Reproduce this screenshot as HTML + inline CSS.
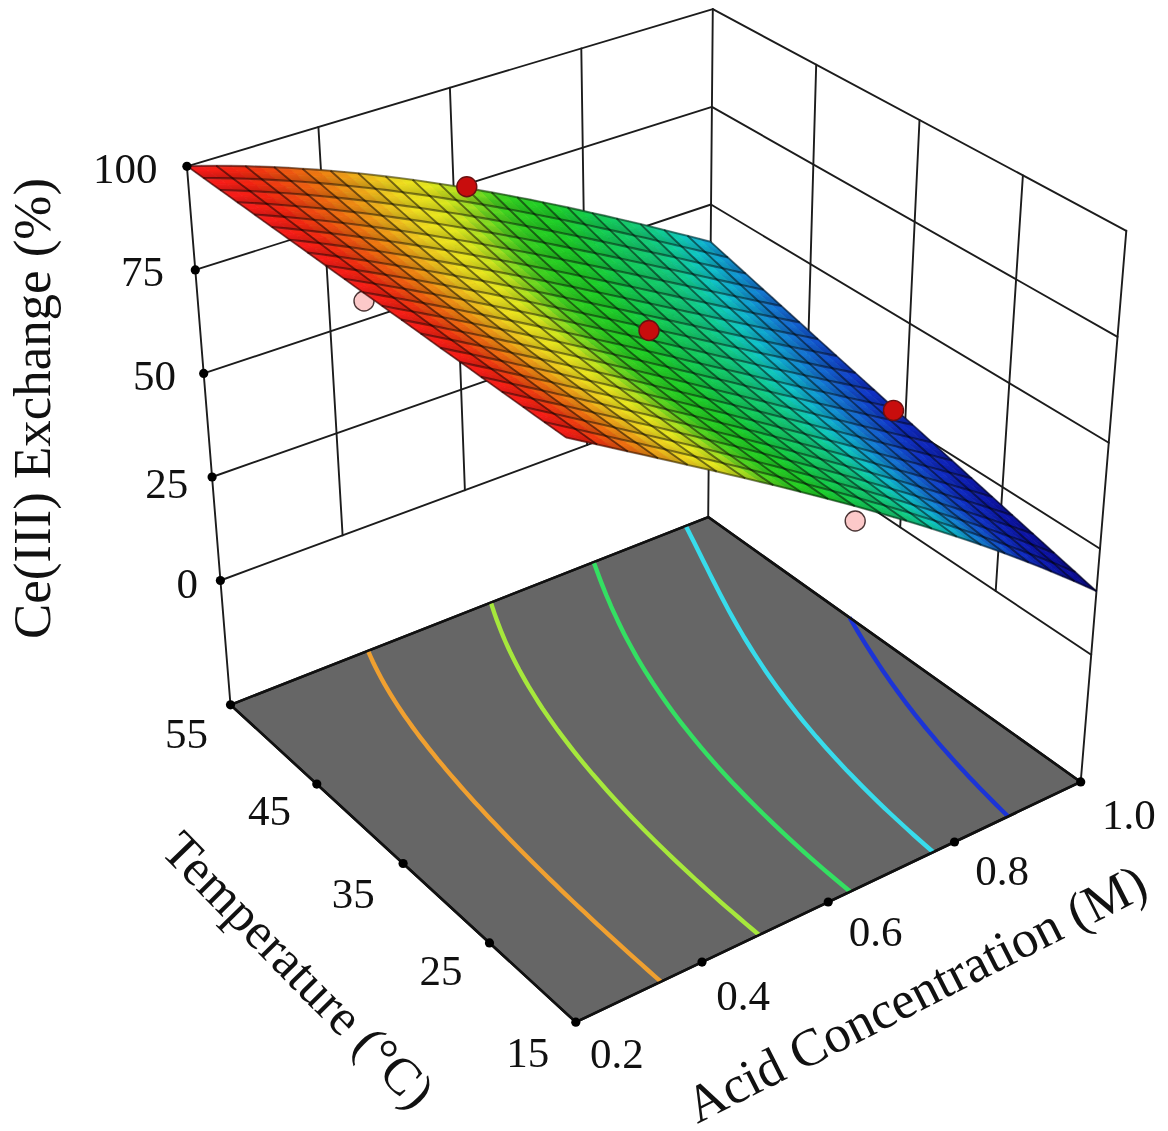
<!DOCTYPE html>
<html lang="en"><head><meta charset="utf-8"><title>Ce(III) Exchange response surface</title>
<style>html,body{margin:0;padding:0;background:#fff}svg{display:block}</style></head>
<body>
<svg width="1168" height="1131" viewBox="0 0 1168 1131">
<defs><linearGradient id="sh" x1="0" y1="0" x2="0.2" y2="1"><stop offset="0" stop-color="#fff" stop-opacity="0.12"/><stop offset="0.4" stop-color="#000" stop-opacity="0"/><stop offset="1" stop-color="#000" stop-opacity="0.18"/></linearGradient></defs>
<rect width="1168" height="1131" fill="#fff"/>
<g stroke="#1c1c1c" stroke-width="1.9" fill="none" stroke-linecap="round">
<path d="M186.9,166.3L712.8,9.2"/>
<path d="M195.3,269.9L711.9,106.9"/>
<path d="M203.7,373.4L711.0,204.5"/>
<path d="M212.1,477.0L710.1,302.2"/>
<path d="M220.4,580.5L709.3,399.9"/>
<path d="M318.4,127.0L342.6,535.4"/>
<path d="M449.9,87.8L464.9,490.2"/>
<path d="M581.3,48.5L587.1,445.1"/>
<path d="M712.8,9.2L1126.3,230.8"/>
<path d="M711.9,106.9L1117.5,336.8"/>
<path d="M711.0,204.5L1108.8,442.8"/>
<path d="M710.1,302.2L1100.0,548.7"/>
<path d="M709.3,399.9L1091.2,654.7"/>
<path d="M816.2,64.6L804.8,463.6"/>
<path d="M919.5,120.0L900.2,527.3"/>
<path d="M1022.9,175.4L995.7,591.0"/>
<path d="M186.9,166.3L230.5,704.8"/>
<path d="M712.8,9.2L708.2,517.1"/>
<path d="M1126.3,230.8L1080.7,781.9"/>
</g>
<polygon points="230.5,704.8 708.2,517.1 1080.7,781.9 575.8,1022.2" fill="#666666" stroke="#111" stroke-width="2.5" stroke-linejoin="round"/>
<g fill="none" stroke-width="4.4" stroke-linecap="butt">
<path d="M368.1,650.9L370.5,656.5L373.0,662.0L375.7,667.5L378.5,673.0L381.4,678.5L384.4,683.9L387.6,689.3L390.9,694.8L394.2,700.2L397.7,705.6L401.3,711.0L405.0,716.4L408.8,721.7L412.6,727.1L416.6,732.5L420.6,737.8L424.8,743.2L429.0,748.6L433.3,753.9L437.6,759.3L442.1,764.7L446.6,770.1L451.1,775.4L455.8,780.8L460.5,786.2L465.3,791.6L470.1,797.0L475.0,802.4L480.0,807.8L485.0,813.2L490.1,818.7L495.2,824.1L500.4,829.5L505.7,835.0L511.0,840.5L516.4,846.0L521.8,851.5L527.3,857.0L532.8,862.5L538.4,868.0L544.0,873.5L549.7,879.1L555.5,884.7L561.3,890.3L567.1,895.9L573.0,901.5L579.0,907.1L585.0,912.7L591.0,918.4L597.1,924.1L603.2,929.7L609.4,935.4L615.7,941.2L622.0,946.9L628.3,952.6L634.7,958.4L641.2,964.2L647.7,970.0L654.3,975.8L660.9,981.6" stroke="#f0a030"/>
<path d="M490.9,602.6L492.7,608.2L494.6,613.9L496.6,619.5L498.7,625.1L500.9,630.8L503.2,636.4L505.6,642.0L508.1,647.5L510.7,653.1L513.5,658.7L516.3,664.2L519.2,669.8L522.3,675.3L525.4,680.9L528.6,686.4L532.0,691.9L535.4,697.4L538.9,703.0L542.5,708.5L546.3,714.0L550.1,719.4L554.0,724.9L557.9,730.4L562.0,735.9L566.2,741.4L570.4,746.9L574.7,752.4L579.1,757.8L583.6,763.3L588.2,768.8L592.8,774.3L597.6,779.7L602.4,785.2L607.2,790.7L612.2,796.2L617.2,801.7L622.3,807.2L627.5,812.7L632.7,818.2L638.1,823.7L643.4,829.2L648.9,834.7L654.4,840.2L660.0,845.7L665.7,851.3L671.5,856.8L677.3,862.3L683.2,867.9L689.1,873.4L695.1,879.0L701.2,884.5L707.4,890.1L713.6,895.7L719.9,901.3L726.2,906.8L732.7,912.4L739.2,918.0L745.7,923.6L752.4,929.2L759.1,934.9" stroke="#a6e83c"/>
<path d="M593.7,562.2L595.7,567.6L597.7,573.1L599.8,578.6L601.9,584.1L604.1,589.6L606.3,595.1L608.7,600.6L611.0,606.1L613.5,611.6L616.1,617.1L618.7,622.7L621.4,628.2L624.1,633.7L627.0,639.2L630.0,644.7L633.0,650.3L636.1,655.8L639.3,661.3L642.6,666.8L646.0,672.3L649.5,677.8L653.0,683.3L656.7,688.8L660.4,694.3L664.2,699.8L668.1,705.3L672.1,710.8L676.2,716.3L680.4,721.8L684.6,727.2L689.0,732.7L693.4,738.2L697.9,743.7L702.5,749.1L707.2,754.6L712.0,760.1L716.8,765.6L721.7,771.0L726.7,776.5L731.8,782.0L737.0,787.4L742.3,792.9L747.6,798.4L753.0,803.8L758.5,809.3L764.1,814.8L769.7,820.2L775.4,825.7L781.2,831.2L787.1,836.7L793.1,842.1L799.1,847.6L805.2,853.1L811.4,858.6L817.7,864.1L824.0,869.6L830.4,875.0L836.9,880.5L843.5,886.0L850.1,891.5" stroke="#34e062"/>
<path d="M685.8,525.9L688.4,531.0L691.0,536.2L693.6,541.3L696.2,546.5L698.8,551.7L701.4,557.0L704.0,562.3L706.7,567.6L709.3,572.9L712.0,578.3L714.7,583.6L717.5,589.0L720.3,594.4L723.1,599.8L726.0,605.3L728.9,610.7L731.9,616.1L735.0,621.6L738.1,627.1L741.3,632.5L744.5,638.0L747.9,643.5L751.3,649.0L754.7,654.4L758.3,659.9L761.9,665.4L765.6,670.9L769.4,676.4L773.3,681.9L777.2,687.4L781.2,692.9L785.3,698.3L789.5,703.8L793.8,709.3L798.1,714.8L802.5,720.3L807.1,725.8L811.7,731.3L816.3,736.8L821.1,742.2L825.9,747.7L830.9,753.2L835.9,758.7L841.0,764.2L846.1,769.7L851.4,775.1L856.7,780.6L862.1,786.1L867.6,791.6L873.2,797.1L878.8,802.6L884.5,808.1L890.3,813.5L896.2,819.0L902.2,824.5L908.2,830.0L914.3,835.5L920.5,841.0L926.8,846.5L933.1,852.0" stroke="#38dcec"/>
<path d="M849.6,617.6L851.3,620.5L854.5,626.0L857.8,631.5L861.2,637.1L864.6,642.6L868.1,648.2L871.7,653.8L875.3,659.3L879.0,664.9L882.7,670.5L886.6,676.1L890.5,681.7L894.5,687.3L898.6,692.9L902.7,698.5L906.9,704.1L911.2,709.7L915.6,715.3L920.1,720.9L924.6,726.5L929.3,732.1L934.0,737.7L938.7,743.3L943.6,748.9L948.6,754.5L953.6,760.1L958.7,765.7L963.9,771.3L969.1,776.9L974.5,782.6L979.9,788.2L985.4,793.8L990.9,799.4L996.6,805.1L1002.3,810.7L1008.1,816.3" stroke="#1c34d6"/>
</g>
<polygon points="230.5,704.8 708.2,517.1 1080.7,781.9 575.8,1022.2" fill="none" stroke="#111" stroke-width="2.5" stroke-linejoin="round"/>
<circle cx="364" cy="301" r="10" fill="#fcc9c9" stroke="#4a3434" stroke-width="1.4"/>
<circle cx="855.2" cy="521" r="10" fill="#fcc9c9" stroke="#4a3434" stroke-width="1.4"/>
<g stroke-width="0.8" stroke-linejoin="round">
<path d="M699.1,238.7L710.6,241.7L719.3,249.6L707.8,246.7Z" fill="#10a6d1" stroke="#10a6d1"/>
<path d="M707.8,246.7L719.3,249.6L728.0,257.5L716.5,254.8Z" fill="#109ed2" stroke="#109ed2"/>
<path d="M687.5,235.8L699.1,238.7L707.8,246.7L696.2,243.9Z" fill="#10b9cc" stroke="#10b9cc"/>
<path d="M675.9,232.9L687.5,235.8L696.2,243.9L684.6,241.0Z" fill="#10c9c3" stroke="#10c9c3"/>
<path d="M716.5,254.8L728.0,257.5L736.8,265.5L725.3,262.8Z" fill="#1197d2" stroke="#1197d2"/>
<path d="M696.2,243.9L707.8,246.7L716.5,254.8L705.0,252.0Z" fill="#10b2ce" stroke="#10b2ce"/>
<path d="M664.2,229.9L675.9,232.9L684.6,241.0L672.9,238.2Z" fill="#10ccae" stroke="#10ccae"/>
<path d="M684.6,241.0L696.2,243.9L705.0,252.0L693.4,249.2Z" fill="#10c5c9" stroke="#10c5c9"/>
<path d="M725.3,262.8L736.8,265.5L745.7,273.5L734.2,270.9Z" fill="#128fd3" stroke="#128fd3"/>
<path d="M705.0,252.0L716.5,254.8L725.3,262.8L713.8,260.1Z" fill="#10aacf" stroke="#10aacf"/>
<path d="M672.9,238.2L684.6,241.0L693.4,249.2L681.6,246.4Z" fill="#10cbb7" stroke="#10cbb7"/>
<path d="M652.4,227.0L664.2,229.9L672.9,238.2L661.1,235.3Z" fill="#10d099" stroke="#10d099"/>
<path d="M693.4,249.2L705.0,252.0L713.8,260.1L702.2,257.4Z" fill="#10bdcb" stroke="#10bdcb"/>
<path d="M734.2,270.9L745.7,273.5L754.6,281.6L743.1,279.0Z" fill="#1288d3" stroke="#1288d3"/>
<path d="M713.8,260.1L725.3,262.8L734.2,270.9L722.6,268.3Z" fill="#10a3d1" stroke="#10a3d1"/>
<path d="M640.5,224.1L652.4,227.0L661.1,235.3L649.2,232.5Z" fill="#12ce87" stroke="#12ce87"/>
<path d="M681.6,246.4L693.4,249.2L702.2,257.4L690.4,254.7Z" fill="#10c9bf" stroke="#10c9bf"/>
<path d="M743.1,279.0L754.6,281.6L763.5,289.7L752.0,287.2Z" fill="#1380d4" stroke="#1380d4"/>
<path d="M661.1,235.3L672.9,238.2L681.6,246.4L669.9,243.7Z" fill="#10cea1" stroke="#10cea1"/>
<path d="M702.2,257.4L713.8,260.1L722.6,268.3L711.0,265.6Z" fill="#10b6cd" stroke="#10b6cd"/>
<path d="M722.6,268.3L734.2,270.9L743.1,279.0L731.5,276.5Z" fill="#109bd2" stroke="#109bd2"/>
<path d="M649.2,232.5L661.1,235.3L669.9,243.7L658.0,240.9Z" fill="#11cf8e" stroke="#11cf8e"/>
<path d="M690.4,254.7L702.2,257.4L711.0,265.6L699.3,263.0Z" fill="#10c8c8" stroke="#10c8c8"/>
<path d="M752.0,287.2L763.5,289.7L772.5,297.8L761.0,295.4Z" fill="#1479d4" stroke="#1479d4"/>
<path d="M628.6,221.3L640.5,224.1L649.2,232.5L637.3,229.7Z" fill="#14cc77" stroke="#14cc77"/>
<path d="M669.9,243.7L681.6,246.4L690.4,254.7L678.7,252.0Z" fill="#10cdaa" stroke="#10cdaa"/>
<path d="M711.0,265.6L722.6,268.3L731.5,276.5L719.9,273.9Z" fill="#10aece" stroke="#10aece"/>
<path d="M731.5,276.5L743.1,279.0L752.0,287.2L740.5,284.7Z" fill="#1194d3" stroke="#1194d3"/>
<path d="M616.5,218.4L628.6,221.3L637.3,229.7L625.2,226.9Z" fill="#14cd6d" stroke="#14cd6d"/>
<path d="M658.0,240.9L669.9,243.7L678.7,252.0L666.8,249.3Z" fill="#10d095" stroke="#10d095"/>
<path d="M699.3,263.0L711.0,265.6L719.9,273.9L708.2,271.3Z" fill="#10c1ca" stroke="#10c1ca"/>
<path d="M719.9,273.9L731.5,276.5L740.5,284.7L728.8,282.1Z" fill="#10a7d0" stroke="#10a7d0"/>
<path d="M761.0,295.4L772.5,297.8L781.5,306.0L770.0,303.6Z" fill="#1472d3" stroke="#1472d3"/>
<path d="M637.3,229.7L649.2,232.5L658.0,240.9L646.0,238.1Z" fill="#13cd7d" stroke="#13cd7d"/>
<path d="M678.7,252.0L690.4,254.7L699.3,263.0L687.5,260.3Z" fill="#10cbb3" stroke="#10cbb3"/>
<path d="M740.5,284.7L752.0,287.2L761.0,295.4L749.4,292.9Z" fill="#128cd3" stroke="#128cd3"/>
<path d="M604.4,215.6L616.5,218.4L625.2,226.9L613.1,224.1Z" fill="#14cd63" stroke="#14cd63"/>
<path d="M708.2,271.3L719.9,273.9L728.8,282.1L717.1,279.6Z" fill="#10b9cc" stroke="#10b9cc"/>
<path d="M625.2,226.9L637.3,229.7L646.0,238.1L634.0,235.4Z" fill="#14cc71" stroke="#14cc71"/>
<path d="M666.8,249.3L678.7,252.0L687.5,260.3L675.6,257.6Z" fill="#10cf9e" stroke="#10cf9e"/>
<path d="M728.8,282.1L740.5,284.7L749.4,292.9L737.8,290.4Z" fill="#10a0d2" stroke="#10a0d2"/>
<path d="M770.0,303.6L781.5,306.0L790.6,314.2L779.1,311.9Z" fill="#136cd2" stroke="#136cd2"/>
<path d="M646.0,238.1L658.0,240.9L666.8,249.3L654.8,246.5Z" fill="#12ce84" stroke="#12ce84"/>
<path d="M687.5,260.3L699.3,263.0L708.2,271.3L696.4,268.7Z" fill="#10cabb" stroke="#10cabb"/>
<path d="M749.4,292.9L761.0,295.4L770.0,303.6L758.5,301.2Z" fill="#1384d3" stroke="#1384d3"/>
<path d="M613.1,224.1L625.2,226.9L634.0,235.4L621.9,232.6Z" fill="#14cd67" stroke="#14cd67"/>
<path d="M717.1,279.6L728.8,282.1L737.8,290.4L726.1,287.9Z" fill="#10b2ce" stroke="#10b2ce"/>
<path d="M592.2,212.9L604.4,215.6L613.1,224.1L600.9,221.4Z" fill="#14ce59" stroke="#14ce59"/>
<path d="M634.0,235.4L646.0,238.1L654.8,246.5L642.8,243.8Z" fill="#14cc75" stroke="#14cc75"/>
<path d="M675.6,257.6L687.5,260.3L696.4,268.7L684.5,266.0Z" fill="#10cda6" stroke="#10cda6"/>
<path d="M696.4,268.7L708.2,271.3L717.1,279.6L705.3,277.0Z" fill="#10c9c4" stroke="#10c9c4"/>
<path d="M737.8,290.4L749.4,292.9L758.5,301.2L746.8,298.7Z" fill="#1198d2" stroke="#1198d2"/>
<path d="M779.1,311.9L790.6,314.2L799.7,322.4L788.2,320.1Z" fill="#1365d1" stroke="#1365d1"/>
<path d="M654.8,246.5L666.8,249.3L675.6,257.6L663.7,254.9Z" fill="#11cf8b" stroke="#11cf8b"/>
<path d="M758.5,301.2L770.0,303.6L779.1,311.9L767.5,309.5Z" fill="#147dd4" stroke="#147dd4"/>
<path d="M579.9,210.1L592.2,212.9L600.9,221.4L588.6,218.7Z" fill="#14ce4f" stroke="#14ce4f"/>
<path d="M621.9,232.6L634.0,235.4L642.8,243.8L630.7,241.1Z" fill="#14cd6c" stroke="#14cd6c"/>
<path d="M684.5,266.0L696.4,268.7L705.3,277.0L693.4,274.4Z" fill="#10ccaf" stroke="#10ccaf"/>
<path d="M726.1,287.9L737.8,290.4L746.8,298.7L735.1,296.2Z" fill="#10abcf" stroke="#10abcf"/>
<path d="M788.2,320.1L799.7,322.4L808.8,330.7L797.4,328.5Z" fill="#135fd0" stroke="#135fd0"/>
<path d="M600.9,221.4L613.1,224.1L621.9,232.6L609.7,229.9Z" fill="#14cd5d" stroke="#14cd5d"/>
<path d="M642.8,243.8L654.8,246.5L663.7,254.9L651.6,252.3Z" fill="#14cc7b" stroke="#14cc7b"/>
<path d="M705.3,277.0L717.1,279.6L726.1,287.9L714.3,285.4Z" fill="#10c4c9" stroke="#10c4c9"/>
<path d="M746.8,298.7L758.5,301.2L767.5,309.5L755.9,307.1Z" fill="#1290d3" stroke="#1290d3"/>
<path d="M663.7,254.9L675.6,257.6L684.5,266.0L672.6,263.4Z" fill="#10d092" stroke="#10d092"/>
<path d="M767.5,309.5L779.1,311.9L788.2,320.1L776.6,317.8Z" fill="#1476d4" stroke="#1476d4"/>
<path d="M588.6,218.7L600.9,221.4L609.7,229.9L597.4,227.2Z" fill="#14ce53" stroke="#14ce53"/>
<path d="M630.7,241.1L642.8,243.8L651.6,252.3L639.5,249.6Z" fill="#14cc70" stroke="#14cc70"/>
<path d="M693.4,274.4L705.3,277.0L714.3,285.4L702.4,282.8Z" fill="#10cbb7" stroke="#10cbb7"/>
<path d="M735.1,296.2L746.8,298.7L755.9,307.1L744.2,304.6Z" fill="#10a3d1" stroke="#10a3d1"/>
<path d="M797.4,328.5L808.8,330.7L818.0,339.1L806.6,336.8Z" fill="#1259cf" stroke="#1259cf"/>
<path d="M567.6,207.4L579.9,210.1L588.6,218.7L576.3,216.0Z" fill="#17cf43" stroke="#17cf43"/>
<path d="M609.7,229.9L621.9,232.6L630.7,241.1L618.5,238.4Z" fill="#14cd62" stroke="#14cd62"/>
<path d="M651.6,252.3L663.7,254.9L672.6,263.4L660.5,260.7Z" fill="#13cd82" stroke="#13cd82"/>
<path d="M672.6,263.4L684.5,266.0L693.4,274.4L681.5,271.8Z" fill="#10cf9a" stroke="#10cf9a"/>
<path d="M714.3,285.4L726.1,287.9L735.1,296.2L723.3,293.7Z" fill="#10bdcb" stroke="#10bdcb"/>
<path d="M755.9,307.1L767.5,309.5L776.6,317.8L765.0,315.4Z" fill="#1289d3" stroke="#1289d3"/>
<path d="M776.6,317.8L788.2,320.1L797.4,328.5L785.8,326.1Z" fill="#146fd2" stroke="#146fd2"/>
<path d="M555.1,204.8L567.6,207.4L576.3,216.0L563.8,213.3Z" fill="#1acf36" stroke="#1acf36"/>
<path d="M597.4,227.2L609.7,229.9L618.5,238.4L606.2,235.7Z" fill="#14ce58" stroke="#14ce58"/>
<path d="M639.5,249.6L651.6,252.3L660.5,260.7L648.4,258.0Z" fill="#14cc74" stroke="#14cc74"/>
<path d="M660.5,260.7L672.6,263.4L681.5,271.8L669.5,269.1Z" fill="#12ce89" stroke="#12ce89"/>
<path d="M702.4,282.8L714.3,285.4L723.3,293.7L711.5,291.2Z" fill="#10c9c0" stroke="#10c9c0"/>
<path d="M744.2,304.6L755.9,307.1L765.0,315.4L753.3,313.0Z" fill="#109cd2" stroke="#109cd2"/>
<path d="M765.0,315.4L776.6,317.8L785.8,326.1L774.2,323.8Z" fill="#1381d4" stroke="#1381d4"/>
<path d="M806.6,336.8L818.0,339.1L827.3,347.5L815.8,345.2Z" fill="#1252cd" stroke="#1252cd"/>
<path d="M576.3,216.0L588.6,218.7L597.4,227.2L585.0,224.5Z" fill="#16ce48" stroke="#16ce48"/>
<path d="M618.5,238.4L630.7,241.1L639.5,249.6L627.3,246.9Z" fill="#14cd66" stroke="#14cd66"/>
<path d="M681.5,271.8L693.4,274.4L702.4,282.8L690.5,280.2Z" fill="#10cea2" stroke="#10cea2"/>
<path d="M723.3,293.7L735.1,296.2L744.2,304.6L732.4,302.1Z" fill="#10b6cd" stroke="#10b6cd"/>
<path d="M785.8,326.1L797.4,328.5L806.6,336.8L795.0,334.5Z" fill="#1369d1" stroke="#1369d1"/>
<path d="M542.6,202.2L555.1,204.8L563.8,213.3L551.3,210.7Z" fill="#1dd02a" stroke="#1dd02a"/>
<path d="M648.4,258.0L660.5,260.7L669.5,269.1L657.3,266.5Z" fill="#14cc78" stroke="#14cc78"/>
<path d="M753.3,313.0L765.0,315.4L774.2,323.8L762.5,321.3Z" fill="#1195d3" stroke="#1195d3"/>
<path d="M563.8,213.3L576.3,216.0L585.0,224.5L572.6,221.9Z" fill="#19cf3c" stroke="#19cf3c"/>
<path d="M606.2,235.7L618.5,238.4L627.3,246.9L615.0,244.2Z" fill="#14cd5c" stroke="#14cd5c"/>
<path d="M669.5,269.1L681.5,271.8L690.5,280.2L678.4,277.6Z" fill="#11cf8f" stroke="#11cf8f"/>
<path d="M711.5,291.2L723.3,293.7L732.4,302.1L720.5,299.6Z" fill="#10c8c8" stroke="#10c8c8"/>
<path d="M774.2,323.8L785.8,326.1L795.0,334.5L783.4,332.1Z" fill="#147ad4" stroke="#147ad4"/>
<path d="M815.8,345.2L827.3,347.5L836.6,355.9L825.1,353.6Z" fill="#124ccc" stroke="#124ccc"/>
<path d="M585.0,224.5L597.4,227.2L606.2,235.7L593.8,233.1Z" fill="#15ce4d" stroke="#15ce4d"/>
<path d="M627.3,246.9L639.5,249.6L648.4,258.0L636.2,255.4Z" fill="#14cd6a" stroke="#14cd6a"/>
<path d="M690.5,280.2L702.4,282.8L711.5,291.2L699.5,288.6Z" fill="#10cdab" stroke="#10cdab"/>
<path d="M732.4,302.1L744.2,304.6L753.3,313.0L741.5,310.5Z" fill="#10afce" stroke="#10afce"/>
<path d="M795.0,334.5L806.6,336.8L815.8,345.2L804.3,342.9Z" fill="#1363d0" stroke="#1363d0"/>
<path d="M551.3,210.7L563.8,213.3L572.6,221.9L560.0,219.3Z" fill="#1cd030" stroke="#1cd030"/>
<path d="M657.3,266.5L669.5,269.1L678.4,277.6L666.3,274.9Z" fill="#13cd7f" stroke="#13cd7f"/>
<path d="M762.5,321.3L774.2,323.8L783.4,332.1L771.7,329.7Z" fill="#128dd3" stroke="#128dd3"/>
<path d="M530.0,199.6L542.6,202.2L551.3,210.7L538.7,208.2Z" fill="#22d026" stroke="#22d026"/>
<path d="M572.6,221.9L585.0,224.5L593.8,233.1L581.4,230.4Z" fill="#18cf41" stroke="#18cf41"/>
<path d="M615.0,244.2L627.3,246.9L636.2,255.4L623.9,252.7Z" fill="#14cd60" stroke="#14cd60"/>
<path d="M636.2,255.4L648.4,258.0L657.3,266.5L645.1,263.8Z" fill="#14cc6e" stroke="#14cc6e"/>
<path d="M678.4,277.6L690.5,280.2L699.5,288.6L687.5,286.0Z" fill="#10d096" stroke="#10d096"/>
<path d="M720.5,299.6L732.4,302.1L741.5,310.5L729.6,308.0Z" fill="#10c1ca" stroke="#10c1ca"/>
<path d="M741.5,310.5L753.3,313.0L762.5,321.3L750.7,318.9Z" fill="#10a8d0" stroke="#10a8d0"/>
<path d="M783.4,332.1L795.0,334.5L804.3,342.9L792.7,340.5Z" fill="#1473d3" stroke="#1473d3"/>
<path d="M825.1,353.6L836.6,355.9L846.0,364.4L834.5,362.1Z" fill="#1146cb" stroke="#1146cb"/>
<path d="M593.8,233.1L606.2,235.7L615.0,244.2L602.7,241.6Z" fill="#14ce52" stroke="#14ce52"/>
<path d="M699.5,288.6L711.5,291.2L720.5,299.6L708.6,297.0Z" fill="#10cbb3" stroke="#10cbb3"/>
<path d="M804.3,342.9L815.8,345.2L825.1,353.6L813.6,351.3Z" fill="#135ccf" stroke="#135ccf"/>
<path d="M517.3,197.2L530.0,199.6L538.7,208.2L526.0,205.7Z" fill="#27d024" stroke="#27d024"/>
<path d="M560.0,219.3L572.6,221.9L581.4,230.4L568.8,227.8Z" fill="#1bcf35" stroke="#1bcf35"/>
<path d="M623.9,252.7L636.2,255.4L645.1,263.8L632.9,261.2Z" fill="#14cd64" stroke="#14cd64"/>
<path d="M666.3,274.9L678.4,277.6L687.5,286.0L675.3,283.4Z" fill="#12ce85" stroke="#12ce85"/>
<path d="M729.6,308.0L741.5,310.5L750.7,318.9L738.8,316.3Z" fill="#10bacb" stroke="#10bacb"/>
<path d="M771.7,329.7L783.4,332.1L792.7,340.5L781.0,338.1Z" fill="#1386d3" stroke="#1386d3"/>
<path d="M834.5,362.1L846.0,364.4L855.4,372.9L843.9,370.6Z" fill="#113fca" stroke="#113fca"/>
<path d="M538.7,208.2L551.3,210.7L560.0,219.3L547.4,216.7Z" fill="#20d027" stroke="#20d027"/>
<path d="M581.4,230.4L593.8,233.1L602.7,241.6L590.2,238.9Z" fill="#16ce46" stroke="#16ce46"/>
<path d="M645.1,263.8L657.3,266.5L666.3,274.9L654.1,272.3Z" fill="#14cc72" stroke="#14cc72"/>
<path d="M687.5,286.0L699.5,288.6L708.6,297.0L696.5,294.4Z" fill="#10cf9e" stroke="#10cf9e"/>
<path d="M750.7,318.9L762.5,321.3L771.7,329.7L759.9,327.3Z" fill="#10a1d2" stroke="#10a1d2"/>
<path d="M792.7,340.5L804.3,342.9L813.6,351.3L802.0,349.0Z" fill="#136dd2" stroke="#136dd2"/>
<path d="M602.7,241.6L615.0,244.2L623.9,252.7L611.5,250.1Z" fill="#14ce56" stroke="#14ce56"/>
<path d="M708.6,297.0L720.5,299.6L729.6,308.0L717.7,305.4Z" fill="#10cabb" stroke="#10cabb"/>
<path d="M813.6,351.3L825.1,353.6L834.5,362.1L823.0,359.8Z" fill="#1256ce" stroke="#1256ce"/>
<path d="M526.0,205.7L538.7,208.2L547.4,216.7L534.7,214.2Z" fill="#25d025" stroke="#25d025"/>
<path d="M568.8,227.8L581.4,230.4L590.2,238.9L577.7,236.3Z" fill="#19cf3a" stroke="#19cf3a"/>
<path d="M632.9,261.2L645.1,263.8L654.1,272.3L641.8,269.6Z" fill="#14cd68" stroke="#14cd68"/>
<path d="M675.3,283.4L687.5,286.0L696.5,294.4L684.4,291.8Z" fill="#11cf8c" stroke="#11cf8c"/>
<path d="M738.8,316.3L750.7,318.9L759.9,327.3L748.0,324.8Z" fill="#10b3cd" stroke="#10b3cd"/>
<path d="M781.0,338.1L792.7,340.5L802.0,349.0L790.3,346.6Z" fill="#137fd4" stroke="#137fd4"/>
<path d="M843.9,370.6L855.4,372.9L864.8,381.4L853.4,379.1Z" fill="#1039c9" stroke="#1039c9"/>
<path d="M504.5,194.7L517.3,197.2L526.0,205.7L513.2,203.2Z" fill="#2ed022" stroke="#2ed022"/>
<path d="M547.4,216.7L560.0,219.3L568.8,227.8L556.2,225.2Z" fill="#1ed029" stroke="#1ed029"/>
<path d="M590.2,238.9L602.7,241.6L611.5,250.1L599.1,247.4Z" fill="#15ce4c" stroke="#15ce4c"/>
<path d="M611.5,250.1L623.9,252.7L632.9,261.2L620.5,258.5Z" fill="#14cd5a" stroke="#14cd5a"/>
<path d="M654.1,272.3L666.3,274.9L675.3,283.4L663.1,280.7Z" fill="#14cc76" stroke="#14cc76"/>
<path d="M696.5,294.4L708.6,297.0L717.7,305.4L705.7,302.8Z" fill="#10cda6" stroke="#10cda6"/>
<path d="M717.7,305.4L729.6,308.0L738.8,316.3L726.9,313.8Z" fill="#10c9c3" stroke="#10c9c3"/>
<path d="M759.9,327.3L771.7,329.7L781.0,338.1L769.2,335.7Z" fill="#1199d2" stroke="#1199d2"/>
<path d="M802.0,349.0L813.6,351.3L823.0,359.8L811.3,357.4Z" fill="#1367d1" stroke="#1367d1"/>
<path d="M823.0,359.8L834.5,362.1L843.9,370.6L832.4,368.3Z" fill="#1250cd" stroke="#1250cd"/>
<path d="M491.6,192.4L504.5,194.7L513.2,203.2L500.3,200.8Z" fill="#3cd220" stroke="#3cd220"/>
<path d="M534.7,214.2L547.4,216.7L556.2,225.2L543.5,222.7Z" fill="#22d026" stroke="#22d026"/>
<path d="M577.7,236.3L590.2,238.9L599.1,247.4L586.5,244.8Z" fill="#18cf3f" stroke="#18cf3f"/>
<path d="M599.1,247.4L611.5,250.1L620.5,258.5L608.0,255.9Z" fill="#14ce51" stroke="#14ce51"/>
<path d="M641.8,269.6L654.1,272.3L663.1,280.7L650.9,278.1Z" fill="#14cd6c" stroke="#14cd6c"/>
<path d="M684.4,291.8L696.5,294.4L705.7,302.8L693.5,300.2Z" fill="#11cf92" stroke="#11cf92"/>
<path d="M705.7,302.8L717.7,305.4L726.9,313.8L714.8,311.2Z" fill="#10ccae" stroke="#10ccae"/>
<path d="M748.0,324.8L759.9,327.3L769.2,335.7L757.3,333.2Z" fill="#10accf" stroke="#10accf"/>
<path d="M790.3,346.6L802.0,349.0L811.3,357.4L799.6,355.0Z" fill="#1477d4" stroke="#1477d4"/>
<path d="M811.3,357.4L823.0,359.8L832.4,368.3L820.7,365.9Z" fill="#1361d0" stroke="#1361d0"/>
<path d="M853.4,379.1L864.8,381.4L874.3,390.0L862.9,387.7Z" fill="#1033c8" stroke="#1033c8"/>
<path d="M513.2,203.2L526.0,205.7L534.7,214.2L521.9,211.7Z" fill="#29d022" stroke="#29d022"/>
<path d="M556.2,225.2L568.8,227.8L577.7,236.3L565.0,233.7Z" fill="#1cd02e" stroke="#1cd02e"/>
<path d="M620.5,258.5L632.9,261.2L641.8,269.6L629.5,267.0Z" fill="#14cd5e" stroke="#14cd5e"/>
<path d="M663.1,280.7L675.3,283.4L684.4,291.8L672.2,289.1Z" fill="#14cc7b" stroke="#14cc7b"/>
<path d="M726.9,313.8L738.8,316.3L748.0,324.8L736.1,322.2Z" fill="#10c6c9" stroke="#10c6c9"/>
<path d="M769.2,335.7L781.0,338.1L790.3,346.6L778.5,344.1Z" fill="#1192d3" stroke="#1192d3"/>
<path d="M832.4,368.3L843.9,370.6L853.4,379.1L841.8,376.8Z" fill="#124acc" stroke="#124acc"/>
<path d="M478.7,190.1L491.6,192.4L500.3,200.8L487.3,198.5Z" fill="#55d520" stroke="#55d520"/>
<path d="M586.5,244.8L599.1,247.4L608.0,255.9L595.5,253.2Z" fill="#17cf44" stroke="#17cf44"/>
<path d="M693.5,300.2L705.7,302.8L714.8,311.2L702.7,308.6Z" fill="#10d099" stroke="#10d099"/>
<path d="M799.6,355.0L811.3,357.4L820.7,365.9L809.1,363.4Z" fill="#1471d3" stroke="#1471d3"/>
<path d="M500.3,200.8L513.2,203.2L521.9,211.7L509.0,209.3Z" fill="#36d121" stroke="#36d121"/>
<path d="M543.5,222.7L556.2,225.2L565.0,233.7L552.3,231.1Z" fill="#20d027" stroke="#20d027"/>
<path d="M608.0,255.9L620.5,258.5L629.5,267.0L617.0,264.3Z" fill="#14ce54" stroke="#14ce54"/>
<path d="M650.9,278.1L663.1,280.7L672.2,289.1L659.9,286.5Z" fill="#14cc70" stroke="#14cc70"/>
<path d="M714.8,311.2L726.9,313.8L736.1,322.2L724.1,319.6Z" fill="#10cbb6" stroke="#10cbb6"/>
<path d="M757.3,333.2L769.2,335.7L778.5,344.1L766.6,341.6Z" fill="#10a6d1" stroke="#10a6d1"/>
<path d="M820.7,365.9L832.4,368.3L841.8,376.8L830.2,374.4Z" fill="#135bcf" stroke="#135bcf"/>
<path d="M862.9,387.7L874.3,390.0L883.9,398.7L872.4,396.3Z" fill="#1030c6" stroke="#1030c6"/>
<path d="M521.9,211.7L534.7,214.2L543.5,222.7L530.7,220.2Z" fill="#27d023" stroke="#27d023"/>
<path d="M565.0,233.7L577.7,236.3L586.5,244.8L573.9,242.2Z" fill="#1bcf33" stroke="#1bcf33"/>
<path d="M629.5,267.0L641.8,269.6L650.9,278.1L638.5,275.4Z" fill="#14cd62" stroke="#14cd62"/>
<path d="M672.2,289.1L684.4,291.8L693.5,300.2L681.3,297.6Z" fill="#13cd81" stroke="#13cd81"/>
<path d="M736.1,322.2L748.0,324.8L757.3,333.2L745.4,330.6Z" fill="#10bfca" stroke="#10bfca"/>
<path d="M778.5,344.1L790.3,346.6L799.6,355.0L787.9,352.5Z" fill="#128bd3" stroke="#128bd3"/>
<path d="M841.8,376.8L853.4,379.1L862.9,387.7L851.3,385.3Z" fill="#1144cb" stroke="#1144cb"/>
<path d="M487.3,198.5L500.3,200.8L509.0,209.3L496.1,206.9Z" fill="#47d320" stroke="#47d320"/>
<path d="M595.5,253.2L608.0,255.9L617.0,264.3L604.4,261.7Z" fill="#16ce49" stroke="#16ce49"/>
<path d="M702.7,308.6L714.8,311.2L724.1,319.6L711.9,317.0Z" fill="#10cea0" stroke="#10cea0"/>
<path d="M809.1,363.4L820.7,365.9L830.2,374.4L818.5,371.9Z" fill="#136bd2" stroke="#136bd2"/>
<path d="M509.0,209.3L521.9,211.7L530.7,220.2L517.8,217.7Z" fill="#30d022" stroke="#30d022"/>
<path d="M552.3,231.1L565.0,233.7L573.9,242.2L561.2,239.6Z" fill="#1ed028" stroke="#1ed028"/>
<path d="M617.0,264.3L629.5,267.0L638.5,275.4L626.0,272.7Z" fill="#14ce58" stroke="#14ce58"/>
<path d="M659.9,286.5L672.2,289.1L681.3,297.6L669.0,294.9Z" fill="#14cc74" stroke="#14cc74"/>
<path d="M724.1,319.6L736.1,322.2L745.4,330.6L733.3,328.0Z" fill="#10cabd" stroke="#10cabd"/>
<path d="M766.6,341.6L778.5,344.1L787.9,352.5L776.0,350.0Z" fill="#109fd2" stroke="#109fd2"/>
<path d="M830.2,374.4L841.8,376.8L851.3,385.3L839.7,382.9Z" fill="#1254ce" stroke="#1254ce"/>
<path d="M872.4,396.3L883.9,398.7L893.5,407.4L882.0,405.0Z" fill="#0f2ec4" stroke="#0f2ec4"/>
<path d="M465.6,187.9L478.7,190.1L487.3,198.5L474.3,196.2Z" fill="#76da20" stroke="#76da20"/>
<path d="M573.9,242.2L586.5,244.8L595.5,253.2L582.8,250.6Z" fill="#1acf38" stroke="#1acf38"/>
<path d="M681.3,297.6L693.5,300.2L702.7,308.6L690.5,306.0Z" fill="#12ce88" stroke="#12ce88"/>
<path d="M787.9,352.5L799.6,355.0L809.1,363.4L797.3,360.9Z" fill="#1384d3" stroke="#1384d3"/>
<path d="M530.7,220.2L543.5,222.7L552.3,231.1L539.5,228.6Z" fill="#25d024" stroke="#25d024"/>
<path d="M638.5,275.4L650.9,278.1L659.9,286.5L647.6,283.8Z" fill="#14cd66" stroke="#14cd66"/>
<path d="M745.4,330.6L757.3,333.2L766.6,341.6L754.7,339.0Z" fill="#10b8cc" stroke="#10b8cc"/>
<path d="M851.3,385.3L862.9,387.7L872.4,396.3L860.9,393.9Z" fill="#113dca" stroke="#113dca"/>
<path d="M496.1,206.9L509.0,209.3L517.8,217.7L504.8,215.3Z" fill="#3ed220" stroke="#3ed220"/>
<path d="M604.4,261.7L617.0,264.3L626.0,272.7L613.5,270.1Z" fill="#15ce4e" stroke="#15ce4e"/>
<path d="M711.9,317.0L724.1,319.6L733.3,328.0L721.2,325.4Z" fill="#10cda8" stroke="#10cda8"/>
<path d="M818.5,371.9L830.2,374.4L839.7,382.9L828.0,380.4Z" fill="#1365d1" stroke="#1365d1"/>
<path d="M882.0,405.0L893.5,407.4L903.1,416.1L891.7,413.7Z" fill="#0f2bc1" stroke="#0f2bc1"/>
<path d="M561.2,239.6L573.9,242.2L582.8,250.6L570.1,248.0Z" fill="#1dd02c" stroke="#1dd02c"/>
<path d="M669.0,294.9L681.3,297.6L690.5,306.0L678.2,303.3Z" fill="#14cc77" stroke="#14cc77"/>
<path d="M776.0,350.0L787.9,352.5L797.3,360.9L785.4,358.4Z" fill="#1198d2" stroke="#1198d2"/>
<path d="M452.5,185.7L465.6,187.9L474.3,196.2L461.2,194.1Z" fill="#9fe020" stroke="#9fe020"/>
<path d="M474.3,196.2L487.3,198.5L496.1,206.9L483.0,204.6Z" fill="#66d720" stroke="#66d720"/>
<path d="M517.8,217.7L530.7,220.2L539.5,228.6L526.6,226.1Z" fill="#2ad022" stroke="#2ad022"/>
<path d="M582.8,250.6L595.5,253.2L604.4,261.7L591.8,259.0Z" fill="#19cf3d" stroke="#19cf3d"/>
<path d="M626.0,272.7L638.5,275.4L647.6,283.8L635.1,281.1Z" fill="#14cd5c" stroke="#14cd5c"/>
<path d="M690.5,306.0L702.7,308.6L711.9,317.0L699.7,314.3Z" fill="#11cf8e" stroke="#11cf8e"/>
<path d="M733.3,328.0L745.4,330.6L754.7,339.0L742.6,336.4Z" fill="#10c9c4" stroke="#10c9c4"/>
<path d="M797.3,360.9L809.1,363.4L818.5,371.9L806.7,369.4Z" fill="#137dd4" stroke="#137dd4"/>
<path d="M839.7,382.9L851.3,385.3L860.9,393.9L849.3,391.4Z" fill="#124ecd" stroke="#124ecd"/>
<path d="M539.5,228.6L552.3,231.1L561.2,239.6L548.4,237.0Z" fill="#23d025" stroke="#23d025"/>
<path d="M647.6,283.8L659.9,286.5L669.0,294.9L656.7,292.2Z" fill="#14cd6a" stroke="#14cd6a"/>
<path d="M754.7,339.0L766.6,341.6L776.0,350.0L764.0,347.4Z" fill="#10b2ce" stroke="#10b2ce"/>
<path d="M860.9,393.9L872.4,396.3L882.0,405.0L870.5,402.5Z" fill="#1037c9" stroke="#1037c9"/>
<path d="M504.8,215.3L517.8,217.7L526.6,226.1L513.7,223.7Z" fill="#38d121" stroke="#38d121"/>
<path d="M570.1,248.0L582.8,250.6L591.8,259.0L579.1,256.4Z" fill="#1cd031" stroke="#1cd031"/>
<path d="M613.5,270.1L626.0,272.7L635.1,281.1L622.5,278.5Z" fill="#14ce52" stroke="#14ce52"/>
<path d="M678.2,303.3L690.5,306.0L699.7,314.3L687.4,311.7Z" fill="#13cd7d" stroke="#13cd7d"/>
<path d="M721.2,325.4L733.3,328.0L742.6,336.4L730.5,333.8Z" fill="#10ccaf" stroke="#10ccaf"/>
<path d="M785.4,358.4L797.3,360.9L806.7,369.4L794.9,366.8Z" fill="#1191d3" stroke="#1191d3"/>
<path d="M828.0,380.4L839.7,382.9L849.3,391.4L837.6,388.9Z" fill="#1360d0" stroke="#1360d0"/>
<path d="M439.3,183.7L452.5,185.7L461.2,194.1L447.9,191.9Z" fill="#c0e41f" stroke="#c0e41f"/>
<path d="M526.6,226.1L539.5,228.6L548.4,237.0L535.5,234.5Z" fill="#28d023" stroke="#28d023"/>
<path d="M635.1,281.1L647.6,283.8L656.7,292.2L644.2,289.5Z" fill="#14cd60" stroke="#14cd60"/>
<path d="M742.6,336.4L754.7,339.0L764.0,347.4L752.0,344.8Z" fill="#10c5c9" stroke="#10c5c9"/>
<path d="M849.3,391.4L860.9,393.9L870.5,402.5L858.9,400.0Z" fill="#1249cc" stroke="#1249cc"/>
<path d="M461.2,194.1L474.3,196.2L483.0,204.6L469.9,202.4Z" fill="#8edd20" stroke="#8edd20"/>
<path d="M483.0,204.6L496.1,206.9L504.8,215.3L491.8,212.9Z" fill="#59d620" stroke="#59d620"/>
<path d="M591.8,259.0L604.4,261.7L613.5,270.1L600.8,267.4Z" fill="#18cf42" stroke="#18cf42"/>
<path d="M699.7,314.3L711.9,317.0L721.2,325.4L709.0,322.7Z" fill="#10d093" stroke="#10d093"/>
<path d="M806.7,369.4L818.5,371.9L828.0,380.4L816.3,377.8Z" fill="#1477d4" stroke="#1477d4"/>
<path d="M870.5,402.5L882.0,405.0L891.7,413.7L880.2,411.1Z" fill="#1032c8" stroke="#1032c8"/>
<path d="M891.7,413.7L903.1,416.1L912.8,424.9L901.4,422.4Z" fill="#0f29bf" stroke="#0f29bf"/>
<path d="M548.4,237.0L561.2,239.6L570.1,248.0L557.3,245.4Z" fill="#21d026" stroke="#21d026"/>
<path d="M656.7,292.2L669.0,294.9L678.2,303.3L665.8,300.6Z" fill="#14cd6d" stroke="#14cd6d"/>
<path d="M764.0,347.4L776.0,350.0L785.4,358.4L773.5,355.8Z" fill="#10abcf" stroke="#10abcf"/>
<path d="M513.7,223.7L526.6,226.1L535.5,234.5L522.5,232.0Z" fill="#32d121" stroke="#32d121"/>
<path d="M622.5,278.5L635.1,281.1L644.2,289.5L631.7,286.8Z" fill="#14ce56" stroke="#14ce56"/>
<path d="M730.5,333.8L742.6,336.4L752.0,344.8L739.9,342.1Z" fill="#10cbb6" stroke="#10cbb6"/>
<path d="M837.6,388.9L849.3,391.4L858.9,400.0L847.2,397.4Z" fill="#125acf" stroke="#125acf"/>
<path d="M447.9,191.9L461.2,194.1L469.9,202.4L456.6,200.2Z" fill="#b2e21f" stroke="#b2e21f"/>
<path d="M579.1,256.4L591.8,259.0L600.8,267.4L588.1,264.8Z" fill="#1bcf35" stroke="#1bcf35"/>
<path d="M687.4,311.7L699.7,314.3L709.0,322.7L696.7,320.0Z" fill="#13cd82" stroke="#13cd82"/>
<path d="M794.9,366.8L806.7,369.4L816.3,377.8L804.4,375.3Z" fill="#128bd3" stroke="#128bd3"/>
<path d="M858.9,400.0L870.5,402.5L880.2,411.1L868.6,408.6Z" fill="#1143cb" stroke="#1143cb"/>
<path d="M901.4,422.4L912.8,424.9L922.6,433.7L911.2,431.1Z" fill="#0e27bd" stroke="#0e27bd"/>
<path d="M426.0,181.7L439.3,183.7L447.9,191.9L434.6,189.9Z" fill="#d9e71e" stroke="#d9e71e"/>
<path d="M469.9,202.4L483.0,204.6L491.8,212.9L478.6,210.6Z" fill="#7cdb20" stroke="#7cdb20"/>
<path d="M535.5,234.5L548.4,237.0L557.3,245.4L544.4,242.8Z" fill="#26d024" stroke="#26d024"/>
<path d="M644.2,289.5L656.7,292.2L665.8,300.6L653.4,297.9Z" fill="#14cd63" stroke="#14cd63"/>
<path d="M752.0,344.8L764.0,347.4L773.5,355.8L761.4,353.2Z" fill="#10beca" stroke="#10beca"/>
<path d="M491.8,212.9L504.8,215.3L513.7,223.7L500.6,221.2Z" fill="#4cd420" stroke="#4cd420"/>
<path d="M557.3,245.4L570.1,248.0L579.1,256.4L566.3,253.8Z" fill="#1fd027" stroke="#1fd027"/>
<path d="M600.8,267.4L613.5,270.1L622.5,278.5L609.9,275.8Z" fill="#16ce46" stroke="#16ce46"/>
<path d="M665.8,300.6L678.2,303.3L687.4,311.7L675.1,309.0Z" fill="#14cc71" stroke="#14cc71"/>
<path d="M709.0,322.7L721.2,325.4L730.5,333.8L718.3,331.1Z" fill="#10cf9a" stroke="#10cf9a"/>
<path d="M773.5,355.8L785.4,358.4L794.9,366.8L782.9,364.2Z" fill="#10a5d1" stroke="#10a5d1"/>
<path d="M816.3,377.8L828.0,380.4L837.6,388.9L825.8,386.3Z" fill="#1471d3" stroke="#1471d3"/>
<path d="M880.2,411.1L891.7,413.7L901.4,422.4L889.9,419.8Z" fill="#102fc5" stroke="#102fc5"/>
<path d="M847.2,397.4L858.9,400.0L868.6,408.6L856.9,405.9Z" fill="#1254ce" stroke="#1254ce"/>
<path d="M911.2,431.1L922.6,433.7L932.4,442.6L921.0,439.9Z" fill="#0e24ba" stroke="#0e24ba"/>
<path d="M522.5,232.0L535.5,234.5L544.4,242.8L531.4,240.3Z" fill="#2dd022" stroke="#2dd022"/>
<path d="M631.7,286.8L644.2,289.5L653.4,297.9L640.8,295.2Z" fill="#14ce59" stroke="#14ce59"/>
<path d="M739.9,342.1L752.0,344.8L761.4,353.2L749.3,350.5Z" fill="#10cabd" stroke="#10cabd"/>
<path d="M434.6,189.9L447.9,191.9L456.6,200.2L443.3,198.1Z" fill="#d0e61e" stroke="#d0e61e"/>
<path d="M456.6,200.2L469.9,202.4L478.6,210.6L465.4,208.4Z" fill="#a5e120" stroke="#a5e120"/>
<path d="M478.6,210.6L491.8,212.9L500.6,221.2L487.4,218.9Z" fill="#6cd820" stroke="#6cd820"/>
<path d="M544.4,242.8L557.3,245.4L566.3,253.8L553.4,251.2Z" fill="#24d025" stroke="#24d025"/>
<path d="M588.1,264.8L600.8,267.4L609.9,275.8L597.2,273.1Z" fill="#1acf3a" stroke="#1acf3a"/>
<path d="M653.4,297.9L665.8,300.6L675.1,309.0L662.6,306.2Z" fill="#14cd67" stroke="#14cd67"/>
<path d="M696.7,320.0L709.0,322.7L718.3,331.1L706.0,328.4Z" fill="#12ce88" stroke="#12ce88"/>
<path d="M761.4,353.2L773.5,355.8L782.9,364.2L770.9,361.5Z" fill="#10b8cc" stroke="#10b8cc"/>
<path d="M804.4,375.3L816.3,377.8L825.8,386.3L814.0,383.7Z" fill="#1384d3" stroke="#1384d3"/>
<path d="M412.6,179.8L426.0,181.7L434.6,189.9L421.2,187.9Z" fill="#e9e71e" stroke="#e9e71e"/>
<path d="M500.6,221.2L513.7,223.7L522.5,232.0L509.4,229.5Z" fill="#41d220" stroke="#41d220"/>
<path d="M609.9,275.8L622.5,278.5L631.7,286.8L619.0,284.1Z" fill="#15ce4b" stroke="#15ce4b"/>
<path d="M718.3,331.1L730.5,333.8L739.9,342.1L727.7,339.4Z" fill="#10cea1" stroke="#10cea1"/>
<path d="M825.8,386.3L837.6,388.9L847.2,397.4L835.5,394.8Z" fill="#136bd2" stroke="#136bd2"/>
<path d="M566.3,253.8L579.1,256.4L588.1,264.8L575.3,262.1Z" fill="#1ed029" stroke="#1ed029"/>
<path d="M675.1,309.0L687.4,311.7L696.7,320.0L684.3,317.3Z" fill="#14cc74" stroke="#14cc74"/>
<path d="M782.9,364.2L794.9,366.8L804.4,375.3L792.5,372.6Z" fill="#109fd2" stroke="#109fd2"/>
<path d="M868.6,408.6L880.2,411.1L889.9,419.8L878.3,417.2Z" fill="#113dca" stroke="#113dca"/>
<path d="M889.9,419.8L901.4,422.4L911.2,431.1L899.7,428.5Z" fill="#0f2dc3" stroke="#0f2dc3"/>
<path d="M531.4,240.3L544.4,242.8L553.4,251.2L540.4,248.6Z" fill="#29d022" stroke="#29d022"/>
<path d="M640.8,295.2L653.4,297.9L662.6,306.2L650.0,303.5Z" fill="#14cd5d" stroke="#14cd5d"/>
<path d="M749.3,350.5L761.4,353.2L770.9,361.5L758.8,358.8Z" fill="#10c9c4" stroke="#10c9c4"/>
<path d="M597.2,273.1L609.9,275.8L619.0,284.1L606.3,281.4Z" fill="#18cf3e" stroke="#18cf3e"/>
<path d="M706.0,328.4L718.3,331.1L727.7,339.4L715.4,336.7Z" fill="#11cf8e" stroke="#11cf8e"/>
<path d="M814.0,383.7L825.8,386.3L835.5,394.8L823.6,392.1Z" fill="#137dd4" stroke="#137dd4"/>
<path d="M399.1,178.0L412.6,179.8L421.2,187.9L407.8,186.1Z" fill="#ede31e" stroke="#ede31e"/>
<path d="M421.2,187.9L434.6,189.9L443.3,198.1L429.9,196.0Z" fill="#e4e81e" stroke="#e4e81e"/>
<path d="M443.3,198.1L456.6,200.2L465.4,208.4L452.1,206.2Z" fill="#c6e51e" stroke="#c6e51e"/>
<path d="M465.4,208.4L478.6,210.6L487.4,218.9L474.2,216.6Z" fill="#95de20" stroke="#95de20"/>
<path d="M487.4,218.9L500.6,221.2L509.4,229.5L496.3,227.1Z" fill="#5fd720" stroke="#5fd720"/>
<path d="M553.4,251.2L566.3,253.8L575.3,262.1L562.4,259.5Z" fill="#23d026" stroke="#23d026"/>
<path d="M662.6,306.2L675.1,309.0L684.3,317.3L671.9,314.6Z" fill="#14cd6a" stroke="#14cd6a"/>
<path d="M770.9,361.5L782.9,364.2L792.5,372.6L780.4,369.9Z" fill="#10b2cd" stroke="#10b2cd"/>
<path d="M835.5,394.8L847.2,397.4L856.9,405.9L845.1,403.3Z" fill="#1366d1" stroke="#1366d1"/>
<path d="M856.9,405.9L868.6,408.6L878.3,417.2L866.6,414.5Z" fill="#124ecd" stroke="#124ecd"/>
<path d="M878.3,417.2L889.9,419.8L899.7,428.5L888.1,425.8Z" fill="#1037c9" stroke="#1037c9"/>
<path d="M899.7,428.5L911.2,431.1L921.0,439.9L909.5,437.2Z" fill="#0f2bc1" stroke="#0f2bc1"/>
<path d="M921.0,439.9L932.4,442.6L942.2,451.6L930.8,448.8Z" fill="#0e22b8" stroke="#0e22b8"/>
<path d="M509.4,229.5L522.5,232.0L531.4,240.3L518.3,237.8Z" fill="#3bd121" stroke="#3bd121"/>
<path d="M619.0,284.1L631.7,286.8L640.8,295.2L628.2,292.4Z" fill="#14ce4f" stroke="#14ce4f"/>
<path d="M727.7,339.4L739.9,342.1L749.3,350.5L737.1,347.8Z" fill="#10cda8" stroke="#10cda8"/>
<path d="M575.3,262.1L588.1,264.8L597.2,273.1L584.3,270.4Z" fill="#1dd02d" stroke="#1dd02d"/>
<path d="M684.3,317.3L696.7,320.0L706.0,328.4L693.7,325.6Z" fill="#14cc77" stroke="#14cc77"/>
<path d="M792.5,372.6L804.4,375.3L814.0,383.7L802.1,381.0Z" fill="#1198d2" stroke="#1198d2"/>
<path d="M540.4,248.6L553.4,251.2L562.4,259.5L549.4,256.9Z" fill="#27d023" stroke="#27d023"/>
<path d="M650.0,303.5L662.6,306.2L671.9,314.6L659.3,311.8Z" fill="#14cd60" stroke="#14cd60"/>
<path d="M758.8,358.8L770.9,361.5L780.4,369.9L768.3,367.2Z" fill="#10c5c9" stroke="#10c5c9"/>
<path d="M823.6,392.1L835.5,394.8L845.1,403.3L833.3,400.6Z" fill="#1477d4" stroke="#1477d4"/>
<path d="M866.6,414.5L878.3,417.2L888.1,425.8L876.4,423.1Z" fill="#1249cc" stroke="#1249cc"/>
<path d="M888.1,425.8L899.7,428.5L909.5,437.2L897.9,434.5Z" fill="#1032c8" stroke="#1032c8"/>
<path d="M930.8,448.8L942.2,451.6L952.1,460.5L940.8,457.7Z" fill="#0e20b6" stroke="#0e20b6"/>
<path d="M474.2,216.6L487.4,218.9L496.3,227.1L483.0,224.8Z" fill="#86dc20" stroke="#86dc20"/>
<path d="M606.3,281.4L619.0,284.1L628.2,292.4L615.4,289.7Z" fill="#17cf42" stroke="#17cf42"/>
<path d="M715.4,336.7L727.7,339.4L737.1,347.8L724.8,345.0Z" fill="#10d093" stroke="#10d093"/>
<path d="M385.6,176.4L399.1,178.0L407.8,186.1L394.2,184.3Z" fill="#f0dc1e" stroke="#f0dc1e"/>
<path d="M407.8,186.1L421.2,187.9L429.9,196.0L416.4,194.1Z" fill="#ece51e" stroke="#ece51e"/>
<path d="M429.9,196.0L443.3,198.1L452.1,206.2L438.6,204.1Z" fill="#dce71e" stroke="#dce71e"/>
<path d="M452.1,206.2L465.4,208.4L474.2,216.6L460.8,214.3Z" fill="#b9e31f" stroke="#b9e31f"/>
<path d="M496.3,227.1L509.4,229.5L518.3,237.8L505.2,235.3Z" fill="#54d520" stroke="#54d520"/>
<path d="M518.3,237.8L531.4,240.3L540.4,248.6L527.3,246.0Z" fill="#36d121" stroke="#36d121"/>
<path d="M562.4,259.5L575.3,262.1L584.3,270.4L571.4,267.8Z" fill="#21d027" stroke="#21d027"/>
<path d="M628.2,292.4L640.8,295.2L650.0,303.5L637.4,300.8Z" fill="#14ce52" stroke="#14ce52"/>
<path d="M671.9,314.6L684.3,317.3L693.7,325.6L681.2,322.9Z" fill="#14cd6d" stroke="#14cd6d"/>
<path d="M737.1,347.8L749.3,350.5L758.8,358.8L746.6,356.1Z" fill="#10ccaf" stroke="#10ccaf"/>
<path d="M780.4,369.9L792.5,372.6L802.1,381.0L790.0,378.3Z" fill="#10accf" stroke="#10accf"/>
<path d="M584.3,270.4L597.2,273.1L606.3,281.4L593.4,278.7Z" fill="#1cd032" stroke="#1cd032"/>
<path d="M693.7,325.6L706.0,328.4L715.4,336.7L703.0,334.0Z" fill="#13cd7d" stroke="#13cd7d"/>
<path d="M802.1,381.0L814.0,383.7L823.6,392.1L811.7,389.4Z" fill="#1192d3" stroke="#1192d3"/>
<path d="M845.1,403.3L856.9,405.9L866.6,414.5L854.9,411.8Z" fill="#1360d0" stroke="#1360d0"/>
<path d="M909.5,437.2L921.0,439.9L930.8,448.8L919.4,446.0Z" fill="#0f29bf" stroke="#0f29bf"/>
<path d="M876.4,423.1L888.1,425.8L897.9,434.5L886.3,431.7Z" fill="#1143cb" stroke="#1143cb"/>
<path d="M549.4,256.9L562.4,259.5L571.4,267.8L558.4,265.1Z" fill="#26d024" stroke="#26d024"/>
<path d="M615.4,289.7L628.2,292.4L637.4,300.8L624.6,298.0Z" fill="#16ce46" stroke="#16ce46"/>
<path d="M659.3,311.8L671.9,314.6L681.2,322.9L668.6,320.1Z" fill="#14cd63" stroke="#14cd63"/>
<path d="M724.8,345.0L737.1,347.8L746.6,356.1L734.3,353.3Z" fill="#10d099" stroke="#10d099"/>
<path d="M768.3,367.2L780.4,369.9L790.0,378.3L777.9,375.5Z" fill="#10c0ca" stroke="#10c0ca"/>
<path d="M371.9,174.8L385.6,176.4L394.2,184.3L380.5,182.6Z" fill="#f0ce1e" stroke="#f0ce1e"/>
<path d="M416.4,194.1L429.9,196.0L438.6,204.1L425.1,202.1Z" fill="#eae61e" stroke="#eae61e"/>
<path d="M460.8,214.3L474.2,216.6L483.0,224.8L469.7,222.5Z" fill="#ade21f" stroke="#ade21f"/>
<path d="M483.0,224.8L496.3,227.1L505.2,235.3L491.9,232.9Z" fill="#76da20" stroke="#76da20"/>
<path d="M505.2,235.3L518.3,237.8L527.3,246.0L514.1,243.5Z" fill="#49d320" stroke="#49d320"/>
<path d="M571.4,267.8L584.3,270.4L593.4,278.7L580.5,276.0Z" fill="#1fd027" stroke="#1fd027"/>
<path d="M681.2,322.9L693.7,325.6L703.0,334.0L690.6,331.2Z" fill="#14cc70" stroke="#14cc70"/>
<path d="M790.0,378.3L802.1,381.0L811.7,389.4L799.7,386.7Z" fill="#10a6d0" stroke="#10a6d0"/>
<path d="M394.2,184.3L407.8,186.1L416.4,194.1L402.8,192.2Z" fill="#f0e11e" stroke="#f0e11e"/>
<path d="M438.6,204.1L452.1,206.2L460.8,214.3L447.4,212.2Z" fill="#d5e71e" stroke="#d5e71e"/>
<path d="M527.3,246.0L540.4,248.6L549.4,256.9L536.3,254.3Z" fill="#31d121" stroke="#31d121"/>
<path d="M637.4,300.8L650.0,303.5L659.3,311.8L646.7,309.0Z" fill="#14ce56" stroke="#14ce56"/>
<path d="M746.6,356.1L758.8,358.8L768.3,367.2L756.1,364.4Z" fill="#10cbb5" stroke="#10cbb5"/>
<path d="M811.7,389.4L823.6,392.1L833.3,400.6L821.4,397.8Z" fill="#128cd3" stroke="#128cd3"/>
<path d="M833.3,400.6L845.1,403.3L854.9,411.8L843.0,409.0Z" fill="#1472d3" stroke="#1472d3"/>
<path d="M854.9,411.8L866.6,414.5L876.4,423.1L864.7,420.3Z" fill="#135bcf" stroke="#135bcf"/>
<path d="M897.9,434.5L909.5,437.2L919.4,446.0L907.8,443.1Z" fill="#1030c6" stroke="#1030c6"/>
<path d="M919.4,446.0L930.8,448.8L940.8,457.7L929.3,454.8Z" fill="#0e26bc" stroke="#0e26bc"/>
<path d="M940.8,457.7L952.1,460.5L962.1,469.5L950.7,466.6Z" fill="#0d1db3" stroke="#0d1db3"/>
<path d="M593.4,278.7L606.3,281.4L615.4,289.7L602.6,287.0Z" fill="#1bcf36" stroke="#1bcf36"/>
<path d="M703.0,334.0L715.4,336.7L724.8,345.0L712.5,342.2Z" fill="#13cd82" stroke="#13cd82"/>
<path d="M558.4,265.1L571.4,267.8L580.5,276.0L567.5,273.3Z" fill="#24d025" stroke="#24d025"/>
<path d="M668.6,320.1L681.2,322.9L690.6,331.2L678.0,328.4Z" fill="#14cd66" stroke="#14cd66"/>
<path d="M777.9,375.5L790.0,378.3L799.7,386.7L787.6,383.9Z" fill="#10bacb" stroke="#10bacb"/>
<path d="M380.5,182.6L394.2,184.3L402.8,192.2L389.2,190.4Z" fill="#f0d31e" stroke="#f0d31e"/>
<path d="M425.1,202.1L438.6,204.1L447.4,212.2L433.9,210.1Z" fill="#e8e81e" stroke="#e8e81e"/>
<path d="M491.9,232.9L505.2,235.3L514.1,243.5L500.8,241.1Z" fill="#68d820" stroke="#68d820"/>
<path d="M624.6,298.0L637.4,300.8L646.7,309.0L633.9,306.2Z" fill="#15ce4a" stroke="#15ce4a"/>
<path d="M734.3,353.3L746.6,356.1L756.1,364.4L743.8,361.6Z" fill="#10cf9f" stroke="#10cf9f"/>
<path d="M799.7,386.7L811.7,389.4L821.4,397.8L809.4,395.0Z" fill="#10a1d2" stroke="#10a1d2"/>
<path d="M843.0,409.0L854.9,411.8L864.7,420.3L852.8,417.5Z" fill="#136dd2" stroke="#136dd2"/>
<path d="M864.7,420.3L876.4,423.1L886.3,431.7L874.5,428.8Z" fill="#1255ce" stroke="#1255ce"/>
<path d="M886.3,431.7L897.9,434.5L907.8,443.1L896.2,440.3Z" fill="#113eca" stroke="#113eca"/>
<path d="M907.8,443.1L919.4,446.0L929.3,454.8L917.7,451.8Z" fill="#0f2dc3" stroke="#0f2dc3"/>
<path d="M950.7,466.6L962.1,469.5L972.1,478.6L960.8,475.5Z" fill="#0d1bb1" stroke="#0d1bb1"/>
<path d="M358.2,173.3L371.9,174.8L380.5,182.6L366.8,181.1Z" fill="#f0bf1c" stroke="#f0bf1c"/>
<path d="M402.8,192.2L416.4,194.1L425.1,202.1L411.5,200.1Z" fill="#eee21e" stroke="#eee21e"/>
<path d="M447.4,212.2L460.8,214.3L469.7,222.5L456.2,220.2Z" fill="#cee61e" stroke="#cee61e"/>
<path d="M469.7,222.5L483.0,224.8L491.9,232.9L478.5,230.6Z" fill="#a0e020" stroke="#a0e020"/>
<path d="M514.1,243.5L527.3,246.0L536.3,254.3L523.1,251.7Z" fill="#3fd220" stroke="#3fd220"/>
<path d="M580.5,276.0L593.4,278.7L602.6,287.0L589.7,284.2Z" fill="#1ed029" stroke="#1ed029"/>
<path d="M690.6,331.2L703.0,334.0L712.5,342.2L700.0,339.4Z" fill="#14cc74" stroke="#14cc74"/>
<path d="M536.3,254.3L549.4,256.9L558.4,265.1L545.3,262.5Z" fill="#2cd022" stroke="#2cd022"/>
<path d="M602.6,287.0L615.4,289.7L624.6,298.0L611.8,295.2Z" fill="#1acf3a" stroke="#1acf3a"/>
<path d="M646.7,309.0L659.3,311.8L668.6,320.1L656.0,317.3Z" fill="#14ce59" stroke="#14ce59"/>
<path d="M712.5,342.2L724.8,345.0L734.3,353.3L721.9,350.5Z" fill="#12ce87" stroke="#12ce87"/>
<path d="M756.1,364.4L768.3,367.2L777.9,375.5L765.7,372.7Z" fill="#10cabb" stroke="#10cabb"/>
<path d="M821.4,397.8L833.3,400.6L843.0,409.0L831.1,406.2Z" fill="#1386d3" stroke="#1386d3"/>
<path d="M929.3,454.8L940.8,457.7L950.7,466.6L939.3,463.6Z" fill="#0e24ba" stroke="#0e24ba"/>
<path d="M787.6,383.9L799.7,386.7L809.4,395.0L797.3,392.2Z" fill="#10b4cd" stroke="#10b4cd"/>
<path d="M852.8,417.5L864.7,420.3L874.5,428.8L862.7,425.9Z" fill="#1368d1" stroke="#1368d1"/>
<path d="M896.2,440.3L907.8,443.1L917.7,451.8L906.1,448.9Z" fill="#1038c9" stroke="#1038c9"/>
<path d="M960.8,475.5L972.1,478.6L982.2,487.7L970.8,484.5Z" fill="#0d19af" stroke="#0d19af"/>
<path d="M567.5,273.3L580.5,276.0L589.7,284.2L576.7,281.5Z" fill="#23d026" stroke="#23d026"/>
<path d="M678.0,328.4L690.6,331.2L700.0,339.4L687.4,336.6Z" fill="#14cd69" stroke="#14cd69"/>
<path d="M366.8,181.1L380.5,182.6L389.2,190.4L375.4,188.8Z" fill="#f0c51e" stroke="#f0c51e"/>
<path d="M389.2,190.4L402.8,192.2L411.5,200.1L397.8,198.3Z" fill="#f0d81e" stroke="#f0d81e"/>
<path d="M411.5,200.1L425.1,202.1L433.9,210.1L420.3,208.0Z" fill="#ede41e" stroke="#ede41e"/>
<path d="M433.9,210.1L447.4,212.2L456.2,220.2L442.7,218.0Z" fill="#e2e81e" stroke="#e2e81e"/>
<path d="M478.5,230.6L491.9,232.9L500.8,241.1L487.5,238.6Z" fill="#92de20" stroke="#92de20"/>
<path d="M500.8,241.1L514.1,243.5L523.1,251.7L509.8,249.2Z" fill="#5dd620" stroke="#5dd620"/>
<path d="M589.7,284.2L602.6,287.0L611.8,295.2L598.9,292.5Z" fill="#1dd02d" stroke="#1dd02d"/>
<path d="M633.9,306.2L646.7,309.0L656.0,317.3L643.2,314.5Z" fill="#14ce4e" stroke="#14ce4e"/>
<path d="M700.0,339.4L712.5,342.2L721.9,350.5L709.5,347.7Z" fill="#14cc77" stroke="#14cc77"/>
<path d="M743.8,361.6L756.1,364.4L765.7,372.7L753.4,369.9Z" fill="#10cea5" stroke="#10cea5"/>
<path d="M344.4,172.0L358.2,173.3L366.8,181.1L353.0,179.6Z" fill="#f0ad19" stroke="#f0ad19"/>
<path d="M456.2,220.2L469.7,222.5L478.5,230.6L465.1,228.2Z" fill="#c3e51e" stroke="#c3e51e"/>
<path d="M523.1,251.7L536.3,254.3L545.3,262.5L532.1,259.9Z" fill="#3bd121" stroke="#3bd121"/>
<path d="M545.3,262.5L558.4,265.1L567.5,273.3L554.4,270.6Z" fill="#29d022" stroke="#29d022"/>
<path d="M656.0,317.3L668.6,320.1L678.0,328.4L665.3,325.5Z" fill="#14cd5c" stroke="#14cd5c"/>
<path d="M765.7,372.7L777.9,375.5L787.6,383.9L775.4,381.0Z" fill="#10c9c2" stroke="#10c9c2"/>
<path d="M611.8,295.2L624.6,298.0L633.9,306.2L621.1,303.4Z" fill="#19cf3e" stroke="#19cf3e"/>
<path d="M721.9,350.5L734.3,353.3L743.8,361.6L731.5,358.8Z" fill="#11cf8c" stroke="#11cf8c"/>
<path d="M809.4,395.0L821.4,397.8L831.1,406.2L819.1,403.4Z" fill="#119bd2" stroke="#119bd2"/>
<path d="M831.1,406.2L843.0,409.0L852.8,417.5L840.9,414.6Z" fill="#1380d4" stroke="#1380d4"/>
<path d="M874.5,428.8L886.3,431.7L896.2,440.3L884.4,437.4Z" fill="#1250cd" stroke="#1250cd"/>
<path d="M917.7,451.8L929.3,454.8L939.3,463.6L927.7,460.6Z" fill="#0f2bc1" stroke="#0f2bc1"/>
<path d="M939.3,463.6L950.7,466.6L960.8,475.5L949.3,472.4Z" fill="#0e22b8" stroke="#0e22b8"/>
<path d="M576.7,281.5L589.7,284.2L598.9,292.5L585.9,289.7Z" fill="#21d027" stroke="#21d027"/>
<path d="M687.4,336.6L700.0,339.4L709.5,347.7L696.9,344.8Z" fill="#14cd6c" stroke="#14cd6c"/>
<path d="M643.2,314.5L656.0,317.3L665.3,325.5L652.6,322.7Z" fill="#14ce52" stroke="#14ce52"/>
<path d="M753.4,369.9L765.7,372.7L775.4,381.0L763.1,378.2Z" fill="#10cdac" stroke="#10cdac"/>
<path d="M330.5,170.8L344.4,172.0L353.0,179.6L339.0,178.2Z" fill="#f09a16" stroke="#f09a16"/>
<path d="M375.4,188.8L389.2,190.4L397.8,198.3L384.1,196.5Z" fill="#f0cb1e" stroke="#f0cb1e"/>
<path d="M397.8,198.3L411.5,200.1L420.3,208.0L406.6,206.1Z" fill="#f0dd1e" stroke="#f0dd1e"/>
<path d="M420.3,208.0L433.9,210.1L442.7,218.0L429.1,215.9Z" fill="#ebe51e" stroke="#ebe51e"/>
<path d="M442.7,218.0L456.2,220.2L465.1,228.2L451.5,226.0Z" fill="#dbe71e" stroke="#dbe71e"/>
<path d="M465.1,228.2L478.5,230.6L487.5,238.6L474.0,236.2Z" fill="#b7e31f" stroke="#b7e31f"/>
<path d="M487.5,238.6L500.8,241.1L509.8,249.2L496.4,246.7Z" fill="#84dc20" stroke="#84dc20"/>
<path d="M509.8,249.2L523.1,251.7L532.1,259.9L518.8,257.3Z" fill="#53d520" stroke="#53d520"/>
<path d="M532.1,259.9L545.3,262.5L554.4,270.6L541.2,268.0Z" fill="#36d121" stroke="#36d121"/>
<path d="M598.9,292.5L611.8,295.2L621.1,303.4L608.1,300.6Z" fill="#1cd031" stroke="#1cd031"/>
<path d="M709.5,347.7L721.9,350.5L731.5,358.8L719.0,355.9Z" fill="#14cc7a" stroke="#14cc7a"/>
<path d="M775.4,381.0L787.6,383.9L797.3,392.2L785.1,389.3Z" fill="#10c8c8" stroke="#10c8c8"/>
<path d="M797.3,392.2L809.4,395.0L819.1,403.4L807.0,400.5Z" fill="#10afce" stroke="#10afce"/>
<path d="M819.1,403.4L831.1,406.2L840.9,414.6L828.9,411.7Z" fill="#1195d3" stroke="#1195d3"/>
<path d="M840.9,414.6L852.8,417.5L862.7,425.9L850.8,423.0Z" fill="#147ad4" stroke="#147ad4"/>
<path d="M862.7,425.9L874.5,428.8L884.4,437.4L872.6,434.4Z" fill="#1363d0" stroke="#1363d0"/>
<path d="M884.4,437.4L896.2,440.3L906.1,448.9L894.4,445.9Z" fill="#124bcc" stroke="#124bcc"/>
<path d="M906.1,448.9L917.7,451.8L927.7,460.6L916.1,457.5Z" fill="#1033c8" stroke="#1033c8"/>
<path d="M927.7,460.6L939.3,463.6L949.3,472.4L937.8,469.3Z" fill="#0f29bf" stroke="#0f29bf"/>
<path d="M949.3,472.4L960.8,475.5L970.8,484.5L959.4,481.3Z" fill="#0e20b6" stroke="#0e20b6"/>
<path d="M970.8,484.5L982.2,487.7L992.3,496.9L981.0,493.6Z" fill="#0c16ac" stroke="#0c16ac"/>
<path d="M353.0,179.6L366.8,181.1L375.4,188.8L361.6,187.2Z" fill="#f0b31a" stroke="#f0b31a"/>
<path d="M554.4,270.6L567.5,273.3L576.7,281.5L563.6,278.8Z" fill="#27d023" stroke="#27d023"/>
<path d="M665.3,325.5L678.0,328.4L687.4,336.6L674.8,333.7Z" fill="#14cd5f" stroke="#14cd5f"/>
<path d="M621.1,303.4L633.9,306.2L643.2,314.5L630.4,311.6Z" fill="#18cf41" stroke="#18cf41"/>
<path d="M731.5,358.8L743.8,361.6L753.4,369.9L741.1,367.0Z" fill="#11cf91" stroke="#11cf91"/>
<path d="M585.9,289.7L598.9,292.5L608.1,300.6L595.1,297.8Z" fill="#20d027" stroke="#20d027"/>
<path d="M696.9,344.8L709.5,347.7L719.0,355.9L706.4,353.0Z" fill="#14cc6f" stroke="#14cc6f"/>
<path d="M763.1,378.2L775.4,381.0L785.1,389.3L772.8,386.4Z" fill="#10ccb1" stroke="#10ccb1"/>
<path d="M807.0,400.5L819.1,403.4L828.9,411.7L816.8,408.8Z" fill="#10aad0" stroke="#10aad0"/>
<path d="M828.9,411.7L840.9,414.6L850.8,423.0L838.8,420.1Z" fill="#1290d3" stroke="#1290d3"/>
<path d="M872.6,434.4L884.4,437.4L894.4,445.9L882.6,442.9Z" fill="#135ecf" stroke="#135ecf"/>
<path d="M916.1,457.5L927.7,460.6L937.8,469.3L926.2,466.2Z" fill="#1030c6" stroke="#1030c6"/>
<path d="M937.8,469.3L949.3,472.4L959.4,481.3L947.9,478.1Z" fill="#0f27bd" stroke="#0f27bd"/>
<path d="M981.0,493.6L992.3,496.9L1002.5,506.1L991.2,502.7Z" fill="#0c14aa" stroke="#0c14aa"/>
<path d="M406.6,206.1L420.3,208.0L429.1,215.9L415.4,213.8Z" fill="#f0e11e" stroke="#f0e11e"/>
<path d="M451.5,226.0L465.1,228.2L474.0,236.2L460.5,233.9Z" fill="#d5e71e" stroke="#d5e71e"/>
<path d="M518.8,257.3L532.1,259.9L541.2,268.0L527.9,265.4Z" fill="#49d320" stroke="#49d320"/>
<path d="M652.6,322.7L665.3,325.5L674.8,333.7L662.0,330.9Z" fill="#14ce55" stroke="#14ce55"/>
<path d="M339.0,178.2L353.0,179.6L361.6,187.2L347.6,185.7Z" fill="#f0a117" stroke="#f0a117"/>
<path d="M384.1,196.5L397.8,198.3L406.6,206.1L392.8,204.2Z" fill="#f0cf1e" stroke="#f0cf1e"/>
<path d="M316.5,169.6L330.5,170.8L339.0,178.2L325.0,177.0Z" fill="#f08813" stroke="#f08813"/>
<path d="M361.6,187.2L375.4,188.8L384.1,196.5L370.2,194.8Z" fill="#f0b91b" stroke="#f0b91b"/>
<path d="M429.1,215.9L442.7,218.0L451.5,226.0L437.9,223.8Z" fill="#eae71e" stroke="#eae71e"/>
<path d="M474.0,236.2L487.5,238.6L496.4,246.7L483.0,244.2Z" fill="#ace21f" stroke="#ace21f"/>
<path d="M496.4,246.7L509.8,249.2L518.8,257.3L505.5,254.7Z" fill="#77da20" stroke="#77da20"/>
<path d="M541.2,268.0L554.4,270.6L563.6,278.8L550.4,276.1Z" fill="#31d121" stroke="#31d121"/>
<path d="M563.6,278.8L576.7,281.5L585.9,289.7L572.8,286.9Z" fill="#26d024" stroke="#26d024"/>
<path d="M608.1,300.6L621.1,303.4L630.4,311.6L617.5,308.8Z" fill="#1bcf35" stroke="#1bcf35"/>
<path d="M674.8,333.7L687.4,336.6L696.9,344.8L684.2,341.9Z" fill="#14cd62" stroke="#14cd62"/>
<path d="M719.0,355.9L731.5,358.8L741.1,367.0L728.6,364.1Z" fill="#13cd7f" stroke="#13cd7f"/>
<path d="M630.4,311.6L643.2,314.5L652.6,322.7L639.8,319.8Z" fill="#17cf45" stroke="#17cf45"/>
<path d="M741.1,367.0L753.4,369.9L763.1,378.2L750.7,375.3Z" fill="#10d095" stroke="#10d095"/>
<path d="M785.1,389.3L797.3,392.2L807.0,400.5L794.8,397.6Z" fill="#10c3c9" stroke="#10c3c9"/>
<path d="M850.8,423.0L862.7,425.9L872.6,434.4L860.7,431.4Z" fill="#1475d3" stroke="#1475d3"/>
<path d="M894.4,445.9L906.1,448.9L916.1,457.5L904.4,454.5Z" fill="#1146cb" stroke="#1146cb"/>
<path d="M959.4,481.3L970.8,484.5L981.0,493.6L969.6,490.2Z" fill="#0d1eb4" stroke="#0d1eb4"/>
<path d="M816.8,408.8L828.9,411.7L838.8,420.1L826.7,417.1Z" fill="#10a5d1" stroke="#10a5d1"/>
<path d="M926.2,466.2L937.8,469.3L947.9,478.1L936.3,474.9Z" fill="#102ec4" stroke="#102ec4"/>
<path d="M595.1,297.8L608.1,300.6L617.5,308.8L604.4,306.0Z" fill="#1ed028" stroke="#1ed028"/>
<path d="M662.0,330.9L674.8,333.7L684.2,341.9L671.5,339.0Z" fill="#14ce57" stroke="#14ce57"/>
<path d="M706.4,353.0L719.0,355.9L728.6,364.1L716.0,361.2Z" fill="#14cc72" stroke="#14cc72"/>
<path d="M302.5,168.7L316.5,169.6L325.0,177.0L310.9,175.9Z" fill="#f07610" stroke="#f07610"/>
<path d="M347.6,185.7L361.6,187.2L370.2,194.8L356.2,193.2Z" fill="#f0a618" stroke="#f0a618"/>
<path d="M392.8,204.2L406.6,206.1L415.4,213.8L401.6,211.9Z" fill="#f0d31e" stroke="#f0d31e"/>
<path d="M415.4,213.8L429.1,215.9L437.9,223.8L424.2,221.6Z" fill="#eee21e" stroke="#eee21e"/>
<path d="M437.9,223.8L451.5,226.0L460.5,233.9L446.8,231.6Z" fill="#e8e81e" stroke="#e8e81e"/>
<path d="M460.5,233.9L474.0,236.2L483.0,244.2L469.4,241.8Z" fill="#cee61e" stroke="#cee61e"/>
<path d="M505.5,254.7L518.8,257.3L527.9,265.4L514.5,262.7Z" fill="#6ad820" stroke="#6ad820"/>
<path d="M527.9,265.4L541.2,268.0L550.4,276.1L537.1,273.4Z" fill="#40d220" stroke="#40d220"/>
<path d="M550.4,276.1L563.6,278.8L572.8,286.9L559.5,284.2Z" fill="#2dd022" stroke="#2dd022"/>
<path d="M617.5,308.8L630.4,311.6L639.8,319.8L626.8,317.0Z" fill="#1acf38" stroke="#1acf38"/>
<path d="M728.6,364.1L741.1,367.0L750.7,375.3L738.2,372.3Z" fill="#12ce84" stroke="#12ce84"/>
<path d="M325.0,177.0L339.0,178.2L347.6,185.7L333.6,184.4Z" fill="#f08e14" stroke="#f08e14"/>
<path d="M370.2,194.8L384.1,196.5L392.8,204.2L378.9,202.4Z" fill="#f0bf1c" stroke="#f0bf1c"/>
<path d="M483.0,244.2L496.4,246.7L505.5,254.7L492.0,252.2Z" fill="#a2e020" stroke="#a2e020"/>
<path d="M572.8,286.9L585.9,289.7L595.1,297.8L582.0,295.0Z" fill="#25d025" stroke="#25d025"/>
<path d="M684.2,341.9L696.9,344.8L706.4,353.0L693.8,350.1Z" fill="#14cd64" stroke="#14cd64"/>
<path d="M750.7,375.3L763.1,378.2L772.8,386.4L760.4,383.5Z" fill="#10cf9b" stroke="#10cf9b"/>
<path d="M772.8,386.4L785.1,389.3L794.8,397.6L782.5,394.7Z" fill="#10cbb7" stroke="#10cbb7"/>
<path d="M794.8,397.6L807.0,400.5L816.8,408.8L804.6,405.9Z" fill="#10beca" stroke="#10beca"/>
<path d="M838.8,420.1L850.8,423.0L860.7,431.4L848.7,428.4Z" fill="#128ad3" stroke="#128ad3"/>
<path d="M860.7,431.4L872.6,434.4L882.6,442.9L870.7,439.9Z" fill="#1470d3" stroke="#1470d3"/>
<path d="M882.6,442.9L894.4,445.9L904.4,454.5L892.6,451.4Z" fill="#1259cf" stroke="#1259cf"/>
<path d="M904.4,454.5L916.1,457.5L926.2,466.2L914.5,463.0Z" fill="#1141ca" stroke="#1141ca"/>
<path d="M947.9,478.1L959.4,481.3L969.6,490.2L958.1,486.9Z" fill="#0e25bb" stroke="#0e25bb"/>
<path d="M969.6,490.2L981.0,493.6L991.2,502.7L979.8,499.2Z" fill="#0d1cb2" stroke="#0d1cb2"/>
<path d="M991.2,502.7L1002.5,506.1L1012.7,515.4L1001.4,511.8Z" fill="#0c13a7" stroke="#0c13a7"/>
<path d="M639.8,319.8L652.6,322.7L662.0,330.9L649.2,328.0Z" fill="#16ce49" stroke="#16ce49"/>
<path d="M604.4,306.0L617.5,308.8L626.8,317.0L613.8,314.1Z" fill="#1dd02b" stroke="#1dd02b"/>
<path d="M716.0,361.2L728.6,364.1L738.2,372.3L725.7,369.4Z" fill="#14cc74" stroke="#14cc74"/>
<path d="M424.2,221.6L437.9,223.8L446.8,231.6L433.1,229.4Z" fill="#ede41e" stroke="#ede41e"/>
<path d="M537.1,273.4L550.4,276.1L559.5,284.2L546.2,281.4Z" fill="#3cd220" stroke="#3cd220"/>
<path d="M671.5,339.0L684.2,341.9L693.8,350.1L681.0,347.2Z" fill="#14cd5a" stroke="#14cd5a"/>
<path d="M738.2,372.3L750.7,375.3L760.4,383.5L747.9,380.5Z" fill="#12ce88" stroke="#12ce88"/>
<path d="M782.5,394.7L794.8,397.6L804.6,405.9L792.4,402.9Z" fill="#10cabd" stroke="#10cabd"/>
<path d="M804.6,405.9L816.8,408.8L826.7,417.1L814.5,414.1Z" fill="#10b9cc" stroke="#10b9cc"/>
<path d="M826.7,417.1L838.8,420.1L848.7,428.4L836.6,425.4Z" fill="#10a0d2" stroke="#10a0d2"/>
<path d="M848.7,428.4L860.7,431.4L870.7,439.9L858.7,436.8Z" fill="#1385d3" stroke="#1385d3"/>
<path d="M892.6,451.4L904.4,454.5L914.5,463.0L902.7,459.9Z" fill="#1254ce" stroke="#1254ce"/>
<path d="M914.5,463.0L926.2,466.2L936.3,474.9L924.6,471.6Z" fill="#113cca" stroke="#113cca"/>
<path d="M936.3,474.9L947.9,478.1L958.1,486.9L946.5,483.6Z" fill="#0f2dc3" stroke="#0f2dc3"/>
<path d="M958.1,486.9L969.6,490.2L979.8,499.2L968.3,495.7Z" fill="#0e23b9" stroke="#0e23b9"/>
<path d="M1001.4,511.8L1012.7,515.4L1023.0,524.7L1011.8,520.9Z" fill="#0c12a5" stroke="#0c12a5"/>
<path d="M310.9,175.9L325.0,177.0L333.6,184.4L319.5,183.1Z" fill="#f07b11" stroke="#f07b11"/>
<path d="M356.2,193.2L370.2,194.8L378.9,202.4L364.9,200.7Z" fill="#f0ac19" stroke="#f0ac19"/>
<path d="M288.3,167.8L302.5,168.7L310.9,175.9L296.8,174.9Z" fill="#f06610" stroke="#f06610"/>
<path d="M333.6,184.4L347.6,185.7L356.2,193.2L342.2,191.7Z" fill="#f09315" stroke="#f09315"/>
<path d="M378.9,202.4L392.8,204.2L401.6,211.9L387.7,210.0Z" fill="#f0c41d" stroke="#f0c41d"/>
<path d="M401.6,211.9L415.4,213.8L424.2,221.6L410.4,219.6Z" fill="#f0d81e" stroke="#f0d81e"/>
<path d="M446.8,231.6L460.5,233.9L469.4,241.8L455.7,239.5Z" fill="#e3e81e" stroke="#e3e81e"/>
<path d="M469.4,241.8L483.0,244.2L492.0,252.2L478.4,249.7Z" fill="#c5e51e" stroke="#c5e51e"/>
<path d="M492.0,252.2L505.5,254.7L514.5,262.7L501.0,260.2Z" fill="#96de20" stroke="#96de20"/>
<path d="M514.5,262.7L527.9,265.4L537.1,273.4L523.7,270.7Z" fill="#60d720" stroke="#60d720"/>
<path d="M559.5,284.2L572.8,286.9L582.0,295.0L568.8,292.2Z" fill="#2ad022" stroke="#2ad022"/>
<path d="M626.8,317.0L639.8,319.8L649.2,328.0L636.2,325.1Z" fill="#19cf3c" stroke="#19cf3c"/>
<path d="M582.0,295.0L595.1,297.8L604.4,306.0L591.3,303.1Z" fill="#23d025" stroke="#23d025"/>
<path d="M649.2,328.0L662.0,330.9L671.5,339.0L658.7,336.1Z" fill="#15ce4c" stroke="#15ce4c"/>
<path d="M693.8,350.1L706.4,353.0L716.0,361.2L703.4,358.3Z" fill="#14cd67" stroke="#14cd67"/>
<path d="M760.4,383.5L772.8,386.4L782.5,394.7L770.2,391.7Z" fill="#10cea1" stroke="#10cea1"/>
<path d="M870.7,439.9L882.6,442.9L892.6,451.4L880.7,448.3Z" fill="#136cd2" stroke="#136cd2"/>
<path d="M979.8,499.2L991.2,502.7L1001.4,511.8L990.1,508.2Z" fill="#0d19af" stroke="#0d19af"/>
<path d="M725.7,369.4L738.2,372.3L747.9,380.5L735.4,377.5Z" fill="#14cc77" stroke="#14cc77"/>
<path d="M792.4,402.9L804.6,405.9L814.5,414.1L802.2,411.1Z" fill="#10c9c2" stroke="#10c9c2"/>
<path d="M836.6,425.4L848.7,428.4L858.7,436.8L846.6,433.7Z" fill="#119bd2" stroke="#119bd2"/>
<path d="M902.7,459.9L914.5,463.0L924.6,471.6L912.8,468.4Z" fill="#124fcd" stroke="#124fcd"/>
<path d="M946.5,483.6L958.1,486.9L968.3,495.7L956.7,492.3Z" fill="#0f2bc1" stroke="#0f2bc1"/>
<path d="M1011.8,520.9L1023.0,524.7L1033.4,534.1L1022.1,530.1Z" fill="#0b11a2" stroke="#0b11a2"/>
<path d="M613.8,314.1L626.8,317.0L636.2,325.1L623.2,322.2Z" fill="#1cd02f" stroke="#1cd02f"/>
<path d="M319.5,183.1L333.6,184.4L342.2,191.7L328.1,190.4Z" fill="#f08011" stroke="#f08011"/>
<path d="M364.9,200.7L378.9,202.4L387.7,210.0L373.7,208.2Z" fill="#f0b11a" stroke="#f0b11a"/>
<path d="M410.4,219.6L424.2,221.6L433.1,229.4L419.2,227.2Z" fill="#f0dc1e" stroke="#f0dc1e"/>
<path d="M433.1,229.4L446.8,231.6L455.7,239.5L442.0,237.2Z" fill="#ece51e" stroke="#ece51e"/>
<path d="M478.4,249.7L492.0,252.2L501.0,260.2L487.5,257.6Z" fill="#bbe41f" stroke="#bbe41f"/>
<path d="M523.7,270.7L537.1,273.4L546.2,281.4L532.8,278.7Z" fill="#57d520" stroke="#57d520"/>
<path d="M546.2,281.4L559.5,284.2L568.8,292.2L555.5,289.5Z" fill="#38d121" stroke="#38d121"/>
<path d="M636.2,325.1L649.2,328.0L658.7,336.1L645.7,333.2Z" fill="#18cf3f" stroke="#18cf3f"/>
<path d="M681.0,347.2L693.8,350.1L703.4,358.3L690.6,355.3Z" fill="#14cd5d" stroke="#14cd5d"/>
<path d="M296.8,174.9L310.9,175.9L319.5,183.1L305.3,182.0Z" fill="#f06a10" stroke="#f06a10"/>
<path d="M342.2,191.7L356.2,193.2L364.9,200.7L350.9,199.1Z" fill="#f09816" stroke="#f09816"/>
<path d="M274.1,167.1L288.3,167.8L296.8,174.9L282.5,174.1Z" fill="#f05610" stroke="#f05610"/>
<path d="M387.7,210.0L401.6,211.9L410.4,219.6L396.4,217.6Z" fill="#f0c91e" stroke="#f0c91e"/>
<path d="M455.7,239.5L469.4,241.8L478.4,249.7L464.7,247.3Z" fill="#dde71e" stroke="#dde71e"/>
<path d="M501.0,260.2L514.5,262.7L523.7,270.7L510.2,268.1Z" fill="#89dd20" stroke="#89dd20"/>
<path d="M568.8,292.2L582.0,295.0L591.3,303.1L578.1,300.3Z" fill="#28d023" stroke="#28d023"/>
<path d="M591.3,303.1L604.4,306.0L613.8,314.1L600.7,311.2Z" fill="#22d026" stroke="#22d026"/>
<path d="M703.4,358.3L716.0,361.2L725.7,369.4L713.0,366.4Z" fill="#14cd6a" stroke="#14cd6a"/>
<path d="M658.7,336.1L671.5,339.0L681.0,347.2L668.2,344.2Z" fill="#14ce4f" stroke="#14ce4f"/>
<path d="M747.9,380.5L760.4,383.5L770.2,391.7L757.7,388.7Z" fill="#11cf8c" stroke="#11cf8c"/>
<path d="M770.2,391.7L782.5,394.7L792.4,402.9L780.0,399.9Z" fill="#10cda6" stroke="#10cda6"/>
<path d="M814.5,414.1L826.7,417.1L836.6,425.4L824.4,422.4Z" fill="#10b4cd" stroke="#10b4cd"/>
<path d="M858.7,436.8L870.7,439.9L880.7,448.3L868.7,445.1Z" fill="#1380d4" stroke="#1380d4"/>
<path d="M880.7,448.3L892.6,451.4L902.7,459.9L890.8,456.7Z" fill="#1367d1" stroke="#1367d1"/>
<path d="M924.6,471.6L936.3,474.9L946.5,483.6L934.8,480.2Z" fill="#1037c9" stroke="#1037c9"/>
<path d="M968.3,495.7L979.8,499.2L990.1,508.2L978.6,504.6Z" fill="#0e21b7" stroke="#0e21b7"/>
<path d="M990.1,508.2L1001.4,511.8L1011.8,520.9L1000.4,517.2Z" fill="#0c17ad" stroke="#0c17ad"/>
<path d="M623.2,322.2L636.2,325.1L645.7,333.2L632.7,330.2Z" fill="#1cd032" stroke="#1cd032"/>
<path d="M690.6,355.3L703.4,358.3L713.0,366.4L700.3,363.4Z" fill="#14cd5f" stroke="#14cd5f"/>
<path d="M328.1,190.4L342.2,191.7L350.9,199.1L336.7,197.6Z" fill="#f08512" stroke="#f08512"/>
<path d="M259.8,166.6L274.1,167.1L282.5,174.1L268.2,173.3Z" fill="#f14610" stroke="#f14610"/>
<path d="M305.3,182.0L319.5,183.1L328.1,190.4L313.8,189.1Z" fill="#f06e10" stroke="#f06e10"/>
<path d="M373.7,208.2L387.7,210.0L396.4,217.6L382.4,215.7Z" fill="#f0b61b" stroke="#f0b61b"/>
<path d="M396.4,217.6L410.4,219.6L419.2,227.2L405.3,225.2Z" fill="#f0cd1e" stroke="#f0cd1e"/>
<path d="M419.2,227.2L433.1,229.4L442.0,237.2L428.1,234.9Z" fill="#f0e01e" stroke="#f0e01e"/>
<path d="M442.0,237.2L455.7,239.5L464.7,247.3L451.0,244.9Z" fill="#eae61e" stroke="#eae61e"/>
<path d="M464.7,247.3L478.4,249.7L487.5,257.6L473.8,255.1Z" fill="#d7e71e" stroke="#d7e71e"/>
<path d="M487.5,257.6L501.0,260.2L510.2,268.1L496.6,265.5Z" fill="#b2e21f" stroke="#b2e21f"/>
<path d="M510.2,268.1L523.7,270.7L532.8,278.7L519.3,276.0Z" fill="#7edb20" stroke="#7edb20"/>
<path d="M532.8,278.7L546.2,281.4L555.5,289.5L542.1,286.7Z" fill="#4fd420" stroke="#4fd420"/>
<path d="M555.5,289.5L568.8,292.2L578.1,300.3L564.8,297.5Z" fill="#34d121" stroke="#34d121"/>
<path d="M578.1,300.3L591.3,303.1L600.7,311.2L587.4,308.3Z" fill="#27d024" stroke="#27d024"/>
<path d="M645.7,333.2L658.7,336.1L668.2,344.2L655.2,341.2Z" fill="#17cf42" stroke="#17cf42"/>
<path d="M713.0,366.4L725.7,369.4L735.4,377.5L722.7,374.5Z" fill="#14cd6c" stroke="#14cd6c"/>
<path d="M735.4,377.5L747.9,380.5L757.7,388.7L745.1,385.7Z" fill="#14cc7a" stroke="#14cc7a"/>
<path d="M757.7,388.7L770.2,391.7L780.0,399.9L767.5,396.8Z" fill="#11cf90" stroke="#11cf90"/>
<path d="M780.0,399.9L792.4,402.9L802.2,411.1L789.9,408.0Z" fill="#10cdab" stroke="#10cdab"/>
<path d="M802.2,411.1L814.5,414.1L824.4,422.4L812.2,419.3Z" fill="#10c8c7" stroke="#10c8c7"/>
<path d="M824.4,422.4L836.6,425.4L846.6,433.7L834.4,430.6Z" fill="#10b0ce" stroke="#10b0ce"/>
<path d="M846.6,433.7L858.7,436.8L868.7,445.1L856.7,442.0Z" fill="#1196d3" stroke="#1196d3"/>
<path d="M868.7,445.1L880.7,448.3L890.8,456.7L878.8,453.5Z" fill="#147bd4" stroke="#147bd4"/>
<path d="M890.8,456.7L902.7,459.9L912.8,468.4L901.0,465.1Z" fill="#1363d0" stroke="#1363d0"/>
<path d="M912.8,468.4L924.6,471.6L934.8,480.2L923.1,476.9Z" fill="#124bcc" stroke="#124bcc"/>
<path d="M934.8,480.2L946.5,483.6L956.7,492.3L945.1,488.8Z" fill="#1032c8" stroke="#1032c8"/>
<path d="M956.7,492.3L968.3,495.7L978.6,504.6L967.0,501.0Z" fill="#0f29bf" stroke="#0f29bf"/>
<path d="M978.6,504.6L990.1,508.2L1000.4,517.2L989.0,513.5Z" fill="#0d1fb5" stroke="#0d1fb5"/>
<path d="M1000.4,517.2L1011.8,520.9L1022.1,530.1L1010.8,526.3Z" fill="#0c15ab" stroke="#0c15ab"/>
<path d="M1022.1,530.1L1033.4,534.1L1043.8,543.5L1032.5,539.4Z" fill="#0b109f" stroke="#0b109f"/>
<path d="M350.9,199.1L364.9,200.7L373.7,208.2L359.6,206.5Z" fill="#f09e17" stroke="#f09e17"/>
<path d="M282.5,174.1L296.8,174.9L305.3,182.0L291.0,181.0Z" fill="#f05a10" stroke="#f05a10"/>
<path d="M600.7,311.2L613.8,314.1L623.2,322.2L610.1,319.2Z" fill="#21d027" stroke="#21d027"/>
<path d="M668.2,344.2L681.0,347.2L690.6,355.3L677.8,352.3Z" fill="#14ce52" stroke="#14ce52"/>
<path d="M632.7,330.2L645.7,333.2L655.2,341.2L642.2,338.3Z" fill="#1bcf35" stroke="#1bcf35"/>
<path d="M700.3,363.4L713.0,366.4L722.7,374.5L710.0,371.5Z" fill="#14cd62" stroke="#14cd62"/>
<path d="M745.1,385.7L757.7,388.7L767.5,396.8L755.0,393.8Z" fill="#13cd7e" stroke="#13cd7e"/>
<path d="M767.5,396.8L780.0,399.9L789.9,408.0L777.4,404.9Z" fill="#10d094" stroke="#10d094"/>
<path d="M812.2,419.3L824.4,422.4L834.4,430.6L822.2,427.5Z" fill="#10c4c9" stroke="#10c4c9"/>
<path d="M856.7,442.0L868.7,445.1L878.8,453.5L866.8,450.3Z" fill="#1291d3" stroke="#1291d3"/>
<path d="M878.8,453.5L890.8,456.7L901.0,465.1L889.0,461.8Z" fill="#1476d4" stroke="#1476d4"/>
<path d="M923.1,476.9L934.8,480.2L945.1,488.8L933.3,485.4Z" fill="#1146cb" stroke="#1146cb"/>
<path d="M967.0,501.0L978.6,504.6L989.0,513.5L977.4,509.8Z" fill="#0f27bd" stroke="#0f27bd"/>
<path d="M989.0,513.5L1000.4,517.2L1010.8,526.3L999.4,522.4Z" fill="#0d1db3" stroke="#0d1db3"/>
<path d="M1032.5,539.4L1043.8,543.5L1054.2,552.9L1043.0,548.7Z" fill="#0b109d" stroke="#0b109d"/>
<path d="M382.4,215.7L396.4,217.6L405.3,225.2L391.3,223.1Z" fill="#f0bb1c" stroke="#f0bb1c"/>
<path d="M451.0,244.9L464.7,247.3L473.8,255.1L460.0,252.7Z" fill="#e9e71e" stroke="#e9e71e"/>
<path d="M496.6,265.5L510.2,268.1L519.3,276.0L505.7,273.4Z" fill="#a8e120" stroke="#a8e120"/>
<path d="M564.8,297.5L578.1,300.3L587.4,308.3L574.1,305.4Z" fill="#30d121" stroke="#30d121"/>
<path d="M336.7,197.6L350.9,199.1L359.6,206.5L345.4,204.9Z" fill="#f08a13" stroke="#f08a13"/>
<path d="M245.4,166.1L259.8,166.6L268.2,173.3L253.7,172.8Z" fill="#f23710" stroke="#f23710"/>
<path d="M268.2,173.3L282.5,174.1L291.0,181.0L276.6,180.1Z" fill="#f04a10" stroke="#f04a10"/>
<path d="M313.8,189.1L328.1,190.4L336.7,197.6L322.5,196.2Z" fill="#f07210" stroke="#f07210"/>
<path d="M291.0,181.0L305.3,182.0L313.8,189.1L299.5,188.0Z" fill="#f05d10" stroke="#f05d10"/>
<path d="M359.6,206.5L373.7,208.2L382.4,215.7L368.3,213.8Z" fill="#f0a318" stroke="#f0a318"/>
<path d="M405.3,225.2L419.2,227.2L428.1,234.9L414.2,232.7Z" fill="#f0d11e" stroke="#f0d11e"/>
<path d="M428.1,234.9L442.0,237.2L451.0,244.9L437.1,242.6Z" fill="#efe21e" stroke="#efe21e"/>
<path d="M473.8,255.1L487.5,257.6L496.6,265.5L482.9,262.9Z" fill="#d2e61e" stroke="#d2e61e"/>
<path d="M519.3,276.0L532.8,278.7L542.1,286.7L528.6,283.9Z" fill="#72d920" stroke="#72d920"/>
<path d="M542.1,286.7L555.5,289.5L564.8,297.5L551.4,294.6Z" fill="#46d320" stroke="#46d320"/>
<path d="M587.4,308.3L600.7,311.2L610.1,319.2L596.8,316.3Z" fill="#26d024" stroke="#26d024"/>
<path d="M610.1,319.2L623.2,322.2L632.7,330.2L619.5,327.3Z" fill="#1fd027" stroke="#1fd027"/>
<path d="M655.2,341.2L668.2,344.2L677.8,352.3L664.8,349.3Z" fill="#17cf45" stroke="#17cf45"/>
<path d="M677.8,352.3L690.6,355.3L700.3,363.4L687.4,360.4Z" fill="#14ce54" stroke="#14ce54"/>
<path d="M722.7,374.5L735.4,377.5L745.1,385.7L732.5,382.6Z" fill="#14cc6f" stroke="#14cc6f"/>
<path d="M789.9,408.0L802.2,411.1L812.2,419.3L799.8,416.2Z" fill="#10ccb0" stroke="#10ccb0"/>
<path d="M834.4,430.6L846.6,433.7L856.7,442.0L844.5,438.8Z" fill="#10abcf" stroke="#10abcf"/>
<path d="M901.0,465.1L912.8,468.4L923.1,476.9L911.2,473.5Z" fill="#135ed0" stroke="#135ed0"/>
<path d="M945.1,488.8L956.7,492.3L967.0,501.0L955.4,497.5Z" fill="#1030c6" stroke="#1030c6"/>
<path d="M1010.8,526.3L1022.1,530.1L1032.5,539.4L1021.2,535.3Z" fill="#0c14a9" stroke="#0c14a9"/>
<path d="M755.0,393.8L767.5,396.8L777.4,404.9L764.9,401.8Z" fill="#13cd82" stroke="#13cd82"/>
<path d="M866.8,450.3L878.8,453.5L889.0,461.8L876.9,458.5Z" fill="#128cd3" stroke="#128cd3"/>
<path d="M977.4,509.8L989.0,513.5L999.4,522.4L987.8,518.6Z" fill="#0e25bb" stroke="#0e25bb"/>
<path d="M642.2,338.3L655.2,341.2L664.8,349.3L651.8,346.3Z" fill="#1acf38" stroke="#1acf38"/>
<path d="M276.6,180.1L291.0,181.0L299.5,188.0L285.1,186.9Z" fill="#f04d10" stroke="#f04d10"/>
<path d="M345.4,204.9L359.6,206.5L368.3,213.8L354.1,212.1Z" fill="#f08e14" stroke="#f08e14"/>
<path d="M368.3,213.8L382.4,215.7L391.3,223.1L377.1,221.2Z" fill="#f0a718" stroke="#f0a718"/>
<path d="M391.3,223.1L405.3,225.2L414.2,232.7L400.2,230.6Z" fill="#f0c01d" stroke="#f0c01d"/>
<path d="M437.1,242.6L451.0,244.9L460.0,252.7L446.1,250.3Z" fill="#eee31e" stroke="#eee31e"/>
<path d="M460.0,252.7L473.8,255.1L482.9,262.9L469.1,260.4Z" fill="#e7e81e" stroke="#e7e81e"/>
<path d="M482.9,262.9L496.6,265.5L505.7,273.4L492.0,270.7Z" fill="#cde61e" stroke="#cde61e"/>
<path d="M505.7,273.4L519.3,276.0L528.6,283.9L514.9,281.2Z" fill="#9fe020" stroke="#9fe020"/>
<path d="M551.4,294.6L564.8,297.5L574.1,305.4L560.7,302.6Z" fill="#40d220" stroke="#40d220"/>
<path d="M574.1,305.4L587.4,308.3L596.8,316.3L583.5,313.4Z" fill="#2cd022" stroke="#2cd022"/>
<path d="M596.8,316.3L610.1,319.2L619.5,327.3L606.3,324.3Z" fill="#24d025" stroke="#24d025"/>
<path d="M664.8,349.3L677.8,352.3L687.4,360.4L674.5,357.3Z" fill="#16ce48" stroke="#16ce48"/>
<path d="M230.9,165.9L245.4,166.1L253.7,172.8L239.2,172.3Z" fill="#f42910" stroke="#f42910"/>
<path d="M253.7,172.8L268.2,173.3L276.6,180.1L262.2,179.4Z" fill="#f23a10" stroke="#f23a10"/>
<path d="M322.5,196.2L336.7,197.6L345.4,204.9L331.1,203.3Z" fill="#f07610" stroke="#f07610"/>
<path d="M299.5,188.0L313.8,189.1L322.5,196.2L308.1,194.9Z" fill="#f06110" stroke="#f06110"/>
<path d="M414.2,232.7L428.1,234.9L437.1,242.6L423.2,240.3Z" fill="#f0d51e" stroke="#f0d51e"/>
<path d="M528.6,283.9L542.1,286.7L551.4,294.6L537.8,291.8Z" fill="#68d820" stroke="#68d820"/>
<path d="M619.5,327.3L632.7,330.2L642.2,338.3L629.1,335.3Z" fill="#1ed028" stroke="#1ed028"/>
<path d="M687.4,360.4L700.3,363.4L710.0,371.5L697.1,368.4Z" fill="#14ce57" stroke="#14ce57"/>
<path d="M710.0,371.5L722.7,374.5L732.5,382.6L719.7,379.5Z" fill="#14cd64" stroke="#14cd64"/>
<path d="M732.5,382.6L745.1,385.7L755.0,393.8L742.3,390.7Z" fill="#14cc71" stroke="#14cc71"/>
<path d="M777.4,404.9L789.9,408.0L799.8,416.2L787.4,413.1Z" fill="#10d099" stroke="#10d099"/>
<path d="M799.8,416.2L812.2,419.3L822.2,427.5L809.8,424.3Z" fill="#10cbb5" stroke="#10cbb5"/>
<path d="M822.2,427.5L834.4,430.6L844.5,438.8L832.2,435.6Z" fill="#10c0ca" stroke="#10c0ca"/>
<path d="M844.5,438.8L856.7,442.0L866.8,450.3L854.6,447.0Z" fill="#10a7d0" stroke="#10a7d0"/>
<path d="M889.0,461.8L901.0,465.1L911.2,473.5L899.2,470.2Z" fill="#1472d3" stroke="#1472d3"/>
<path d="M911.2,473.5L923.1,476.9L933.3,485.4L921.5,482.0Z" fill="#135acf" stroke="#135acf"/>
<path d="M933.3,485.4L945.1,488.8L955.4,497.5L943.7,493.9Z" fill="#1142cb" stroke="#1142cb"/>
<path d="M955.4,497.5L967.0,501.0L977.4,509.8L965.8,506.1Z" fill="#102fc5" stroke="#102fc5"/>
<path d="M999.4,522.4L1010.8,526.3L1021.2,535.3L1009.8,531.3Z" fill="#0d1bb1" stroke="#0d1bb1"/>
<path d="M1021.2,535.3L1032.5,539.4L1043.0,548.7L1031.8,544.5Z" fill="#0c13a6" stroke="#0c13a6"/>
<path d="M1043.0,548.7L1054.2,552.9L1064.7,562.5L1053.6,558.0Z" fill="#0b0f9a" stroke="#0b0f9a"/>
<path d="M651.8,346.3L664.8,349.3L674.5,357.3L661.4,354.3Z" fill="#19cf3b" stroke="#19cf3b"/>
<path d="M354.1,212.1L368.3,213.8L377.1,221.2L362.9,219.4Z" fill="#f09315" stroke="#f09315"/>
<path d="M469.1,260.4L482.9,262.9L492.0,270.7L478.2,268.1Z" fill="#e2e81e" stroke="#e2e81e"/>
<path d="M583.5,313.4L596.8,316.3L606.3,324.3L593.0,321.3Z" fill="#2ad022" stroke="#2ad022"/>
<path d="M674.5,357.3L687.4,360.4L697.1,368.4L684.2,365.3Z" fill="#15ce4b" stroke="#15ce4b"/>
<path d="M719.7,379.5L732.5,382.6L742.3,390.7L729.6,387.6Z" fill="#14cd66" stroke="#14cd66"/>
<path d="M742.3,390.7L755.0,393.8L764.9,401.8L752.2,398.7Z" fill="#14cc73" stroke="#14cc73"/>
<path d="M764.9,401.8L777.4,404.9L787.4,413.1L774.8,409.9Z" fill="#12ce86" stroke="#12ce86"/>
<path d="M787.4,413.1L799.8,416.2L809.8,424.3L797.4,421.1Z" fill="#10cf9d" stroke="#10cf9d"/>
<path d="M832.2,435.6L844.5,438.8L854.6,447.0L842.4,443.8Z" fill="#10bccb" stroke="#10bccb"/>
<path d="M854.6,447.0L866.8,450.3L876.9,458.5L864.8,455.2Z" fill="#10a3d1" stroke="#10a3d1"/>
<path d="M876.9,458.5L889.0,461.8L899.2,470.2L887.2,466.8Z" fill="#1288d3" stroke="#1288d3"/>
<path d="M899.2,470.2L911.2,473.5L921.5,482.0L909.5,478.5Z" fill="#136ed2" stroke="#136ed2"/>
<path d="M943.7,493.9L955.4,497.5L965.8,506.1L954.0,502.5Z" fill="#113eca" stroke="#113eca"/>
<path d="M965.8,506.1L977.4,509.8L987.8,518.6L976.2,514.8Z" fill="#0f2dc3" stroke="#0f2dc3"/>
<path d="M987.8,518.6L999.4,522.4L1009.8,531.3L998.3,527.4Z" fill="#0e23b9" stroke="#0e23b9"/>
<path d="M1009.8,531.3L1021.2,535.3L1031.8,544.5L1020.4,540.3Z" fill="#0d19af" stroke="#0d19af"/>
<path d="M1053.6,558.0L1064.7,562.5L1075.3,572.0L1064.2,567.4Z" fill="#0b0e98" stroke="#0b0e98"/>
<path d="M285.1,186.9L299.5,188.0L308.1,194.9L293.7,193.8Z" fill="#f05010" stroke="#f05010"/>
<path d="M216.3,165.8L230.9,165.9L239.2,172.3L224.6,172.1Z" fill="#f52212" stroke="#f52212"/>
<path d="M262.2,179.4L276.6,180.1L285.1,186.9L270.6,186.1Z" fill="#f23d10" stroke="#f23d10"/>
<path d="M239.2,172.3L253.7,172.8L262.2,179.4L247.6,178.8Z" fill="#f32b10" stroke="#f32b10"/>
<path d="M331.1,203.3L345.4,204.9L354.1,212.1L339.8,210.5Z" fill="#f07a10" stroke="#f07a10"/>
<path d="M377.1,221.2L391.3,223.1L400.2,230.6L386.0,228.6Z" fill="#f0ac19" stroke="#f0ac19"/>
<path d="M400.2,230.6L414.2,232.7L423.2,240.3L409.1,238.1Z" fill="#f0c51d" stroke="#f0c51d"/>
<path d="M423.2,240.3L437.1,242.6L446.1,250.3L432.2,247.9Z" fill="#f0d81e" stroke="#f0d81e"/>
<path d="M446.1,250.3L460.0,252.7L469.1,260.4L455.2,257.9Z" fill="#ede41e" stroke="#ede41e"/>
<path d="M492.0,270.7L505.7,273.4L514.9,281.2L501.2,278.5Z" fill="#c4e51e" stroke="#c4e51e"/>
<path d="M514.9,281.2L528.6,283.9L537.8,291.8L524.2,289.1Z" fill="#95de20" stroke="#95de20"/>
<path d="M537.8,291.8L551.4,294.6L560.7,302.6L547.2,299.7Z" fill="#60d720" stroke="#60d720"/>
<path d="M560.7,302.6L574.1,305.4L583.5,313.4L570.1,310.5Z" fill="#3cd220" stroke="#3cd220"/>
<path d="M606.3,324.3L619.5,327.3L629.1,335.3L615.8,332.3Z" fill="#23d025" stroke="#23d025"/>
<path d="M308.1,194.9L322.5,196.2L331.1,203.3L316.8,201.9Z" fill="#f06410" stroke="#f06410"/>
<path d="M629.1,335.3L642.2,338.3L651.8,346.3L638.6,343.3Z" fill="#1dd02b" stroke="#1dd02b"/>
<path d="M697.1,368.4L710.0,371.5L719.7,379.5L706.9,376.4Z" fill="#14ce59" stroke="#14ce59"/>
<path d="M809.8,424.3L822.2,427.5L832.2,435.6L819.9,432.4Z" fill="#10cab9" stroke="#10cab9"/>
<path d="M921.5,482.0L933.3,485.4L943.7,493.9L931.8,490.4Z" fill="#1256ce" stroke="#1256ce"/>
<path d="M1031.8,544.5L1043.0,548.7L1053.6,558.0L1042.3,553.6Z" fill="#0c12a4" stroke="#0c12a4"/>
<path d="M661.4,354.3L674.5,357.3L684.2,365.3L671.1,362.3Z" fill="#19cf3e" stroke="#19cf3e"/>
<path d="M729.6,387.6L742.3,390.7L752.2,398.7L739.4,395.6Z" fill="#14cd68" stroke="#14cd68"/>
<path d="M774.8,409.9L787.4,413.1L797.4,421.1L784.8,418.0Z" fill="#12ce89" stroke="#12ce89"/>
<path d="M842.4,443.8L854.6,447.0L864.8,455.2L852.5,451.9Z" fill="#10b8cc" stroke="#10b8cc"/>
<path d="M887.2,466.8L899.2,470.2L909.5,478.5L897.5,475.1Z" fill="#1383d3" stroke="#1383d3"/>
<path d="M954.0,502.5L965.8,506.1L976.2,514.8L964.5,511.0Z" fill="#1039c9" stroke="#1039c9"/>
<path d="M998.3,527.4L1009.8,531.3L1020.4,540.3L1008.9,536.2Z" fill="#0e21b7" stroke="#0e21b7"/>
<path d="M1064.2,567.4L1075.3,572.0L1085.9,581.7L1074.8,576.8Z" fill="#0b0d95" stroke="#0b0d95"/>
<path d="M339.8,210.5L354.1,212.1L362.9,219.4L348.6,217.6Z" fill="#f07e11" stroke="#f07e11"/>
<path d="M362.9,219.4L377.1,221.2L386.0,228.6L371.8,226.6Z" fill="#f09716" stroke="#f09716"/>
<path d="M409.1,238.1L423.2,240.3L432.2,247.9L418.1,245.6Z" fill="#f0c91e" stroke="#f0c91e"/>
<path d="M455.2,257.9L469.1,260.4L478.2,268.1L464.3,265.6Z" fill="#ece51e" stroke="#ece51e"/>
<path d="M478.2,268.1L492.0,270.7L501.2,278.5L487.4,275.8Z" fill="#dde71e" stroke="#dde71e"/>
<path d="M524.2,289.1L537.8,291.8L547.2,299.7L533.5,296.9Z" fill="#8bdd20" stroke="#8bdd20"/>
<path d="M570.1,310.5L583.5,313.4L593.0,321.3L579.5,318.4Z" fill="#39d121" stroke="#39d121"/>
<path d="M593.0,321.3L606.3,324.3L615.8,332.3L602.5,329.3Z" fill="#29d023" stroke="#29d023"/>
<path d="M270.6,186.1L285.1,186.9L293.7,193.8L279.2,192.8Z" fill="#f13f10" stroke="#f13f10"/>
<path d="M293.7,193.8L308.1,194.9L316.8,201.9L302.3,200.6Z" fill="#f05310" stroke="#f05310"/>
<path d="M201.7,165.9L216.3,165.8L224.6,172.1L209.9,172.0Z" fill="#f71f15" stroke="#f71f15"/>
<path d="M224.6,172.1L239.2,172.3L247.6,178.8L233.0,178.4Z" fill="#f52212" stroke="#f52212"/>
<path d="M247.6,178.8L262.2,179.4L270.6,186.1L256.1,185.3Z" fill="#f32d10" stroke="#f32d10"/>
<path d="M316.8,201.9L331.1,203.3L339.8,210.5L325.5,208.9Z" fill="#f06810" stroke="#f06810"/>
<path d="M386.0,228.6L400.2,230.6L409.1,238.1L394.9,236.0Z" fill="#f0b01a" stroke="#f0b01a"/>
<path d="M432.2,247.9L446.1,250.3L455.2,257.9L441.2,255.5Z" fill="#f0db1e" stroke="#f0db1e"/>
<path d="M501.2,278.5L514.9,281.2L524.2,289.1L510.5,286.3Z" fill="#bce41f" stroke="#bce41f"/>
<path d="M547.2,299.7L560.7,302.6L570.1,310.5L556.6,307.6Z" fill="#59d620" stroke="#59d620"/>
<path d="M615.8,332.3L629.1,335.3L638.6,343.3L625.4,340.2Z" fill="#22d026" stroke="#22d026"/>
<path d="M638.6,343.3L651.8,346.3L661.4,354.3L648.3,351.2Z" fill="#1dd02d" stroke="#1dd02d"/>
<path d="M684.2,365.3L697.1,368.4L706.9,376.4L693.9,373.3Z" fill="#15ce4e" stroke="#15ce4e"/>
<path d="M706.9,376.4L719.7,379.5L729.6,387.6L716.7,384.4Z" fill="#14cd5b" stroke="#14cd5b"/>
<path d="M752.2,398.7L764.9,401.8L774.8,409.9L762.1,406.7Z" fill="#14cc75" stroke="#14cc75"/>
<path d="M797.4,421.1L809.8,424.3L819.9,432.4L807.4,429.2Z" fill="#10cea2" stroke="#10cea2"/>
<path d="M819.9,432.4L832.2,435.6L842.4,443.8L830.0,440.5Z" fill="#10cabe" stroke="#10cabe"/>
<path d="M864.8,455.2L876.9,458.5L887.2,466.8L875.0,463.4Z" fill="#109fd2" stroke="#109fd2"/>
<path d="M909.5,478.5L921.5,482.0L931.8,490.4L919.9,486.9Z" fill="#136ad2" stroke="#136ad2"/>
<path d="M931.8,490.4L943.7,493.9L954.0,502.5L942.2,498.8Z" fill="#1252cd" stroke="#1252cd"/>
<path d="M976.2,514.8L987.8,518.6L998.3,527.4L986.7,523.4Z" fill="#0f2bc1" stroke="#0f2bc1"/>
<path d="M1020.4,540.3L1031.8,544.5L1042.3,553.6L1031.0,549.3Z" fill="#0c17ad" stroke="#0c17ad"/>
<path d="M1042.3,553.6L1053.6,558.0L1064.2,567.4L1053.0,562.8Z" fill="#0b11a2" stroke="#0b11a2"/>
<path d="M186.9,166.1L201.7,165.9L209.9,172.0L195.2,172.0Z" fill="#f91b19" stroke="#f91b19"/>
<path d="M209.9,172.0L224.6,172.1L233.0,178.4L218.3,178.1Z" fill="#f71f15" stroke="#f71f15"/>
<path d="M233.0,178.4L247.6,178.8L256.1,185.3L241.4,184.7Z" fill="#f52311" stroke="#f52311"/>
<path d="M256.1,185.3L270.6,186.1L279.2,192.8L264.6,191.9Z" fill="#f32f10" stroke="#f32f10"/>
<path d="M279.2,192.8L293.7,193.8L302.3,200.6L287.8,199.5Z" fill="#f14210" stroke="#f14210"/>
<path d="M302.3,200.6L316.8,201.9L325.5,208.9L311.0,207.5Z" fill="#f05610" stroke="#f05610"/>
<path d="M325.5,208.9L339.8,210.5L348.6,217.6L334.2,216.0Z" fill="#f06b10" stroke="#f06b10"/>
<path d="M348.6,217.6L362.9,219.4L371.8,226.6L357.4,224.8Z" fill="#f08212" stroke="#f08212"/>
<path d="M371.8,226.6L386.0,228.6L394.9,236.0L380.7,233.9Z" fill="#f09b16" stroke="#f09b16"/>
<path d="M394.9,236.0L409.1,238.1L418.1,245.6L403.9,243.4Z" fill="#f0b41b" stroke="#f0b41b"/>
<path d="M418.1,245.6L432.2,247.9L441.2,255.5L427.1,253.1Z" fill="#f0cc1e" stroke="#f0cc1e"/>
<path d="M441.2,255.5L455.2,257.9L464.3,265.6L450.3,263.1Z" fill="#f0df1e" stroke="#f0df1e"/>
<path d="M464.3,265.6L478.2,268.1L487.4,275.8L473.5,273.2Z" fill="#ebe61e" stroke="#ebe61e"/>
<path d="M487.4,275.8L501.2,278.5L510.5,286.3L496.7,283.6Z" fill="#d9e71e" stroke="#d9e71e"/>
<path d="M510.5,286.3L524.2,289.1L533.5,296.9L519.8,294.1Z" fill="#b4e31f" stroke="#b4e31f"/>
<path d="M533.5,296.9L547.2,299.7L556.6,307.6L542.9,304.7Z" fill="#81db20" stroke="#81db20"/>
<path d="M556.6,307.6L570.1,310.5L579.5,318.4L566.0,315.4Z" fill="#51d420" stroke="#51d420"/>
<path d="M579.5,318.4L593.0,321.3L602.5,329.3L589.0,326.3Z" fill="#35d121" stroke="#35d121"/>
<path d="M602.5,329.3L615.8,332.3L625.4,340.2L612.1,337.2Z" fill="#27d023" stroke="#27d023"/>
<path d="M625.4,340.2L638.6,343.3L648.3,351.2L635.0,348.1Z" fill="#21d026" stroke="#21d026"/>
<path d="M648.3,351.2L661.4,354.3L671.1,362.3L658.0,359.1Z" fill="#1cd030" stroke="#1cd030"/>
<path d="M671.1,362.3L684.2,365.3L693.9,373.3L680.9,370.2Z" fill="#18cf40" stroke="#18cf40"/>
<path d="M693.9,373.3L706.9,376.4L716.7,384.4L703.8,381.3Z" fill="#14ce50" stroke="#14ce50"/>
<path d="M716.7,384.4L729.6,387.6L739.4,395.6L726.6,392.4Z" fill="#14cd5d" stroke="#14cd5d"/>
<path d="M739.4,395.6L752.2,398.7L762.1,406.7L749.4,403.6Z" fill="#14cd6a" stroke="#14cd6a"/>
<path d="M762.1,406.7L774.8,409.9L784.8,418.0L772.1,414.8Z" fill="#14cc77" stroke="#14cc77"/>
<path d="M784.8,418.0L797.4,421.1L807.4,429.2L794.9,426.0Z" fill="#11cf8d" stroke="#11cf8d"/>
<path d="M807.4,429.2L819.9,432.4L830.0,440.5L817.5,437.3Z" fill="#10cda6" stroke="#10cda6"/>
<path d="M830.0,440.5L842.4,443.8L852.5,451.9L840.2,448.6Z" fill="#10c9c2" stroke="#10c9c2"/>
<path d="M852.5,451.9L864.8,455.2L875.0,463.4L862.8,460.1Z" fill="#10b4cd" stroke="#10b4cd"/>
<path d="M875.0,463.4L887.2,466.8L897.5,475.1L885.3,471.6Z" fill="#119bd2" stroke="#119bd2"/>
<path d="M897.5,475.1L909.5,478.5L919.9,486.9L907.8,483.3Z" fill="#137fd4" stroke="#137fd4"/>
<path d="M919.9,486.9L931.8,490.4L942.2,498.8L930.3,495.2Z" fill="#1366d1" stroke="#1366d1"/>
<path d="M942.2,498.8L954.0,502.5L964.5,511.0L952.7,507.3Z" fill="#124ecd" stroke="#124ecd"/>
<path d="M964.5,511.0L976.2,514.8L986.7,523.4L975.0,519.6Z" fill="#1035c9" stroke="#1035c9"/>
<path d="M986.7,523.4L998.3,527.4L1008.9,536.2L997.3,532.1Z" fill="#0f2ac0" stroke="#0f2ac0"/>
<path d="M1008.9,536.2L1020.4,540.3L1031.0,549.3L1019.5,545.0Z" fill="#0e20b6" stroke="#0e20b6"/>
<path d="M1031.0,549.3L1042.3,553.6L1053.0,562.8L1041.6,558.3Z" fill="#0c15ab" stroke="#0c15ab"/>
<path d="M1053.0,562.8L1064.2,567.4L1074.8,576.8L1063.6,572.1Z" fill="#0b109f" stroke="#0b109f"/>
<path d="M1074.8,576.8L1085.9,581.7L1096.6,591.3L1085.6,586.3Z" fill="#0a0c92" stroke="#0a0c92"/>
<path d="M680.9,370.2L693.9,373.3L703.8,381.3L690.7,378.1Z" fill="#17cf43" stroke="#17cf43"/>
<path d="M703.8,381.3L716.7,384.4L726.6,392.4L713.6,389.2Z" fill="#14ce52" stroke="#14ce52"/>
<path d="M749.4,403.6L762.1,406.7L772.1,414.8L759.4,411.5Z" fill="#14cd6c" stroke="#14cd6c"/>
<path d="M794.9,426.0L807.4,429.2L817.5,437.3L805.0,434.0Z" fill="#11cf90" stroke="#11cf90"/>
<path d="M817.5,437.3L830.0,440.5L840.2,448.6L827.7,445.3Z" fill="#10cdaa" stroke="#10cdaa"/>
<path d="M862.8,460.1L875.0,463.4L885.3,471.6L873.1,468.2Z" fill="#10b1ce" stroke="#10b1ce"/>
<path d="M907.8,483.3L919.9,486.9L930.3,495.2L918.3,491.6Z" fill="#147bd4" stroke="#147bd4"/>
<path d="M930.3,495.2L942.2,498.8L952.7,507.3L940.8,503.5Z" fill="#1363d0" stroke="#1363d0"/>
<path d="M975.0,519.6L986.7,523.4L997.3,532.1L985.6,528.1Z" fill="#1032c8" stroke="#1032c8"/>
<path d="M1019.5,545.0L1031.0,549.3L1041.6,558.3L1030.2,553.9Z" fill="#0d1eb4" stroke="#0d1eb4"/>
<path d="M1041.6,558.3L1053.0,562.8L1063.6,572.1L1052.3,567.4Z" fill="#0c14a9" stroke="#0c14a9"/>
<path d="M311.0,207.5L325.5,208.9L334.2,216.0L319.7,214.4Z" fill="#f05910" stroke="#f05910"/>
<path d="M380.7,233.9L394.9,236.0L403.9,243.4L389.6,241.2Z" fill="#f09f17" stroke="#f09f17"/>
<path d="M427.1,253.1L441.2,255.5L450.3,263.1L436.2,260.6Z" fill="#f0cf1e" stroke="#f0cf1e"/>
<path d="M496.7,283.6L510.5,286.3L519.8,294.1L506.0,291.3Z" fill="#d4e71e" stroke="#d4e71e"/>
<path d="M542.9,304.7L556.6,307.6L566.0,315.4L552.4,312.5Z" fill="#77da20" stroke="#77da20"/>
<path d="M612.1,337.2L625.4,340.2L635.0,348.1L621.7,345.1Z" fill="#26d024" stroke="#26d024"/>
<path d="M635.0,348.1L648.3,351.2L658.0,359.1L644.7,356.0Z" fill="#20d027" stroke="#20d027"/>
<path d="M218.3,178.1L233.0,178.4L241.4,184.7L226.6,184.3Z" fill="#f71f15" stroke="#f71f15"/>
<path d="M241.4,184.7L256.1,185.3L264.6,191.9L249.9,191.1Z" fill="#f52311" stroke="#f52311"/>
<path d="M195.2,172.0L209.9,172.0L218.3,178.1L203.5,178.0Z" fill="#f91c18" stroke="#f91c18"/>
<path d="M264.6,191.9L279.2,192.8L287.8,199.5L273.1,198.4Z" fill="#f33110" stroke="#f33110"/>
<path d="M287.8,199.5L302.3,200.6L311.0,207.5L296.4,206.2Z" fill="#f14410" stroke="#f14410"/>
<path d="M334.2,216.0L348.6,217.6L357.4,224.8L343.0,223.0Z" fill="#f06e10" stroke="#f06e10"/>
<path d="M357.4,224.8L371.8,226.6L380.7,233.9L366.3,231.9Z" fill="#f08612" stroke="#f08612"/>
<path d="M403.9,243.4L418.1,245.6L427.1,253.1L412.9,250.8Z" fill="#f0b91b" stroke="#f0b91b"/>
<path d="M450.3,263.1L464.3,265.6L473.5,273.2L459.5,270.6Z" fill="#f0e11e" stroke="#f0e11e"/>
<path d="M473.5,273.2L487.4,275.8L496.7,283.6L482.8,280.9Z" fill="#eae71e" stroke="#eae71e"/>
<path d="M519.8,294.1L533.5,296.9L542.9,304.7L529.2,301.8Z" fill="#ace21f" stroke="#ace21f"/>
<path d="M566.0,315.4L579.5,318.4L589.0,326.3L575.5,323.3Z" fill="#4bd320" stroke="#4bd320"/>
<path d="M589.0,326.3L602.5,329.3L612.1,337.2L598.6,334.1Z" fill="#32d121" stroke="#32d121"/>
<path d="M658.0,359.1L671.1,362.3L680.9,370.2L667.7,367.1Z" fill="#1bcf33" stroke="#1bcf33"/>
<path d="M726.6,392.4L739.4,395.6L749.4,403.6L736.5,400.4Z" fill="#14cd5f" stroke="#14cd5f"/>
<path d="M772.1,414.8L784.8,418.0L794.9,426.0L782.2,422.7Z" fill="#14cc7a" stroke="#14cc7a"/>
<path d="M840.2,448.6L852.5,451.9L862.8,460.1L850.4,456.7Z" fill="#10c8c6" stroke="#10c8c6"/>
<path d="M885.3,471.6L897.5,475.1L907.8,483.3L895.7,479.8Z" fill="#1197d2" stroke="#1197d2"/>
<path d="M952.7,507.3L964.5,511.0L975.0,519.6L963.2,515.7Z" fill="#124acc" stroke="#124acc"/>
<path d="M997.3,532.1L1008.9,536.2L1019.5,545.0L1007.9,540.8Z" fill="#0f28be" stroke="#0f28be"/>
<path d="M1063.6,572.1L1074.8,576.8L1085.6,586.3L1074.4,581.3Z" fill="#0b109d" stroke="#0b109d"/>
<path d="M690.7,378.1L703.8,381.3L713.6,389.2L700.6,386.0Z" fill="#17cf45" stroke="#17cf45"/>
<path d="M805.0,434.0L817.5,437.3L827.7,445.3L815.2,442.0Z" fill="#10d093" stroke="#10d093"/>
<path d="M918.3,491.6L930.3,495.2L940.8,503.5L928.8,499.8Z" fill="#1477d4" stroke="#1477d4"/>
<path d="M1030.2,553.9L1041.6,558.3L1052.3,567.4L1040.9,562.8Z" fill="#0d1cb2" stroke="#0d1cb2"/>
<path d="M621.7,345.1L635.0,348.1L644.7,356.0L631.4,352.9Z" fill="#25d024" stroke="#25d024"/>
<path d="M296.4,206.2L311.0,207.5L319.7,214.4L305.1,212.9Z" fill="#f14710" stroke="#f14710"/>
<path d="M226.6,184.3L241.4,184.7L249.9,191.1L235.1,190.5Z" fill="#f71f15" stroke="#f71f15"/>
<path d="M319.7,214.4L334.2,216.0L343.0,223.0L328.5,221.3Z" fill="#f05b10" stroke="#f05b10"/>
<path d="M366.3,231.9L380.7,233.9L389.6,241.2L375.3,239.1Z" fill="#f08a13" stroke="#f08a13"/>
<path d="M389.6,241.2L403.9,243.4L412.9,250.8L398.6,248.5Z" fill="#f0a318" stroke="#f0a318"/>
<path d="M412.9,250.8L427.1,253.1L436.2,260.6L422.0,258.2Z" fill="#f0bc1c" stroke="#f0bc1c"/>
<path d="M436.2,260.6L450.3,263.1L459.5,270.6L445.4,268.1Z" fill="#f0d21e" stroke="#f0d21e"/>
<path d="M482.8,280.9L496.7,283.6L506.0,291.3L492.0,288.5Z" fill="#e9e71e" stroke="#e9e71e"/>
<path d="M506.0,291.3L519.8,294.1L529.2,301.8L515.3,299.0Z" fill="#d0e61e" stroke="#d0e61e"/>
<path d="M529.2,301.8L542.9,304.7L552.4,312.5L538.6,309.6Z" fill="#a5e120" stroke="#a5e120"/>
<path d="M552.4,312.5L566.0,315.4L575.5,323.3L561.8,320.3Z" fill="#6fd920" stroke="#6fd920"/>
<path d="M598.6,334.1L612.1,337.2L621.7,345.1L608.2,342.0Z" fill="#2fd022" stroke="#2fd022"/>
<path d="M203.5,178.0L218.3,178.1L226.6,184.3L211.8,183.9Z" fill="#f91c18" stroke="#f91c18"/>
<path d="M249.9,191.1L264.6,191.9L273.1,198.4L258.4,197.5Z" fill="#f42311" stroke="#f42311"/>
<path d="M273.1,198.4L287.8,199.5L296.4,206.2L281.7,205.0Z" fill="#f33310" stroke="#f33310"/>
<path d="M343.0,223.0L357.4,224.8L366.3,231.9L351.9,230.0Z" fill="#f07110" stroke="#f07110"/>
<path d="M459.5,270.6L473.5,273.2L482.8,280.9L468.7,278.2Z" fill="#efe21e" stroke="#efe21e"/>
<path d="M575.5,323.3L589.0,326.3L598.6,334.1L585.1,331.1Z" fill="#44d220" stroke="#44d220"/>
<path d="M667.7,367.1L680.9,370.2L690.7,378.1L677.5,375.0Z" fill="#1bcf35" stroke="#1bcf35"/>
<path d="M713.6,389.2L726.6,392.4L736.5,400.4L723.6,397.2Z" fill="#14ce54" stroke="#14ce54"/>
<path d="M736.5,400.4L749.4,403.6L759.4,411.5L746.5,408.3Z" fill="#14cd61" stroke="#14cd61"/>
<path d="M759.4,411.5L772.1,414.8L782.2,422.7L769.5,419.5Z" fill="#14cd6e" stroke="#14cd6e"/>
<path d="M782.2,422.7L794.9,426.0L805.0,434.0L792.4,430.7Z" fill="#13cd7d" stroke="#13cd7d"/>
<path d="M827.7,445.3L840.2,448.6L850.4,456.7L838.0,453.3Z" fill="#10ccae" stroke="#10ccae"/>
<path d="M850.4,456.7L862.8,460.1L873.1,468.2L860.8,464.8Z" fill="#10c6c8" stroke="#10c6c8"/>
<path d="M873.1,468.2L885.3,471.6L895.7,479.8L883.5,476.3Z" fill="#10adcf" stroke="#10adcf"/>
<path d="M895.7,479.8L907.8,483.3L918.3,491.6L906.2,488.0Z" fill="#1193d3" stroke="#1193d3"/>
<path d="M940.8,503.5L952.7,507.3L963.2,515.7L951.3,511.9Z" fill="#135fd0" stroke="#135fd0"/>
<path d="M963.2,515.7L975.0,519.6L985.6,528.1L973.8,524.1Z" fill="#1147cb" stroke="#1147cb"/>
<path d="M985.6,528.1L997.3,532.1L1007.9,540.8L996.3,536.7Z" fill="#1030c6" stroke="#1030c6"/>
<path d="M1007.9,540.8L1019.5,545.0L1030.2,553.9L1018.6,549.6Z" fill="#0e26bc" stroke="#0e26bc"/>
<path d="M1052.3,567.4L1063.6,572.1L1074.4,581.3L1063.1,576.5Z" fill="#0c13a7" stroke="#0c13a7"/>
<path d="M644.7,356.0L658.0,359.1L667.7,367.1L654.5,363.9Z" fill="#1fd027" stroke="#1fd027"/>
<path d="M398.6,248.5L412.9,250.8L422.0,258.2L407.7,255.8Z" fill="#f0a718" stroke="#f0a718"/>
<path d="M515.3,299.0L529.2,301.8L538.6,309.6L524.8,306.6Z" fill="#cbe61e" stroke="#cbe61e"/>
<path d="M608.2,342.0L621.7,345.1L631.4,352.9L617.9,349.8Z" fill="#2cd022" stroke="#2cd022"/>
<path d="M677.5,375.0L690.7,378.1L700.6,386.0L687.4,382.8Z" fill="#1acf37" stroke="#1acf37"/>
<path d="M700.6,386.0L713.6,389.2L723.6,397.2L710.5,393.9Z" fill="#16ce47" stroke="#16ce47"/>
<path d="M723.6,397.2L736.5,400.4L746.5,408.3L733.6,405.1Z" fill="#14ce56" stroke="#14ce56"/>
<path d="M769.5,419.5L782.2,422.7L792.4,430.7L779.6,427.4Z" fill="#14cc70" stroke="#14cc70"/>
<path d="M792.4,430.7L805.0,434.0L815.2,442.0L802.6,438.7Z" fill="#13cd80" stroke="#13cd80"/>
<path d="M815.2,442.0L827.7,445.3L838.0,453.3L825.5,450.0Z" fill="#10d096" stroke="#10d096"/>
<path d="M838.0,453.3L850.4,456.7L860.8,464.8L848.3,461.3Z" fill="#10ccb1" stroke="#10ccb1"/>
<path d="M883.5,476.3L895.7,479.8L906.2,488.0L893.9,484.4Z" fill="#10aad0" stroke="#10aad0"/>
<path d="M906.2,488.0L918.3,491.6L928.8,499.8L916.7,496.2Z" fill="#128fd3" stroke="#128fd3"/>
<path d="M928.8,499.8L940.8,503.5L951.3,511.9L939.3,508.1Z" fill="#1474d3" stroke="#1474d3"/>
<path d="M951.3,511.9L963.2,515.7L973.8,524.1L962.0,520.2Z" fill="#135ccf" stroke="#135ccf"/>
<path d="M996.3,536.7L1007.9,540.8L1018.6,549.6L1007.0,545.3Z" fill="#102fc5" stroke="#102fc5"/>
<path d="M1018.6,549.6L1030.2,553.9L1040.9,562.8L1029.4,558.3Z" fill="#0e25bb" stroke="#0e25bb"/>
<path d="M1040.9,562.8L1052.3,567.4L1063.1,576.5L1051.7,571.7Z" fill="#0d1bb1" stroke="#0d1bb1"/>
<path d="M281.7,205.0L296.4,206.2L305.1,212.9L290.4,211.6Z" fill="#f23510" stroke="#f23510"/>
<path d="M211.8,183.9L226.6,184.3L235.1,190.5L220.2,190.0Z" fill="#f91c18" stroke="#f91c18"/>
<path d="M235.1,190.5L249.9,191.1L258.4,197.5L243.6,196.7Z" fill="#f71f15" stroke="#f71f15"/>
<path d="M305.1,212.9L319.7,214.4L328.5,221.3L313.9,219.7Z" fill="#f04910" stroke="#f04910"/>
<path d="M258.4,197.5L273.1,198.4L281.7,205.0L267.0,203.9Z" fill="#f42410" stroke="#f42410"/>
<path d="M328.5,221.3L343.0,223.0L351.9,230.0L337.3,228.2Z" fill="#f05e10" stroke="#f05e10"/>
<path d="M351.9,230.0L366.3,231.9L375.3,239.1L360.8,237.1Z" fill="#f07410" stroke="#f07410"/>
<path d="M375.3,239.1L389.6,241.2L398.6,248.5L384.3,246.3Z" fill="#f08d14" stroke="#f08d14"/>
<path d="M422.0,258.2L436.2,260.6L445.4,268.1L431.2,265.6Z" fill="#f0c01d" stroke="#f0c01d"/>
<path d="M445.4,268.1L459.5,270.6L468.7,278.2L454.6,275.6Z" fill="#f0d51e" stroke="#f0d51e"/>
<path d="M468.7,278.2L482.8,280.9L492.0,288.5L478.0,285.8Z" fill="#eee31e" stroke="#eee31e"/>
<path d="M492.0,288.5L506.0,291.3L515.3,299.0L501.4,296.1Z" fill="#e6e81e" stroke="#e6e81e"/>
<path d="M538.6,309.6L552.4,312.5L561.8,320.3L548.1,317.3Z" fill="#9ee020" stroke="#9ee020"/>
<path d="M561.8,320.3L575.5,323.3L585.1,331.1L571.4,328.0Z" fill="#67d820" stroke="#67d820"/>
<path d="M585.1,331.1L598.6,334.1L608.2,342.0L594.7,338.9Z" fill="#40d220" stroke="#40d220"/>
<path d="M654.5,363.9L667.7,367.1L677.5,375.0L664.3,371.8Z" fill="#1ed028" stroke="#1ed028"/>
<path d="M631.4,352.9L644.7,356.0L654.5,363.9L641.1,360.8Z" fill="#25d025" stroke="#25d025"/>
<path d="M746.5,408.3L759.4,411.5L769.5,419.5L756.6,416.2Z" fill="#14cd63" stroke="#14cd63"/>
<path d="M860.8,464.8L873.1,468.2L883.5,476.3L871.2,472.8Z" fill="#10c3c9" stroke="#10c3c9"/>
<path d="M973.8,524.1L985.6,528.1L996.3,536.7L984.5,532.6Z" fill="#1143cb" stroke="#1143cb"/>
<path d="M710.5,393.9L723.6,397.2L733.6,405.1L720.5,401.8Z" fill="#16ce49" stroke="#16ce49"/>
<path d="M779.6,427.4L792.4,430.7L802.6,438.7L789.8,435.3Z" fill="#14cc71" stroke="#14cc71"/>
<path d="M825.5,450.0L838.0,453.3L848.3,461.3L835.8,457.9Z" fill="#10d099" stroke="#10d099"/>
<path d="M893.9,484.4L906.2,488.0L916.7,496.2L904.4,492.5Z" fill="#10a7d0" stroke="#10a7d0"/>
<path d="M939.3,508.1L951.3,511.9L962.0,520.2L950.0,516.3Z" fill="#1471d3" stroke="#1471d3"/>
<path d="M1007.0,545.3L1018.6,549.6L1029.4,558.3L1017.8,553.9Z" fill="#0f2dc3" stroke="#0f2dc3"/>
<path d="M664.3,371.8L677.5,375.0L687.4,382.8L674.2,379.6Z" fill="#1ed02a" stroke="#1ed02a"/>
<path d="M267.0,203.9L281.7,205.0L290.4,211.6L275.6,210.4Z" fill="#f42410" stroke="#f42410"/>
<path d="M337.3,228.2L351.9,230.0L360.8,237.1L346.2,235.2Z" fill="#f06110" stroke="#f06110"/>
<path d="M384.3,246.3L398.6,248.5L407.7,255.8L393.3,253.5Z" fill="#f09114" stroke="#f09114"/>
<path d="M407.7,255.8L422.0,258.2L431.2,265.6L416.8,263.1Z" fill="#f0ab19" stroke="#f0ab19"/>
<path d="M454.6,275.6L468.7,278.2L478.0,285.8L463.9,283.1Z" fill="#f0d81e" stroke="#f0d81e"/>
<path d="M501.4,296.1L515.3,299.0L524.8,306.6L510.8,303.8Z" fill="#e3e81e" stroke="#e3e81e"/>
<path d="M524.8,306.6L538.6,309.6L548.1,317.3L534.2,314.3Z" fill="#c5e51e" stroke="#c5e51e"/>
<path d="M571.4,328.0L585.1,331.1L594.7,338.9L581.0,335.8Z" fill="#61d720" stroke="#61d720"/>
<path d="M594.7,338.9L608.2,342.0L617.9,349.8L604.4,346.7Z" fill="#3dd220" stroke="#3dd220"/>
<path d="M641.1,360.8L654.5,363.9L664.3,371.8L650.9,368.6Z" fill="#24d025" stroke="#24d025"/>
<path d="M220.2,190.0L235.1,190.5L243.6,196.7L228.7,196.0Z" fill="#f91c18" stroke="#f91c18"/>
<path d="M243.6,196.7L258.4,197.5L267.0,203.9L252.1,203.0Z" fill="#f72014" stroke="#f72014"/>
<path d="M290.4,211.6L305.1,212.9L313.9,219.7L299.1,218.2Z" fill="#f23710" stroke="#f23710"/>
<path d="M313.9,219.7L328.5,221.3L337.3,228.2L322.7,226.5Z" fill="#f04b10" stroke="#f04b10"/>
<path d="M360.8,237.1L375.3,239.1L384.3,246.3L369.8,244.2Z" fill="#f07710" stroke="#f07710"/>
<path d="M431.2,265.6L445.4,268.1L454.6,275.6L440.4,273.0Z" fill="#f0c41d" stroke="#f0c41d"/>
<path d="M478.0,285.8L492.0,288.5L501.4,296.1L487.3,293.3Z" fill="#ede41e" stroke="#ede41e"/>
<path d="M548.1,317.3L561.8,320.3L571.4,328.0L557.6,325.0Z" fill="#96de20" stroke="#96de20"/>
<path d="M617.9,349.8L631.4,352.9L641.1,360.8L627.7,357.6Z" fill="#2ad022" stroke="#2ad022"/>
<path d="M687.4,382.8L700.6,386.0L710.5,393.9L697.4,390.7Z" fill="#1acf39" stroke="#1acf39"/>
<path d="M733.6,405.1L746.5,408.3L756.6,416.2L743.7,412.9Z" fill="#14ce58" stroke="#14ce58"/>
<path d="M756.6,416.2L769.5,419.5L779.6,427.4L766.8,424.1Z" fill="#14cd64" stroke="#14cd64"/>
<path d="M802.6,438.7L815.2,442.0L825.5,450.0L812.8,446.6Z" fill="#13cd82" stroke="#13cd82"/>
<path d="M848.3,461.3L860.8,464.8L871.2,472.8L858.7,469.3Z" fill="#10cbb5" stroke="#10cbb5"/>
<path d="M871.2,472.8L883.5,476.3L893.9,484.4L881.6,480.9Z" fill="#10c0ca" stroke="#10c0ca"/>
<path d="M916.7,496.2L928.8,499.8L939.3,508.1L927.2,504.3Z" fill="#128cd3" stroke="#128cd3"/>
<path d="M962.0,520.2L973.8,524.1L984.5,532.6L972.6,528.5Z" fill="#1259cf" stroke="#1259cf"/>
<path d="M984.5,532.6L996.3,536.7L1007.0,545.3L995.3,541.0Z" fill="#1140ca" stroke="#1140ca"/>
<path d="M1029.4,558.3L1040.9,562.8L1051.7,571.7L1040.3,567.0Z" fill="#0e23b9" stroke="#0e23b9"/>
<path d="M650.9,368.6L664.3,371.8L674.2,379.6L660.8,376.4Z" fill="#23d026" stroke="#23d026"/>
<path d="M581.0,335.8L594.7,338.9L604.4,346.7L590.7,343.6Z" fill="#5bd620" stroke="#5bd620"/>
<path d="M252.1,203.0L267.0,203.9L275.6,210.4L260.7,209.3Z" fill="#f62014" stroke="#f62014"/>
<path d="M322.7,226.5L337.3,228.2L346.2,235.2L331.5,233.4Z" fill="#f04d10" stroke="#f04d10"/>
<path d="M228.7,196.0L243.6,196.7L252.1,203.0L237.2,202.2Z" fill="#f91c18" stroke="#f91c18"/>
<path d="M275.6,210.4L290.4,211.6L299.1,218.2L284.3,216.9Z" fill="#f42510" stroke="#f42510"/>
<path d="M346.2,235.2L360.8,237.1L369.8,244.2L355.2,242.2Z" fill="#f06310" stroke="#f06310"/>
<path d="M369.8,244.2L384.3,246.3L393.3,253.5L378.8,251.3Z" fill="#f07a10" stroke="#f07a10"/>
<path d="M393.3,253.5L407.7,255.8L416.8,263.1L402.4,260.7Z" fill="#f09415" stroke="#f09415"/>
<path d="M416.8,263.1L431.2,265.6L440.4,273.0L426.0,270.5Z" fill="#f0ae1a" stroke="#f0ae1a"/>
<path d="M440.4,273.0L454.6,275.6L463.9,283.1L449.6,280.4Z" fill="#f0c71e" stroke="#f0c71e"/>
<path d="M463.9,283.1L478.0,285.8L487.3,293.3L473.2,290.6Z" fill="#f0da1e" stroke="#f0da1e"/>
<path d="M487.3,293.3L501.4,296.1L510.8,303.8L496.7,300.9Z" fill="#ece41e" stroke="#ece41e"/>
<path d="M510.8,303.8L524.8,306.6L534.2,314.3L520.3,311.4Z" fill="#dfe71e" stroke="#dfe71e"/>
<path d="M534.2,314.3L548.1,317.3L557.6,325.0L543.8,322.0Z" fill="#bee41f" stroke="#bee41f"/>
<path d="M557.6,325.0L571.4,328.0L581.0,335.8L567.2,332.7Z" fill="#8edd20" stroke="#8edd20"/>
<path d="M627.7,357.6L641.1,360.8L650.9,368.6L637.5,365.4Z" fill="#29d022" stroke="#29d022"/>
<path d="M697.4,390.7L710.5,393.9L720.5,401.8L707.4,398.5Z" fill="#19cf3c" stroke="#19cf3c"/>
<path d="M720.5,401.8L733.6,405.1L743.7,412.9L730.6,409.6Z" fill="#15ce4b" stroke="#15ce4b"/>
<path d="M743.7,412.9L756.6,416.2L766.8,424.1L753.8,420.8Z" fill="#14ce59" stroke="#14ce59"/>
<path d="M766.8,424.1L779.6,427.4L789.8,435.3L777.0,432.0Z" fill="#14cd66" stroke="#14cd66"/>
<path d="M789.8,435.3L802.6,438.7L812.8,446.6L800.1,443.2Z" fill="#14cc73" stroke="#14cc73"/>
<path d="M812.8,446.6L825.5,450.0L835.8,457.9L823.2,454.5Z" fill="#12ce85" stroke="#12ce85"/>
<path d="M835.8,457.9L848.3,461.3L858.7,469.3L846.2,465.9Z" fill="#10cf9c" stroke="#10cf9c"/>
<path d="M858.7,469.3L871.2,472.8L881.6,480.9L869.2,477.3Z" fill="#10cbb8" stroke="#10cbb8"/>
<path d="M881.6,480.9L893.9,484.4L904.4,492.5L892.1,488.9Z" fill="#10bdcb" stroke="#10bdcb"/>
<path d="M904.4,492.5L916.7,496.2L927.2,504.3L915.0,500.6Z" fill="#10a4d1" stroke="#10a4d1"/>
<path d="M927.2,504.3L939.3,508.1L950.0,516.3L937.9,512.5Z" fill="#1288d3" stroke="#1288d3"/>
<path d="M950.0,516.3L962.0,520.2L972.6,528.5L960.7,524.5Z" fill="#146ed2" stroke="#146ed2"/>
<path d="M972.6,528.5L984.5,532.6L995.3,541.0L983.4,536.9Z" fill="#1256ce" stroke="#1256ce"/>
<path d="M995.3,541.0L1007.0,545.3L1017.8,553.9L1006.1,549.5Z" fill="#113cca" stroke="#113cca"/>
<path d="M1017.8,553.9L1029.4,558.3L1040.3,567.0L1028.7,562.5Z" fill="#0f2cc2" stroke="#0f2cc2"/>
<path d="M299.1,218.2L313.9,219.7L322.7,226.5L307.9,224.9Z" fill="#f23910" stroke="#f23910"/>
<path d="M674.2,379.6L687.4,382.8L697.4,390.7L684.1,387.5Z" fill="#1dd02c" stroke="#1dd02c"/>
<path d="M604.4,346.7L617.9,349.8L627.7,357.6L614.1,354.5Z" fill="#3ad121" stroke="#3ad121"/>
<path d="M637.5,365.4L650.9,368.6L660.8,376.4L647.3,373.2Z" fill="#28d023" stroke="#28d023"/>
<path d="M730.6,409.6L743.7,412.9L753.8,420.8L740.7,417.5Z" fill="#15ce4d" stroke="#15ce4d"/>
<path d="M753.8,420.8L766.8,424.1L777.0,432.0L764.0,428.6Z" fill="#14cd5b" stroke="#14cd5b"/>
<path d="M800.1,443.2L812.8,446.6L823.2,454.5L810.4,451.1Z" fill="#14cc74" stroke="#14cc74"/>
<path d="M846.2,465.9L858.7,469.3L869.2,477.3L856.7,473.8Z" fill="#10cf9f" stroke="#10cf9f"/>
<path d="M869.2,477.3L881.6,480.9L892.1,488.9L879.7,485.3Z" fill="#10cabb" stroke="#10cabb"/>
<path d="M915.0,500.6L927.2,504.3L937.9,512.5L925.7,508.6Z" fill="#10a1d2" stroke="#10a1d2"/>
<path d="M960.7,524.5L972.6,528.5L983.4,536.9L971.4,532.8Z" fill="#136bd2" stroke="#136bd2"/>
<path d="M983.4,536.9L995.3,541.0L1006.1,549.5L994.2,545.2Z" fill="#1253cd" stroke="#1253cd"/>
<path d="M237.2,202.2L252.1,203.0L260.7,209.3L245.8,208.3Z" fill="#f91c18" stroke="#f91c18"/>
<path d="M355.2,242.2L369.8,244.2L378.8,251.3L364.2,249.2Z" fill="#f06610" stroke="#f06610"/>
<path d="M426.0,270.5L440.4,273.0L449.6,280.4L435.3,277.8Z" fill="#f0b11a" stroke="#f0b11a"/>
<path d="M473.2,290.6L487.3,293.3L496.7,300.9L482.6,298.1Z" fill="#f0dd1e" stroke="#f0dd1e"/>
<path d="M543.8,322.0L557.6,325.0L567.2,332.7L553.4,329.7Z" fill="#b8e31f" stroke="#b8e31f"/>
<path d="M567.2,332.7L581.0,335.8L590.7,343.6L576.9,340.4Z" fill="#86dc20" stroke="#86dc20"/>
<path d="M684.1,387.5L697.4,390.7L707.4,398.5L694.1,395.3Z" fill="#1dd02e" stroke="#1dd02e"/>
<path d="M260.7,209.3L275.6,210.4L284.3,216.9L269.4,215.6Z" fill="#f62014" stroke="#f62014"/>
<path d="M307.9,224.9L322.7,226.5L331.5,233.4L316.8,231.6Z" fill="#f23a10" stroke="#f23a10"/>
<path d="M284.3,216.9L299.1,218.2L307.9,224.9L293.1,223.4Z" fill="#f42610" stroke="#f42610"/>
<path d="M331.5,233.4L346.2,235.2L355.2,242.2L340.5,240.2Z" fill="#f04f10" stroke="#f04f10"/>
<path d="M378.8,251.3L393.3,253.5L402.4,260.7L387.9,258.4Z" fill="#f07d11" stroke="#f07d11"/>
<path d="M402.4,260.7L416.8,263.1L426.0,270.5L411.6,268.0Z" fill="#f09716" stroke="#f09716"/>
<path d="M449.6,280.4L463.9,283.1L473.2,290.6L458.9,287.8Z" fill="#f0ca1e" stroke="#f0ca1e"/>
<path d="M496.7,300.9L510.8,303.8L520.3,311.4L506.2,308.5Z" fill="#ebe51e" stroke="#ebe51e"/>
<path d="M520.3,311.4L534.2,314.3L543.8,322.0L529.8,319.0Z" fill="#dbe71e" stroke="#dbe71e"/>
<path d="M614.1,354.5L627.7,357.6L637.5,365.4L623.9,362.2Z" fill="#38d121" stroke="#38d121"/>
<path d="M660.8,376.4L674.2,379.6L684.1,387.5L670.7,384.2Z" fill="#22d026" stroke="#22d026"/>
<path d="M590.7,343.6L604.4,346.7L614.1,354.5L600.4,351.3Z" fill="#56d520" stroke="#56d520"/>
<path d="M707.4,398.5L720.5,401.8L730.6,409.6L717.4,406.3Z" fill="#19cf3d" stroke="#19cf3d"/>
<path d="M777.0,432.0L789.8,435.3L800.1,443.2L787.2,439.8Z" fill="#14cd67" stroke="#14cd67"/>
<path d="M823.2,454.5L835.8,457.9L846.2,465.9L833.6,462.4Z" fill="#12ce87" stroke="#12ce87"/>
<path d="M892.1,488.9L904.4,492.5L915.0,500.6L902.7,496.9Z" fill="#10bacb" stroke="#10bacb"/>
<path d="M937.9,512.5L950.0,516.3L960.7,524.5L948.6,520.6Z" fill="#1385d3" stroke="#1385d3"/>
<path d="M1006.1,549.5L1017.8,553.9L1028.7,562.5L1017.0,558.0Z" fill="#1039c9" stroke="#1039c9"/>
<path d="M740.7,417.5L753.8,420.8L764.0,428.6L750.9,425.3Z" fill="#14ce4f" stroke="#14ce4f"/>
<path d="M856.7,473.8L869.2,477.3L879.7,485.3L867.2,481.7Z" fill="#10cea2" stroke="#10cea2"/>
<path d="M971.4,532.8L983.4,536.9L994.2,545.2L982.3,541.0Z" fill="#1369d1" stroke="#1369d1"/>
<path d="M553.4,329.7L567.2,332.7L576.9,340.4L563.0,337.3Z" fill="#b2e21f" stroke="#b2e21f"/>
<path d="M623.9,362.2L637.5,365.4L647.3,373.2L633.8,370.0Z" fill="#35d121" stroke="#35d121"/>
<path d="M670.7,384.2L684.1,387.5L694.1,395.3L680.7,392.0Z" fill="#21d026" stroke="#21d026"/>
<path d="M245.8,208.3L260.7,209.3L269.4,215.6L254.4,214.5Z" fill="#f91c18" stroke="#f91c18"/>
<path d="M293.1,223.4L307.9,224.9L316.8,231.6L301.9,230.0Z" fill="#f42710" stroke="#f42710"/>
<path d="M340.5,240.2L355.2,242.2L364.2,249.2L349.4,247.1Z" fill="#f05110" stroke="#f05110"/>
<path d="M364.2,249.2L378.8,251.3L387.9,258.4L373.2,256.2Z" fill="#f06810" stroke="#f06810"/>
<path d="M411.6,268.0L426.0,270.5L435.3,277.8L420.8,275.2Z" fill="#f09a16" stroke="#f09a16"/>
<path d="M435.3,277.8L449.6,280.4L458.9,287.8L444.6,285.1Z" fill="#f0b41b" stroke="#f0b41b"/>
<path d="M458.9,287.8L473.2,290.6L482.6,298.1L468.3,295.3Z" fill="#f0cc1e" stroke="#f0cc1e"/>
<path d="M482.6,298.1L496.7,300.9L506.2,308.5L492.0,305.6Z" fill="#f0df1e" stroke="#f0df1e"/>
<path d="M529.8,319.0L543.8,322.0L553.4,329.7L539.4,326.6Z" fill="#d8e71e" stroke="#d8e71e"/>
<path d="M600.4,351.3L614.1,354.5L623.9,362.2L610.2,359.0Z" fill="#51d420" stroke="#51d420"/>
<path d="M269.4,215.6L284.3,216.9L293.1,223.4L278.1,222.0Z" fill="#f62014" stroke="#f62014"/>
<path d="M316.8,231.6L331.5,233.4L340.5,240.2L325.7,238.3Z" fill="#f23c10" stroke="#f23c10"/>
<path d="M387.9,258.4L402.4,260.7L411.6,268.0L397.0,265.6Z" fill="#f08011" stroke="#f08011"/>
<path d="M506.2,308.5L520.3,311.4L529.8,319.0L515.7,316.0Z" fill="#eae61e" stroke="#eae61e"/>
<path d="M647.3,373.2L660.8,376.4L670.7,384.2L657.3,380.9Z" fill="#28d023" stroke="#28d023"/>
<path d="M717.4,406.3L730.6,409.6L740.7,417.5L727.6,414.1Z" fill="#18cf3f" stroke="#18cf3f"/>
<path d="M764.0,428.6L777.0,432.0L787.2,439.8L774.3,436.4Z" fill="#14cd5c" stroke="#14cd5c"/>
<path d="M787.2,439.8L800.1,443.2L810.4,451.1L797.6,447.6Z" fill="#14cd69" stroke="#14cd69"/>
<path d="M810.4,451.1L823.2,454.5L833.6,462.4L820.8,458.9Z" fill="#14cc76" stroke="#14cc76"/>
<path d="M833.6,462.4L846.2,465.9L856.7,473.8L844.0,470.2Z" fill="#12ce8a" stroke="#12ce8a"/>
<path d="M879.7,485.3L892.1,488.9L902.7,496.9L890.3,493.2Z" fill="#10cabe" stroke="#10cabe"/>
<path d="M902.7,496.9L915.0,500.6L925.7,508.6L913.4,504.9Z" fill="#10b8cc" stroke="#10b8cc"/>
<path d="M925.7,508.6L937.9,512.5L948.6,520.6L936.4,516.7Z" fill="#109ed2" stroke="#109ed2"/>
<path d="M948.6,520.6L960.7,524.5L971.4,532.8L959.4,528.7Z" fill="#1382d3" stroke="#1382d3"/>
<path d="M994.2,545.2L1006.1,549.5L1017.0,558.0L1005.1,553.6Z" fill="#1250cd" stroke="#1250cd"/>
<path d="M576.9,340.4L590.7,343.6L600.4,351.3L586.6,348.1Z" fill="#7fdb20" stroke="#7fdb20"/>
<path d="M694.1,395.3L707.4,398.5L717.4,406.3L704.2,403.0Z" fill="#1cd02f" stroke="#1cd02f"/>
<path d="M610.2,359.0L623.9,362.2L633.8,370.0L620.1,366.7Z" fill="#4cd420" stroke="#4cd420"/>
<path d="M444.6,285.1L458.9,287.8L468.3,295.3L453.9,292.5Z" fill="#f0b71b" stroke="#f0b71b"/>
<path d="M539.4,326.6L553.4,329.7L563.0,337.3L549.0,334.2Z" fill="#d5e71e" stroke="#d5e71e"/>
<path d="M657.3,380.9L670.7,384.2L680.7,392.0L667.3,388.7Z" fill="#27d024" stroke="#27d024"/>
<path d="M727.6,414.1L740.7,417.5L750.9,425.3L737.8,421.9Z" fill="#18cf41" stroke="#18cf41"/>
<path d="M750.9,425.3L764.0,428.6L774.3,436.4L761.2,433.1Z" fill="#14ce51" stroke="#14ce51"/>
<path d="M774.3,436.4L787.2,439.8L797.6,447.6L784.6,444.2Z" fill="#14cd5d" stroke="#14cd5d"/>
<path d="M820.8,458.9L833.6,462.4L844.0,470.2L831.3,466.7Z" fill="#14cc77" stroke="#14cc77"/>
<path d="M844.0,470.2L856.7,473.8L867.2,481.7L854.6,478.1Z" fill="#11cf8c" stroke="#11cf8c"/>
<path d="M867.2,481.7L879.7,485.3L890.3,493.2L877.8,489.5Z" fill="#10cea5" stroke="#10cea5"/>
<path d="M890.3,493.2L902.7,496.9L913.4,504.9L901.0,501.1Z" fill="#10c9c1" stroke="#10c9c1"/>
<path d="M936.4,516.7L948.6,520.6L959.4,528.7L947.2,524.7Z" fill="#109bd2" stroke="#109bd2"/>
<path d="M959.4,528.7L971.4,532.8L982.3,541.0L970.2,536.9Z" fill="#137fd4" stroke="#137fd4"/>
<path d="M982.3,541.0L994.2,545.2L1005.1,553.6L993.2,549.2Z" fill="#1366d1" stroke="#1366d1"/>
<path d="M278.1,222.0L293.1,223.4L301.9,230.0L286.9,228.4Z" fill="#f62014" stroke="#f62014"/>
<path d="M325.7,238.3L340.5,240.2L349.4,247.1L334.6,245.1Z" fill="#f23e10" stroke="#f23e10"/>
<path d="M254.4,214.5L269.4,215.6L278.1,222.0L263.1,220.7Z" fill="#f91c18" stroke="#f91c18"/>
<path d="M301.9,230.0L316.8,231.6L325.7,238.3L310.8,236.6Z" fill="#f42910" stroke="#f42910"/>
<path d="M349.4,247.1L364.2,249.2L373.2,256.2L358.5,254.0Z" fill="#f05310" stroke="#f05310"/>
<path d="M373.2,256.2L387.9,258.4L397.0,265.6L382.4,263.2Z" fill="#f06a10" stroke="#f06a10"/>
<path d="M397.0,265.6L411.6,268.0L420.8,275.2L406.2,272.7Z" fill="#f08312" stroke="#f08312"/>
<path d="M420.8,275.2L435.3,277.8L444.6,285.1L430.1,282.5Z" fill="#f09d17" stroke="#f09d17"/>
<path d="M468.3,295.3L482.6,298.1L492.0,305.6L477.7,302.7Z" fill="#f0ce1e" stroke="#f0ce1e"/>
<path d="M492.0,305.6L506.2,308.5L515.7,316.0L501.5,313.1Z" fill="#f0e11e" stroke="#f0e11e"/>
<path d="M515.7,316.0L529.8,319.0L539.4,326.6L525.3,323.6Z" fill="#eae71e" stroke="#eae71e"/>
<path d="M586.6,348.1L600.4,351.3L610.2,359.0L596.4,355.8Z" fill="#79da20" stroke="#79da20"/>
<path d="M704.2,403.0L717.4,406.3L727.6,414.1L714.3,410.8Z" fill="#1cd031" stroke="#1cd031"/>
<path d="M563.0,337.3L576.9,340.4L586.6,348.1L572.7,345.0Z" fill="#ade21f" stroke="#ade21f"/>
<path d="M633.8,370.0L647.3,373.2L657.3,380.9L643.7,377.7Z" fill="#33d121" stroke="#33d121"/>
<path d="M680.7,392.0L694.1,395.3L704.2,403.0L690.8,399.7Z" fill="#21d027" stroke="#21d027"/>
<path d="M797.6,447.6L810.4,451.1L820.8,458.9L808.0,455.5Z" fill="#14cd6a" stroke="#14cd6a"/>
<path d="M913.4,504.9L925.7,508.6L936.4,516.7L924.1,512.8Z" fill="#10b5cd" stroke="#10b5cd"/>
<path d="M761.2,433.1L774.3,436.4L784.6,444.2L771.6,440.8Z" fill="#14ce52" stroke="#14ce52"/>
<path d="M831.3,466.7L844.0,470.2L854.6,478.1L841.8,474.5Z" fill="#14cc78" stroke="#14cc78"/>
<path d="M877.8,489.5L890.3,493.2L901.0,501.1L888.5,497.4Z" fill="#10cda7" stroke="#10cda7"/>
<path d="M947.2,524.7L959.4,528.7L970.2,536.9L958.1,532.8Z" fill="#1199d2" stroke="#1199d2"/>
<path d="M596.4,355.8L610.2,359.0L620.1,366.7L606.3,363.5Z" fill="#72d920" stroke="#72d920"/>
<path d="M714.3,410.8L727.6,414.1L737.8,421.9L724.5,418.6Z" fill="#1bcf33" stroke="#1bcf33"/>
<path d="M263.1,220.7L278.1,222.0L286.9,228.4L271.8,227.0Z" fill="#f91c18" stroke="#f91c18"/>
<path d="M310.8,236.6L325.7,238.3L334.6,245.1L319.7,243.2Z" fill="#f32a10" stroke="#f32a10"/>
<path d="M382.4,263.2L397.0,265.6L406.2,272.7L391.5,270.3Z" fill="#f06c10" stroke="#f06c10"/>
<path d="M430.1,282.5L444.6,285.1L453.9,292.5L439.4,289.8Z" fill="#f0a017" stroke="#f0a017"/>
<path d="M453.9,292.5L468.3,295.3L477.7,302.7L463.3,299.8Z" fill="#f0ba1c" stroke="#f0ba1c"/>
<path d="M501.5,313.1L515.7,316.0L525.3,323.6L511.1,320.6Z" fill="#efe21e" stroke="#efe21e"/>
<path d="M525.3,323.6L539.4,326.6L549.0,334.2L534.9,331.1Z" fill="#e9e71e" stroke="#e9e71e"/>
<path d="M572.7,345.0L586.6,348.1L596.4,355.8L582.5,352.6Z" fill="#a8e120" stroke="#a8e120"/>
<path d="M643.7,377.7L657.3,380.9L667.3,388.7L653.7,385.4Z" fill="#31d121" stroke="#31d121"/>
<path d="M690.8,399.7L704.2,403.0L714.3,410.8L700.9,407.5Z" fill="#20d027" stroke="#20d027"/>
<path d="M286.9,228.4L301.9,230.0L310.8,236.6L295.8,234.9Z" fill="#f62113" stroke="#f62113"/>
<path d="M334.6,245.1L349.4,247.1L358.5,254.0L343.6,251.9Z" fill="#f13f10" stroke="#f13f10"/>
<path d="M358.5,254.0L373.2,256.2L382.4,263.2L367.6,260.9Z" fill="#f05510" stroke="#f05510"/>
<path d="M406.2,272.7L420.8,275.2L430.1,282.5L415.5,279.9Z" fill="#f08512" stroke="#f08512"/>
<path d="M477.7,302.7L492.0,305.6L501.5,313.1L487.2,310.1Z" fill="#f0d11e" stroke="#f0d11e"/>
<path d="M620.1,366.7L633.8,370.0L643.7,377.7L630.0,374.4Z" fill="#47d320" stroke="#47d320"/>
<path d="M549.0,334.2L563.0,337.3L572.7,345.0L558.7,341.8Z" fill="#d2e61e" stroke="#d2e61e"/>
<path d="M667.3,388.7L680.7,392.0L690.8,399.7L677.3,396.4Z" fill="#26d024" stroke="#26d024"/>
<path d="M737.8,421.9L750.9,425.3L761.2,433.1L748.1,429.7Z" fill="#17cf42" stroke="#17cf42"/>
<path d="M784.6,444.2L797.6,447.6L808.0,455.5L795.0,452.0Z" fill="#14cd5e" stroke="#14cd5e"/>
<path d="M808.0,455.5L820.8,458.9L831.3,466.7L818.4,463.2Z" fill="#14cd6b" stroke="#14cd6b"/>
<path d="M854.6,478.1L867.2,481.7L877.8,489.5L865.2,485.9Z" fill="#11cf8e" stroke="#11cf8e"/>
<path d="M901.0,501.1L913.4,504.9L924.1,512.8L911.7,509.0Z" fill="#10c9c3" stroke="#10c9c3"/>
<path d="M924.1,512.8L936.4,516.7L947.2,524.7L934.9,520.8Z" fill="#10b3cd" stroke="#10b3cd"/>
<path d="M970.2,536.9L982.3,541.0L993.2,549.2L981.2,545.0Z" fill="#147dd4" stroke="#147dd4"/>
<path d="M582.5,352.6L596.4,355.8L606.3,363.5L592.4,360.3Z" fill="#a3e020" stroke="#a3e020"/>
<path d="M700.9,407.5L714.3,410.8L724.5,418.6L711.1,415.2Z" fill="#1fd027" stroke="#1fd027"/>
<path d="M511.1,320.6L525.3,323.6L534.9,331.1L520.7,328.1Z" fill="#eee21e" stroke="#eee21e"/>
<path d="M630.0,374.4L643.7,377.7L653.7,385.4L640.0,382.1Z" fill="#43d220" stroke="#43d220"/>
<path d="M295.8,234.9L310.8,236.6L319.7,243.2L304.7,241.4Z" fill="#f62113" stroke="#f62113"/>
<path d="M271.8,227.0L286.9,228.4L295.8,234.9L280.7,233.3Z" fill="#f91c18" stroke="#f91c18"/>
<path d="M319.7,243.2L334.6,245.1L343.6,251.9L328.7,249.9Z" fill="#f32b10" stroke="#f32b10"/>
<path d="M343.6,251.9L358.5,254.0L367.6,260.9L352.7,258.7Z" fill="#f14110" stroke="#f14110"/>
<path d="M367.6,260.9L382.4,263.2L391.5,270.3L376.8,267.9Z" fill="#f05710" stroke="#f05710"/>
<path d="M391.5,270.3L406.2,272.7L415.5,279.9L400.8,277.3Z" fill="#f06f10" stroke="#f06f10"/>
<path d="M415.5,279.9L430.1,282.5L439.4,289.8L424.8,287.1Z" fill="#f08813" stroke="#f08813"/>
<path d="M439.4,289.8L453.9,292.5L463.3,299.8L448.8,297.0Z" fill="#f0a318" stroke="#f0a318"/>
<path d="M463.3,299.8L477.7,302.7L487.2,310.1L472.8,307.2Z" fill="#f0bd1c" stroke="#f0bd1c"/>
<path d="M487.2,310.1L501.5,313.1L511.1,320.6L496.8,317.6Z" fill="#f0d31e" stroke="#f0d31e"/>
<path d="M558.7,341.8L572.7,345.0L582.5,352.6L568.5,349.4Z" fill="#cfe61e" stroke="#cfe61e"/>
<path d="M677.3,396.4L690.8,399.7L700.9,407.5L687.4,404.1Z" fill="#26d024" stroke="#26d024"/>
<path d="M748.1,429.7L761.2,433.1L771.6,440.8L758.4,437.4Z" fill="#17cf44" stroke="#17cf44"/>
<path d="M771.6,440.8L784.6,444.2L795.0,452.0L782.0,448.6Z" fill="#14ce53" stroke="#14ce53"/>
<path d="M795.0,452.0L808.0,455.5L818.4,463.2L805.5,459.8Z" fill="#14cd60" stroke="#14cd60"/>
<path d="M818.4,463.2L831.3,466.7L841.8,474.5L829.0,471.0Z" fill="#14cd6c" stroke="#14cd6c"/>
<path d="M841.8,474.5L854.6,478.1L865.2,485.9L852.4,482.3Z" fill="#14cc7a" stroke="#14cc7a"/>
<path d="M865.2,485.9L877.8,489.5L888.5,497.4L875.9,493.7Z" fill="#11cf8f" stroke="#11cf8f"/>
<path d="M888.5,497.4L901.0,501.1L911.7,509.0L899.2,505.3Z" fill="#10cda9" stroke="#10cda9"/>
<path d="M911.7,509.0L924.1,512.8L934.9,520.8L922.5,516.9Z" fill="#10c8c5" stroke="#10c8c5"/>
<path d="M934.9,520.8L947.2,524.7L958.1,532.8L945.8,528.8Z" fill="#10b1ce" stroke="#10b1ce"/>
<path d="M958.1,532.8L970.2,536.9L981.2,545.0L969.0,540.8Z" fill="#1197d2" stroke="#1197d2"/>
<path d="M606.3,363.5L620.1,366.7L630.0,374.4L616.2,371.2Z" fill="#6cd820" stroke="#6cd820"/>
<path d="M724.5,418.6L737.8,421.9L748.1,429.7L734.8,426.3Z" fill="#1bcf34" stroke="#1bcf34"/>
<path d="M534.9,331.1L549.0,334.2L558.7,341.8L544.6,338.7Z" fill="#e8e81e" stroke="#e8e81e"/>
<path d="M653.7,385.4L667.3,388.7L677.3,396.4L663.7,393.1Z" fill="#2fd022" stroke="#2fd022"/>
<path d="M568.5,349.4L582.5,352.6L592.4,360.3L578.4,357.0Z" fill="#cbe61e" stroke="#cbe61e"/>
<path d="M687.4,404.1L700.9,407.5L711.1,415.2L697.6,411.8Z" fill="#25d025" stroke="#25d025"/>
<path d="M782.0,448.6L795.0,452.0L805.5,459.8L792.4,456.3Z" fill="#14ce54" stroke="#14ce54"/>
<path d="M805.5,459.8L818.4,463.2L829.0,471.0L816.0,467.5Z" fill="#14cd61" stroke="#14cd61"/>
<path d="M852.4,482.3L865.2,485.9L875.9,493.7L863.1,490.1Z" fill="#14cc7b" stroke="#14cc7b"/>
<path d="M899.2,505.3L911.7,509.0L922.5,516.9L910.1,513.1Z" fill="#10cdab" stroke="#10cdab"/>
<path d="M922.5,516.9L934.9,520.8L945.8,528.8L933.4,524.8Z" fill="#10c8c7" stroke="#10c8c7"/>
<path d="M280.7,233.3L295.8,234.9L304.7,241.4L289.5,239.7Z" fill="#f91c18" stroke="#f91c18"/>
<path d="M400.8,277.3L415.5,279.9L424.8,287.1L410.1,284.4Z" fill="#f07110" stroke="#f07110"/>
<path d="M472.8,307.2L487.2,310.1L496.8,317.6L482.3,314.6Z" fill="#f0bf1c" stroke="#f0bf1c"/>
<path d="M496.8,317.6L511.1,320.6L520.7,328.1L506.4,325.0Z" fill="#f0d51e" stroke="#f0d51e"/>
<path d="M616.2,371.2L630.0,374.4L640.0,382.1L626.2,378.8Z" fill="#67d820" stroke="#67d820"/>
<path d="M734.8,426.3L748.1,429.7L758.4,437.4L745.1,434.0Z" fill="#1bcf36" stroke="#1bcf36"/>
<path d="M304.7,241.4L319.7,243.2L328.7,249.9L313.6,247.9Z" fill="#f62113" stroke="#f62113"/>
<path d="M328.7,249.9L343.6,251.9L352.7,258.7L337.7,256.6Z" fill="#f32c10" stroke="#f32c10"/>
<path d="M352.7,258.7L367.6,260.9L376.8,267.9L361.9,265.6Z" fill="#f14210" stroke="#f14210"/>
<path d="M376.8,267.9L391.5,270.3L400.8,277.3L386.0,274.9Z" fill="#f05910" stroke="#f05910"/>
<path d="M424.8,287.1L439.4,289.8L448.8,297.0L434.2,294.3Z" fill="#f08a13" stroke="#f08a13"/>
<path d="M448.8,297.0L463.3,299.8L472.8,307.2L458.3,304.4Z" fill="#f0a518" stroke="#f0a518"/>
<path d="M544.6,338.7L558.7,341.8L568.5,349.4L554.4,346.3Z" fill="#e6e81e" stroke="#e6e81e"/>
<path d="M592.4,360.3L606.3,363.5L616.2,371.2L602.3,367.9Z" fill="#9ee020" stroke="#9ee020"/>
<path d="M663.7,393.1L677.3,396.4L687.4,404.1L673.9,400.8Z" fill="#2dd022" stroke="#2dd022"/>
<path d="M711.1,415.2L724.5,418.6L734.8,426.3L721.4,422.9Z" fill="#1fd028" stroke="#1fd028"/>
<path d="M520.7,328.1L534.9,331.1L544.6,338.7L530.4,335.6Z" fill="#eee31e" stroke="#eee31e"/>
<path d="M640.0,382.1L653.7,385.4L663.7,393.1L650.0,389.8Z" fill="#40d220" stroke="#40d220"/>
<path d="M758.4,437.4L771.6,440.8L782.0,448.6L768.8,445.1Z" fill="#17cf45" stroke="#17cf45"/>
<path d="M829.0,471.0L841.8,474.5L852.4,482.3L839.6,478.7Z" fill="#14cd6d" stroke="#14cd6d"/>
<path d="M875.9,493.7L888.5,497.4L899.2,505.3L886.6,501.5Z" fill="#11cf91" stroke="#11cf91"/>
<path d="M945.8,528.8L958.1,532.8L969.0,540.8L956.8,536.7Z" fill="#10afce" stroke="#10afce"/>
<path d="M792.4,456.3L805.5,459.8L816.0,467.5L803.0,464.0Z" fill="#14ce55" stroke="#14ce55"/>
<path d="M910.1,513.1L922.5,516.9L933.4,524.8L921.0,520.9Z" fill="#10ccad" stroke="#10ccad"/>
<path d="M482.3,314.6L496.8,317.6L506.4,325.0L492.0,322.0Z" fill="#f0c21d" stroke="#f0c21d"/>
<path d="M554.4,346.3L568.5,349.4L578.4,357.0L564.2,353.8Z" fill="#e4e81e" stroke="#e4e81e"/>
<path d="M602.3,367.9L616.2,371.2L626.2,378.8L612.3,375.5Z" fill="#99df20" stroke="#99df20"/>
<path d="M673.9,400.8L687.4,404.1L697.6,411.8L684.0,408.5Z" fill="#2cd022" stroke="#2cd022"/>
<path d="M721.4,422.9L734.8,426.3L745.1,434.0L731.7,430.6Z" fill="#1ed028" stroke="#1ed028"/>
<path d="M289.5,239.7L304.7,241.4L313.6,247.9L298.5,246.1Z" fill="#f91c18" stroke="#f91c18"/>
<path d="M337.7,256.6L352.7,258.7L361.9,265.6L346.9,263.3Z" fill="#f32d10" stroke="#f32d10"/>
<path d="M386.0,274.9L400.8,277.3L410.1,284.4L395.3,281.9Z" fill="#f05b10" stroke="#f05b10"/>
<path d="M410.1,284.4L424.8,287.1L434.2,294.3L419.5,291.6Z" fill="#f07310" stroke="#f07310"/>
<path d="M458.3,304.4L472.8,307.2L482.3,314.6L467.8,311.7Z" fill="#f0a818" stroke="#f0a818"/>
<path d="M530.4,335.6L544.6,338.7L554.4,346.3L540.2,343.1Z" fill="#ede31e" stroke="#ede31e"/>
<path d="M650.0,389.8L663.7,393.1L673.9,400.8L660.1,397.4Z" fill="#3ed220" stroke="#3ed220"/>
<path d="M313.6,247.9L328.7,249.9L337.7,256.6L322.7,254.5Z" fill="#f62113" stroke="#f62113"/>
<path d="M361.9,265.6L376.8,267.9L386.0,274.9L371.1,272.4Z" fill="#f14310" stroke="#f14310"/>
<path d="M434.2,294.3L448.8,297.0L458.3,304.4L443.6,301.5Z" fill="#f08d14" stroke="#f08d14"/>
<path d="M578.4,357.0L592.4,360.3L602.3,367.9L588.3,364.6Z" fill="#c7e51e" stroke="#c7e51e"/>
<path d="M697.6,411.8L711.1,415.2L721.4,422.9L707.9,419.5Z" fill="#24d025" stroke="#24d025"/>
<path d="M768.8,445.1L782.0,448.6L792.4,456.3L779.3,452.8Z" fill="#16ce46" stroke="#16ce46"/>
<path d="M816.0,467.5L829.0,471.0L839.6,478.7L826.7,475.2Z" fill="#14cd61" stroke="#14cd61"/>
<path d="M839.6,478.7L852.4,482.3L863.1,490.1L850.3,486.5Z" fill="#14cc6e" stroke="#14cc6e"/>
<path d="M863.1,490.1L875.9,493.7L886.6,501.5L873.9,497.8Z" fill="#13cd7d" stroke="#13cd7d"/>
<path d="M886.6,501.5L899.2,505.3L910.1,513.1L897.5,509.3Z" fill="#10d092" stroke="#10d092"/>
<path d="M933.4,524.8L945.8,528.8L956.8,536.7L944.4,532.7Z" fill="#10c7c8" stroke="#10c7c8"/>
<path d="M506.4,325.0L520.7,328.1L530.4,335.6L516.1,332.5Z" fill="#f0d61e" stroke="#f0d61e"/>
<path d="M626.2,378.8L640.0,382.1L650.0,389.8L636.2,386.5Z" fill="#64d720" stroke="#64d720"/>
<path d="M745.1,434.0L758.4,437.4L768.8,445.1L755.5,441.7Z" fill="#1acf37" stroke="#1acf37"/>
<path d="M540.2,343.1L554.4,346.3L564.2,353.8L550.0,350.6Z" fill="#ede41e" stroke="#ede41e"/>
<path d="M660.1,397.4L673.9,400.8L684.0,408.5L670.3,405.1Z" fill="#3dd220" stroke="#3dd220"/>
<path d="M322.7,254.5L337.7,256.6L346.9,263.3L331.8,261.1Z" fill="#f62113" stroke="#f62113"/>
<path d="M371.1,272.4L386.0,274.9L395.3,281.9L380.3,279.4Z" fill="#f14510" stroke="#f14510"/>
<path d="M467.8,311.7L482.3,314.6L492.0,322.0L477.4,319.0Z" fill="#f0aa19" stroke="#f0aa19"/>
<path d="M588.3,364.6L602.3,367.9L612.3,375.5L598.2,372.2Z" fill="#c3e51e" stroke="#c3e51e"/>
<path d="M707.9,419.5L721.4,422.9L731.7,430.6L718.2,427.2Z" fill="#24d025" stroke="#24d025"/>
<path d="M779.3,452.8L792.4,456.3L803.0,464.0L789.8,460.5Z" fill="#16ce48" stroke="#16ce48"/>
<path d="M803.0,464.0L816.0,467.5L826.7,475.2L813.6,471.7Z" fill="#14ce56" stroke="#14ce56"/>
<path d="M826.7,475.2L839.6,478.7L850.3,486.5L837.4,482.9Z" fill="#14cd62" stroke="#14cd62"/>
<path d="M873.9,497.8L886.6,501.5L897.5,509.3L884.7,505.6Z" fill="#13cd7e" stroke="#13cd7e"/>
<path d="M897.5,509.3L910.1,513.1L921.0,520.9L908.4,517.1Z" fill="#10d094" stroke="#10d094"/>
<path d="M921.0,520.9L933.4,524.8L944.4,532.7L931.9,528.7Z" fill="#10ccaf" stroke="#10ccaf"/>
<path d="M298.5,246.1L313.6,247.9L322.7,254.5L307.5,252.6Z" fill="#f91c18" stroke="#f91c18"/>
<path d="M346.9,263.3L361.9,265.6L371.1,272.4L356.0,270.1Z" fill="#f32e10" stroke="#f32e10"/>
<path d="M395.3,281.9L410.1,284.4L419.5,291.6L404.6,288.9Z" fill="#f05c10" stroke="#f05c10"/>
<path d="M419.5,291.6L434.2,294.3L443.6,301.5L428.9,298.7Z" fill="#f07410" stroke="#f07410"/>
<path d="M443.6,301.5L458.3,304.4L467.8,311.7L453.2,308.8Z" fill="#f08f14" stroke="#f08f14"/>
<path d="M516.1,332.5L530.4,335.6L540.2,343.1L525.8,340.0Z" fill="#f0d81e" stroke="#f0d81e"/>
<path d="M636.2,386.5L650.0,389.8L660.1,397.4L646.3,394.1Z" fill="#60d720" stroke="#60d720"/>
<path d="M755.5,441.7L768.8,445.1L779.3,452.8L766.0,449.3Z" fill="#1acf38" stroke="#1acf38"/>
<path d="M492.0,322.0L506.4,325.0L516.1,332.5L501.6,329.4Z" fill="#f0c41d" stroke="#f0c41d"/>
<path d="M564.2,353.8L578.4,357.0L588.3,364.6L574.1,361.4Z" fill="#e1e81e" stroke="#e1e81e"/>
<path d="M612.3,375.5L626.2,378.8L636.2,386.5L622.3,383.1Z" fill="#94de20" stroke="#94de20"/>
<path d="M684.0,408.5L697.6,411.8L707.9,419.5L694.3,416.1Z" fill="#2ad022" stroke="#2ad022"/>
<path d="M731.7,430.6L745.1,434.0L755.5,441.7L742.1,438.2Z" fill="#1ed028" stroke="#1ed028"/>
<path d="M850.3,486.5L863.1,490.1L873.9,497.8L861.1,494.2Z" fill="#14cc6f" stroke="#14cc6f"/>
<path d="M813.6,471.7L826.7,475.2L837.4,482.9L824.3,479.3Z" fill="#14ce56" stroke="#14ce56"/>
<path d="M884.7,505.6L897.5,509.3L908.4,517.1L895.7,513.3Z" fill="#13cd7f" stroke="#13cd7f"/>
<path d="M525.8,340.0L540.2,343.1L550.0,350.6L535.6,347.4Z" fill="#f0da1e" stroke="#f0da1e"/>
<path d="M646.3,394.1L660.1,397.4L670.3,405.1L656.5,401.7Z" fill="#5dd620" stroke="#5dd620"/>
<path d="M766.0,449.3L779.3,452.8L789.8,460.5L776.6,457.0Z" fill="#1acf39" stroke="#1acf39"/>
<path d="M307.5,252.6L322.7,254.5L331.8,261.1L316.5,259.1Z" fill="#f91c18" stroke="#f91c18"/>
<path d="M331.8,261.1L346.9,263.3L356.0,270.1L340.9,267.8Z" fill="#f62113" stroke="#f62113"/>
<path d="M356.0,270.1L371.1,272.4L380.3,279.4L365.3,276.9Z" fill="#f32f10" stroke="#f32f10"/>
<path d="M380.3,279.4L395.3,281.9L404.6,288.9L389.7,286.3Z" fill="#f14610" stroke="#f14610"/>
<path d="M428.9,298.7L443.6,301.5L453.2,308.8L438.4,305.9Z" fill="#f07610" stroke="#f07610"/>
<path d="M453.2,308.8L467.8,311.7L477.4,319.0L462.7,316.0Z" fill="#f09114" stroke="#f09114"/>
<path d="M501.6,329.4L516.1,332.5L525.8,340.0L511.4,336.8Z" fill="#f0c61e" stroke="#f0c61e"/>
<path d="M574.1,361.4L588.3,364.6L598.2,372.2L584.1,369.0Z" fill="#dfe71e" stroke="#dfe71e"/>
<path d="M622.3,383.1L636.2,386.5L646.3,394.1L632.4,390.8Z" fill="#8fde20" stroke="#8fde20"/>
<path d="M694.3,416.1L707.9,419.5L718.2,427.2L704.6,423.8Z" fill="#2ad022" stroke="#2ad022"/>
<path d="M742.1,438.2L755.5,441.7L766.0,449.3L752.6,445.9Z" fill="#1ed02a" stroke="#1ed02a"/>
<path d="M404.6,288.9L419.5,291.6L428.9,298.7L414.0,296.0Z" fill="#f05e10" stroke="#f05e10"/>
<path d="M550.0,350.6L564.2,353.8L574.1,361.4L559.9,358.1Z" fill="#ece41e" stroke="#ece41e"/>
<path d="M670.3,405.1L684.0,408.5L694.3,416.1L680.6,412.7Z" fill="#3bd220" stroke="#3bd220"/>
<path d="M477.4,319.0L492.0,322.0L501.6,329.4L487.1,326.3Z" fill="#f0ac19" stroke="#f0ac19"/>
<path d="M598.2,372.2L612.3,375.5L622.3,383.1L608.3,379.8Z" fill="#bfe41f" stroke="#bfe41f"/>
<path d="M718.2,427.2L731.7,430.6L742.1,438.2L728.6,434.8Z" fill="#24d025" stroke="#24d025"/>
<path d="M789.8,460.5L803.0,464.0L813.6,471.7L800.5,468.1Z" fill="#16ce48" stroke="#16ce48"/>
<path d="M837.4,482.9L850.3,486.5L861.1,494.2L848.1,490.5Z" fill="#14cd63" stroke="#14cd63"/>
<path d="M861.1,494.2L873.9,497.8L884.7,505.6L871.9,501.9Z" fill="#14cc70" stroke="#14cc70"/>
<path d="M908.4,517.1L921.0,520.9L931.9,528.7L919.3,524.8Z" fill="#10d095" stroke="#10d095"/>
<path d="M511.4,336.8L525.8,340.0L535.6,347.4L521.2,344.3Z" fill="#f0c81e" stroke="#f0c81e"/>
<path d="M632.4,390.8L646.3,394.1L656.5,401.7L642.6,398.4Z" fill="#8bdd20" stroke="#8bdd20"/>
<path d="M752.6,445.9L766.0,449.3L776.6,457.0L763.2,453.5Z" fill="#1dd02a" stroke="#1dd02a"/>
<path d="M438.4,305.9L453.2,308.8L462.7,316.0L448.0,313.1Z" fill="#f07810" stroke="#f07810"/>
<path d="M559.9,358.1L574.1,361.4L584.1,369.0L569.8,365.7Z" fill="#ece51e" stroke="#ece51e"/>
<path d="M680.6,412.7L694.3,416.1L704.6,423.8L690.9,420.4Z" fill="#3ad121" stroke="#3ad121"/>
<path d="M316.5,259.1L331.8,261.1L340.9,267.8L325.7,265.6Z" fill="#f81d17" stroke="#f81d17"/>
<path d="M340.9,267.8L356.0,270.1L365.3,276.9L350.1,274.5Z" fill="#f52212" stroke="#f52212"/>
<path d="M365.3,276.9L380.3,279.4L389.7,286.3L374.6,283.7Z" fill="#f33010" stroke="#f33010"/>
<path d="M389.7,286.3L404.6,288.9L414.0,296.0L399.1,293.3Z" fill="#f14710" stroke="#f14710"/>
<path d="M414.0,296.0L428.9,298.7L438.4,305.9L423.5,303.1Z" fill="#f05f10" stroke="#f05f10"/>
<path d="M487.1,326.3L501.6,329.4L511.4,336.8L496.8,333.7Z" fill="#f0ae1a" stroke="#f0ae1a"/>
<path d="M608.3,379.8L622.3,383.1L632.4,390.8L618.4,387.4Z" fill="#bbe41f" stroke="#bbe41f"/>
<path d="M728.6,434.8L742.1,438.2L752.6,445.9L739.1,442.5Z" fill="#23d025" stroke="#23d025"/>
<path d="M800.5,468.1L813.6,471.7L824.3,479.3L811.2,475.8Z" fill="#16ce49" stroke="#16ce49"/>
<path d="M824.3,479.3L837.4,482.9L848.1,490.5L835.1,487.0Z" fill="#14ce57" stroke="#14ce57"/>
<path d="M848.1,490.5L861.1,494.2L871.9,501.9L859.0,498.2Z" fill="#14cd64" stroke="#14cd64"/>
<path d="M871.9,501.9L884.7,505.6L895.7,513.3L882.8,509.5Z" fill="#14cc70" stroke="#14cc70"/>
<path d="M895.7,513.3L908.4,517.1L919.3,524.8L906.7,520.9Z" fill="#13cd80" stroke="#13cd80"/>
<path d="M535.6,347.4L550.0,350.6L559.9,358.1L545.5,354.9Z" fill="#f0db1e" stroke="#f0db1e"/>
<path d="M656.5,401.7L670.3,405.1L680.6,412.7L666.8,409.4Z" fill="#5ad620" stroke="#5ad620"/>
<path d="M776.6,457.0L789.8,460.5L800.5,468.1L787.2,464.6Z" fill="#1acf3a" stroke="#1acf3a"/>
<path d="M462.7,316.0L477.4,319.0L487.1,326.3L472.4,323.3Z" fill="#f09315" stroke="#f09315"/>
<path d="M584.1,369.0L598.2,372.2L608.3,379.8L594.1,376.5Z" fill="#dde71e" stroke="#dde71e"/>
<path d="M704.6,423.8L718.2,427.2L728.6,434.8L715.0,431.4Z" fill="#29d022" stroke="#29d022"/>
<path d="M496.8,333.7L511.4,336.8L521.2,344.3L506.6,341.1Z" fill="#f0b01a" stroke="#f0b01a"/>
<path d="M618.4,387.4L632.4,390.8L642.6,398.4L628.5,395.0Z" fill="#b8e31f" stroke="#b8e31f"/>
<path d="M739.1,442.5L752.6,445.9L763.2,453.5L749.7,450.1Z" fill="#23d026" stroke="#23d026"/>
<path d="M835.1,487.0L848.1,490.5L859.0,498.2L845.9,494.6Z" fill="#14ce58" stroke="#14ce58"/>
<path d="M859.0,498.2L871.9,501.9L882.8,509.5L869.9,505.8Z" fill="#14cd64" stroke="#14cd64"/>
<path d="M325.7,265.6L340.9,267.8L350.1,274.5L334.9,272.2Z" fill="#f81d17" stroke="#f81d17"/>
<path d="M423.5,303.1L438.4,305.9L448.0,313.1L433.1,310.2Z" fill="#f06110" stroke="#f06110"/>
<path d="M545.5,354.9L559.9,358.1L569.8,365.7L555.4,362.4Z" fill="#f0dd1e" stroke="#f0dd1e"/>
<path d="M666.8,409.4L680.6,412.7L690.9,420.4L677.1,417.0Z" fill="#57d520" stroke="#57d520"/>
<path d="M787.2,464.6L800.5,468.1L811.2,475.8L797.9,472.3Z" fill="#19cf3b" stroke="#19cf3b"/>
<path d="M350.1,274.5L365.3,276.9L374.6,283.7L359.4,281.3Z" fill="#f52212" stroke="#f52212"/>
<path d="M374.6,283.7L389.7,286.3L399.1,293.3L384.0,290.6Z" fill="#f33110" stroke="#f33110"/>
<path d="M399.1,293.3L414.0,296.0L423.5,303.1L408.5,300.3Z" fill="#f14810" stroke="#f14810"/>
<path d="M472.4,323.3L487.1,326.3L496.8,333.7L482.1,330.6Z" fill="#f09515" stroke="#f09515"/>
<path d="M521.2,344.3L535.6,347.4L545.5,354.9L531.0,351.7Z" fill="#f0ca1e" stroke="#f0ca1e"/>
<path d="M594.1,376.5L608.3,379.8L618.4,387.4L604.2,384.1Z" fill="#dbe71e" stroke="#dbe71e"/>
<path d="M642.6,398.4L656.5,401.7L666.8,409.4L652.8,406.0Z" fill="#87dc20" stroke="#87dc20"/>
<path d="M715.0,431.4L728.6,434.8L739.1,442.5L725.5,439.0Z" fill="#29d023" stroke="#29d023"/>
<path d="M763.2,453.5L776.6,457.0L787.2,464.6L773.8,461.1Z" fill="#1dd02b" stroke="#1dd02b"/>
<path d="M448.0,313.1L462.7,316.0L472.4,323.3L457.6,320.3Z" fill="#f07a10" stroke="#f07a10"/>
<path d="M569.8,365.7L584.1,369.0L594.1,376.5L579.8,373.2Z" fill="#ebe51e" stroke="#ebe51e"/>
<path d="M690.9,420.4L704.6,423.8L715.0,431.4L701.3,428.0Z" fill="#39d121" stroke="#39d121"/>
<path d="M811.2,475.8L824.3,479.3L835.1,487.0L821.9,483.4Z" fill="#15ce4a" stroke="#15ce4a"/>
<path d="M882.8,509.5L895.7,513.3L906.7,520.9L893.8,517.2Z" fill="#14cc71" stroke="#14cc71"/>
<path d="M845.9,494.6L859.0,498.2L869.9,505.8L856.9,502.2Z" fill="#14ce58" stroke="#14ce58"/>
<path d="M408.5,300.3L423.5,303.1L433.1,310.2L418.0,307.3Z" fill="#f04910" stroke="#f04910"/>
<path d="M482.1,330.6L496.8,333.7L506.6,341.1L491.9,337.9Z" fill="#f09715" stroke="#f09715"/>
<path d="M531.0,351.7L545.5,354.9L555.4,362.4L540.9,359.1Z" fill="#f0cb1e" stroke="#f0cb1e"/>
<path d="M604.2,384.1L618.4,387.4L628.5,395.0L614.4,391.6Z" fill="#d9e71e" stroke="#d9e71e"/>
<path d="M652.8,406.0L666.8,409.4L677.1,417.0L663.1,413.6Z" fill="#84dc20" stroke="#84dc20"/>
<path d="M725.5,439.0L739.1,442.5L749.7,450.1L736.1,446.6Z" fill="#28d023" stroke="#28d023"/>
<path d="M773.8,461.1L787.2,464.6L797.9,472.3L784.5,468.7Z" fill="#1dd02c" stroke="#1dd02c"/>
<path d="M334.9,272.2L350.1,274.5L359.4,281.3L344.1,278.8Z" fill="#f81d17" stroke="#f81d17"/>
<path d="M384.0,290.6L399.1,293.3L408.5,300.3L393.4,297.6Z" fill="#f33210" stroke="#f33210"/>
<path d="M457.6,320.3L472.4,323.3L482.1,330.6L467.3,327.6Z" fill="#f07b11" stroke="#f07b11"/>
<path d="M579.8,373.2L594.1,376.5L604.2,384.1L589.9,380.7Z" fill="#ebe61e" stroke="#ebe61e"/>
<path d="M701.3,428.0L715.0,431.4L725.5,439.0L711.8,435.6Z" fill="#38d121" stroke="#38d121"/>
<path d="M359.4,281.3L374.6,283.7L384.0,290.6L368.8,288.0Z" fill="#f52212" stroke="#f52212"/>
<path d="M506.6,341.1L521.2,344.3L531.0,351.7L516.4,348.5Z" fill="#f0b21a" stroke="#f0b21a"/>
<path d="M628.5,395.0L642.6,398.4L652.8,406.0L638.8,402.6Z" fill="#b5e31f" stroke="#b5e31f"/>
<path d="M749.7,450.1L763.2,453.5L773.8,461.1L760.3,457.7Z" fill="#22d026" stroke="#22d026"/>
<path d="M821.9,483.4L835.1,487.0L845.9,494.6L832.8,491.0Z" fill="#15ce4b" stroke="#15ce4b"/>
<path d="M869.9,505.8L882.8,509.5L893.8,517.2L880.9,513.4Z" fill="#14cd64" stroke="#14cd64"/>
<path d="M433.1,310.2L448.0,313.1L457.6,320.3L442.7,317.3Z" fill="#f06210" stroke="#f06210"/>
<path d="M555.4,362.4L569.8,365.7L579.8,373.2L565.4,369.9Z" fill="#f0de1e" stroke="#f0de1e"/>
<path d="M677.1,417.0L690.9,420.4L701.3,428.0L687.5,424.6Z" fill="#55d520" stroke="#55d520"/>
<path d="M797.9,472.3L811.2,475.8L821.9,483.4L808.7,479.8Z" fill="#19cf3b" stroke="#19cf3b"/>
<path d="M467.3,327.6L482.1,330.6L491.9,337.9L477.0,334.8Z" fill="#f07d11" stroke="#f07d11"/>
<path d="M589.9,380.7L604.2,384.1L614.4,391.6L600.1,388.3Z" fill="#eae61e" stroke="#eae61e"/>
<path d="M711.8,435.6L725.5,439.0L736.1,446.6L722.3,443.2Z" fill="#37d121" stroke="#37d121"/>
<path d="M368.8,288.0L384.0,290.6L393.4,297.6L378.2,294.9Z" fill="#f52212" stroke="#f52212"/>
<path d="M393.4,297.6L408.5,300.3L418.0,307.3L402.9,304.5Z" fill="#f33310" stroke="#f33310"/>
<path d="M516.4,348.5L531.0,351.7L540.9,359.1L526.3,355.9Z" fill="#f0b31a" stroke="#f0b31a"/>
<path d="M638.8,402.6L652.8,406.0L663.1,413.6L649.1,410.2Z" fill="#b3e21f" stroke="#b3e21f"/>
<path d="M760.3,457.7L773.8,461.1L784.5,468.7L771.0,465.3Z" fill="#22d026" stroke="#22d026"/>
<path d="M832.8,491.0L845.9,494.6L856.9,502.2L843.7,498.6Z" fill="#15ce4b" stroke="#15ce4b"/>
<path d="M856.9,502.2L869.9,505.8L880.9,513.4L867.9,509.7Z" fill="#14ce58" stroke="#14ce58"/>
<path d="M344.1,278.8L359.4,281.3L368.8,288.0L353.4,285.5Z" fill="#f81d17" stroke="#f81d17"/>
<path d="M442.7,317.3L457.6,320.3L467.3,327.6L452.3,324.5Z" fill="#f06310" stroke="#f06310"/>
<path d="M565.4,369.9L579.8,373.2L589.9,380.7L575.5,377.4Z" fill="#f0df1e" stroke="#f0df1e"/>
<path d="M687.5,424.6L701.3,428.0L711.8,435.6L697.9,432.2Z" fill="#53d520" stroke="#53d520"/>
<path d="M808.7,479.8L821.9,483.4L832.8,491.0L819.5,487.4Z" fill="#19cf3c" stroke="#19cf3c"/>
<path d="M418.0,307.3L433.1,310.2L442.7,317.3L427.6,314.4Z" fill="#f04b10" stroke="#f04b10"/>
<path d="M491.9,337.9L506.6,341.1L516.4,348.5L501.7,345.3Z" fill="#f09816" stroke="#f09816"/>
<path d="M540.9,359.1L555.4,362.4L565.4,369.9L550.9,366.6Z" fill="#f0cc1e" stroke="#f0cc1e"/>
<path d="M614.4,391.6L628.5,395.0L638.8,402.6L624.6,399.2Z" fill="#d8e71e" stroke="#d8e71e"/>
<path d="M663.1,413.6L677.1,417.0L687.5,424.6L673.5,421.2Z" fill="#81db20" stroke="#81db20"/>
<path d="M736.1,446.6L749.7,450.1L760.3,457.7L746.7,454.2Z" fill="#28d023" stroke="#28d023"/>
<path d="M784.5,468.7L797.9,472.3L808.7,479.8L795.3,476.3Z" fill="#1dd02d" stroke="#1dd02d"/>
<path d="M452.3,324.5L467.3,327.6L477.0,334.8L462.1,331.7Z" fill="#f06410" stroke="#f06410"/>
<path d="M575.5,377.4L589.9,380.7L600.1,388.3L585.7,384.9Z" fill="#f0e01e" stroke="#f0e01e"/>
<path d="M697.9,432.2L711.8,435.6L722.3,443.2L708.5,439.8Z" fill="#51d420" stroke="#51d420"/>
<path d="M819.5,487.4L832.8,491.0L843.7,498.6L830.4,495.0Z" fill="#19cf3c" stroke="#19cf3c"/>
<path d="M353.4,285.5L368.8,288.0L378.2,294.9L362.8,292.2Z" fill="#f81d17" stroke="#f81d17"/>
<path d="M378.2,294.9L393.4,297.6L402.9,304.5L387.7,301.7Z" fill="#f52212" stroke="#f52212"/>
<path d="M427.6,314.4L442.7,317.3L452.3,324.5L437.3,321.5Z" fill="#f04c10" stroke="#f04c10"/>
<path d="M501.7,345.3L516.4,348.5L526.3,355.9L511.6,352.7Z" fill="#f09a16" stroke="#f09a16"/>
<path d="M550.9,366.6L565.4,369.9L575.5,377.4L561.0,374.1Z" fill="#f0cd1e" stroke="#f0cd1e"/>
<path d="M624.6,399.2L638.8,402.6L649.1,410.2L634.9,406.8Z" fill="#d6e71e" stroke="#d6e71e"/>
<path d="M673.5,421.2L687.5,424.6L697.9,432.2L684.0,428.7Z" fill="#7edb20" stroke="#7edb20"/>
<path d="M746.7,454.2L760.3,457.7L771.0,465.3L757.4,461.8Z" fill="#28d023" stroke="#28d023"/>
<path d="M795.3,476.3L808.7,479.8L819.5,487.4L806.1,483.9Z" fill="#1dd02d" stroke="#1dd02d"/>
<path d="M477.0,334.8L491.9,337.9L501.7,345.3L486.9,342.1Z" fill="#f07e11" stroke="#f07e11"/>
<path d="M600.1,388.3L614.4,391.6L624.6,399.2L610.3,395.8Z" fill="#eae61e" stroke="#eae61e"/>
<path d="M722.3,443.2L736.1,446.6L746.7,454.2L732.9,450.8Z" fill="#36d121" stroke="#36d121"/>
<path d="M402.9,304.5L418.0,307.3L427.6,314.4L412.5,311.5Z" fill="#f33310" stroke="#f33310"/>
<path d="M526.3,355.9L540.9,359.1L550.9,366.6L536.3,363.3Z" fill="#f0b51b" stroke="#f0b51b"/>
<path d="M649.1,410.2L663.1,413.6L673.5,421.2L659.5,417.7Z" fill="#b0e21f" stroke="#b0e21f"/>
<path d="M771.0,465.3L784.5,468.7L795.3,476.3L781.8,472.8Z" fill="#22d026" stroke="#22d026"/>
<path d="M843.7,498.6L856.9,502.2L867.9,509.7L854.7,506.1Z" fill="#15ce4b" stroke="#15ce4b"/>
<path d="M437.3,321.5L452.3,324.5L462.1,331.7L447.0,328.7Z" fill="#f04c10" stroke="#f04c10"/>
<path d="M561.0,374.1L575.5,377.4L585.7,384.9L571.2,381.6Z" fill="#f0ce1e" stroke="#f0ce1e"/>
<path d="M684.0,428.7L697.9,432.2L708.5,439.8L694.5,436.3Z" fill="#7bdb20" stroke="#7bdb20"/>
<path d="M806.1,483.9L819.5,487.4L830.4,495.0L817.0,491.4Z" fill="#1dd02d" stroke="#1dd02d"/>
<path d="M362.8,292.2L378.2,294.9L387.7,301.7L372.3,299.0Z" fill="#f81d17" stroke="#f81d17"/>
<path d="M486.9,342.1L501.7,345.3L511.6,352.7L496.7,349.4Z" fill="#f07f11" stroke="#f07f11"/>
<path d="M610.3,395.8L624.6,399.2L634.9,406.8L620.6,403.4Z" fill="#eae71e" stroke="#eae71e"/>
<path d="M732.9,450.8L746.7,454.2L757.4,461.8L743.6,458.3Z" fill="#35d121" stroke="#35d121"/>
<path d="M412.5,311.5L427.6,314.4L437.3,321.5L422.1,318.5Z" fill="#f23410" stroke="#f23410"/>
<path d="M462.1,331.7L477.0,334.8L486.9,342.1L471.9,339.0Z" fill="#f06510" stroke="#f06510"/>
<path d="M536.3,363.3L550.9,366.6L561.0,374.1L546.4,370.8Z" fill="#f0b61b" stroke="#f0b61b"/>
<path d="M585.7,384.9L600.1,388.3L610.3,395.8L595.9,392.5Z" fill="#f0e11e" stroke="#f0e11e"/>
<path d="M659.5,417.7L673.5,421.2L684.0,428.7L669.9,425.3Z" fill="#aee21f" stroke="#aee21f"/>
<path d="M708.5,439.8L722.3,443.2L732.9,450.8L719.1,447.3Z" fill="#4fd420" stroke="#4fd420"/>
<path d="M781.8,472.8L795.3,476.3L806.1,483.9L792.6,480.4Z" fill="#22d026" stroke="#22d026"/>
<path d="M830.4,495.0L843.7,498.6L854.7,506.1L841.4,502.5Z" fill="#19cf3c" stroke="#19cf3c"/>
<path d="M387.7,301.7L402.9,304.5L412.5,311.5L397.2,308.7Z" fill="#f52212" stroke="#f52212"/>
<path d="M511.6,352.7L526.3,355.9L536.3,363.3L521.6,360.1Z" fill="#f09b16" stroke="#f09b16"/>
<path d="M634.9,406.8L649.1,410.2L659.5,417.7L645.3,414.3Z" fill="#d5e71e" stroke="#d5e71e"/>
<path d="M757.4,461.8L771.0,465.3L781.8,472.8L768.1,469.4Z" fill="#28d023" stroke="#28d023"/>
<path d="M422.1,318.5L437.3,321.5L447.0,328.7L431.8,325.6Z" fill="#f23510" stroke="#f23510"/>
<path d="M471.9,339.0L486.9,342.1L496.7,349.4L481.8,346.2Z" fill="#f06710" stroke="#f06710"/>
<path d="M546.4,370.8L561.0,374.1L571.2,381.6L556.5,378.2Z" fill="#f0b81b" stroke="#f0b81b"/>
<path d="M595.9,392.5L610.3,395.8L620.6,403.4L606.2,400.0Z" fill="#f0e11e" stroke="#f0e11e"/>
<path d="M669.9,425.3L684.0,428.7L694.5,436.3L680.4,432.9Z" fill="#ace21f" stroke="#ace21f"/>
<path d="M719.1,447.3L732.9,450.8L743.6,458.3L729.8,454.9Z" fill="#4ed420" stroke="#4ed420"/>
<path d="M792.6,480.4L806.1,483.9L817.0,491.4L803.5,487.9Z" fill="#22d026" stroke="#22d026"/>
<path d="M397.2,308.7L412.5,311.5L422.1,318.5L406.8,315.6Z" fill="#f52212" stroke="#f52212"/>
<path d="M447.0,328.7L462.1,331.7L471.9,339.0L456.8,335.8Z" fill="#f04d10" stroke="#f04d10"/>
<path d="M521.6,360.1L536.3,363.3L546.4,370.8L531.6,367.5Z" fill="#f09d17" stroke="#f09d17"/>
<path d="M571.2,381.6L585.7,384.9L595.9,392.5L581.4,389.1Z" fill="#f0cf1e" stroke="#f0cf1e"/>
<path d="M645.3,414.3L659.5,417.7L669.9,425.3L655.7,421.9Z" fill="#d4e61e" stroke="#d4e61e"/>
<path d="M694.5,436.3L708.5,439.8L719.1,447.3L705.1,443.9Z" fill="#79da20" stroke="#79da20"/>
<path d="M768.1,469.4L781.8,472.8L792.6,480.4L779.0,476.9Z" fill="#28d023" stroke="#28d023"/>
<path d="M817.0,491.4L830.4,495.0L841.4,502.5L828.1,499.0Z" fill="#1dd02e" stroke="#1dd02e"/>
<path d="M372.3,299.0L387.7,301.7L397.2,308.7L381.8,305.8Z" fill="#f81d17" stroke="#f81d17"/>
<path d="M496.7,349.4L511.6,352.7L521.6,360.1L506.7,356.8Z" fill="#f08112" stroke="#f08112"/>
<path d="M620.6,403.4L634.9,406.8L645.3,414.3L631.0,410.9Z" fill="#e9e71e" stroke="#e9e71e"/>
<path d="M743.6,458.3L757.4,461.8L768.1,469.4L754.4,465.9Z" fill="#35d121" stroke="#35d121"/>
<path d="M406.8,315.6L422.1,318.5L431.8,325.6L416.5,322.6Z" fill="#f52212" stroke="#f52212"/>
<path d="M456.8,335.8L471.9,339.0L481.8,346.2L466.7,343.1Z" fill="#f04e10" stroke="#f04e10"/>
<path d="M531.6,367.5L546.4,370.8L556.5,378.2L541.7,374.9Z" fill="#f09e17" stroke="#f09e17"/>
<path d="M581.4,389.1L595.9,392.5L606.2,400.0L591.6,396.6Z" fill="#f0d01e" stroke="#f0d01e"/>
<path d="M655.7,421.9L669.9,425.3L680.4,432.9L666.3,429.5Z" fill="#d3e61e" stroke="#d3e61e"/>
<path d="M705.1,443.9L719.1,447.3L729.8,454.9L715.8,451.5Z" fill="#78da20" stroke="#78da20"/>
<path d="M779.0,476.9L792.6,480.4L803.5,487.9L789.9,484.5Z" fill="#28d023" stroke="#28d023"/>
<path d="M381.8,305.8L397.2,308.7L406.8,315.6L391.4,312.7Z" fill="#f81d17" stroke="#f81d17"/>
<path d="M431.8,325.6L447.0,328.7L456.8,335.8L441.6,332.7Z" fill="#f23510" stroke="#f23510"/>
<path d="M481.8,346.2L496.7,349.4L506.7,356.8L491.7,353.5Z" fill="#f06810" stroke="#f06810"/>
<path d="M506.7,356.8L521.6,360.1L531.6,367.5L516.7,364.2Z" fill="#f08212" stroke="#f08212"/>
<path d="M556.5,378.2L571.2,381.6L581.4,389.1L566.7,385.7Z" fill="#f0b91b" stroke="#f0b91b"/>
<path d="M606.2,400.0L620.6,403.4L631.0,410.9L616.5,407.5Z" fill="#efe21e" stroke="#efe21e"/>
<path d="M631.0,410.9L645.3,414.3L655.7,421.9L641.4,418.5Z" fill="#e9e71e" stroke="#e9e71e"/>
<path d="M680.4,432.9L694.5,436.3L705.1,443.9L691.1,440.5Z" fill="#abe120" stroke="#abe120"/>
<path d="M729.8,454.9L743.6,458.3L754.4,465.9L740.6,462.5Z" fill="#4dd420" stroke="#4dd420"/>
<path d="M754.4,465.9L768.1,469.4L779.0,476.9L765.3,473.5Z" fill="#34d121" stroke="#34d121"/>
<path d="M803.5,487.9L817.0,491.4L828.1,499.0L814.6,495.5Z" fill="#22d026" stroke="#22d026"/>
<path d="M391.4,312.7L406.8,315.6L416.5,322.6L401.1,319.6Z" fill="#f81d17" stroke="#f81d17"/>
<path d="M441.6,332.7L456.8,335.8L466.7,343.1L451.5,339.9Z" fill="#f23610" stroke="#f23610"/>
<path d="M491.7,353.5L506.7,356.8L516.7,364.2L501.7,360.9Z" fill="#f06810" stroke="#f06810"/>
<path d="M516.7,364.2L531.6,367.5L541.7,374.9L526.9,371.6Z" fill="#f08312" stroke="#f08312"/>
<path d="M566.7,385.7L581.4,389.1L591.6,396.6L577.0,393.2Z" fill="#f0ba1c" stroke="#f0ba1c"/>
<path d="M616.5,407.5L631.0,410.9L641.4,418.5L627.0,415.1Z" fill="#efe21e" stroke="#efe21e"/>
<path d="M641.4,418.5L655.7,421.9L666.3,429.5L651.9,426.1Z" fill="#e9e71e" stroke="#e9e71e"/>
<path d="M691.1,440.5L705.1,443.9L715.8,451.5L701.7,448.1Z" fill="#a9e120" stroke="#a9e120"/>
<path d="M740.6,462.5L754.4,465.9L765.3,473.5L751.4,470.0Z" fill="#4cd420" stroke="#4cd420"/>
<path d="M765.3,473.5L779.0,476.9L789.9,484.5L776.2,481.0Z" fill="#34d121" stroke="#34d121"/>
<path d="M416.5,322.6L431.8,325.6L441.6,332.7L426.3,329.7Z" fill="#f52212" stroke="#f52212"/>
<path d="M466.7,343.1L481.8,346.2L491.7,353.5L476.6,350.3Z" fill="#f04f10" stroke="#f04f10"/>
<path d="M541.7,374.9L556.5,378.2L566.7,385.7L551.9,382.3Z" fill="#f09f17" stroke="#f09f17"/>
<path d="M591.6,396.6L606.2,400.0L616.5,407.5L602.0,404.1Z" fill="#f0d11e" stroke="#f0d11e"/>
<path d="M666.3,429.5L680.4,432.9L691.1,440.5L676.9,437.1Z" fill="#d2e61e" stroke="#d2e61e"/>
<path d="M715.8,451.5L729.8,454.9L740.6,462.5L726.6,459.0Z" fill="#76da20" stroke="#76da20"/>
<path d="M789.9,484.5L803.5,487.9L814.6,495.5L800.9,492.0Z" fill="#27d023" stroke="#27d023"/>
<path d="M501.7,360.9L516.7,364.2L526.9,371.6L511.8,368.2Z" fill="#f06910" stroke="#f06910"/>
<path d="M627.0,415.1L641.4,418.5L651.9,426.1L637.5,422.7Z" fill="#efe21e" stroke="#efe21e"/>
<path d="M751.4,470.0L765.3,473.5L776.2,481.0L762.3,477.6Z" fill="#4bd420" stroke="#4bd420"/>
<path d="M426.3,329.7L441.6,332.7L451.5,339.9L436.1,336.8Z" fill="#f52311" stroke="#f52311"/>
<path d="M476.6,350.3L491.7,353.5L501.7,360.9L486.6,357.6Z" fill="#f05010" stroke="#f05010"/>
<path d="M551.9,382.3L566.7,385.7L577.0,393.2L562.2,389.8Z" fill="#f0a017" stroke="#f0a017"/>
<path d="M602.0,404.1L616.5,407.5L627.0,415.1L612.4,411.7Z" fill="#f0d21e" stroke="#f0d21e"/>
<path d="M676.9,437.1L691.1,440.5L701.7,448.1L687.5,444.6Z" fill="#d1e61e" stroke="#d1e61e"/>
<path d="M726.6,459.0L740.6,462.5L751.4,470.0L737.4,466.6Z" fill="#75da20" stroke="#75da20"/>
<path d="M401.1,319.6L416.5,322.6L426.3,329.7L410.8,326.6Z" fill="#f81d17" stroke="#f81d17"/>
<path d="M451.5,339.9L466.7,343.1L476.6,350.3L461.4,347.1Z" fill="#f23710" stroke="#f23710"/>
<path d="M526.9,371.6L541.7,374.9L551.9,382.3L537.0,379.0Z" fill="#f08412" stroke="#f08412"/>
<path d="M577.0,393.2L591.6,396.6L602.0,404.1L587.3,400.7Z" fill="#f0bb1c" stroke="#f0bb1c"/>
<path d="M651.9,426.1L666.3,429.5L676.9,437.1L662.5,433.6Z" fill="#e9e71e" stroke="#e9e71e"/>
<path d="M701.7,448.1L715.8,451.5L726.6,459.0L712.5,455.6Z" fill="#a8e120" stroke="#a8e120"/>
<path d="M776.2,481.0L789.9,484.5L800.9,492.0L787.2,488.5Z" fill="#34d121" stroke="#34d121"/>
<path d="M486.6,357.6L501.7,360.9L511.8,368.2L496.7,364.9Z" fill="#f05010" stroke="#f05010"/>
<path d="M612.4,411.7L627.0,415.1L637.5,422.7L622.9,419.2Z" fill="#f0d21e" stroke="#f0d21e"/>
<path d="M737.4,466.6L751.4,470.0L762.3,477.6L748.3,474.2Z" fill="#74da20" stroke="#74da20"/>
<path d="M410.8,326.6L426.3,329.7L436.1,336.8L420.6,333.6Z" fill="#f81d17" stroke="#f81d17"/>
<path d="M461.4,347.1L476.6,350.3L486.6,357.6L471.4,354.3Z" fill="#f23710" stroke="#f23710"/>
<path d="M511.8,368.2L526.9,371.6L537.0,379.0L522.0,375.6Z" fill="#f06a10" stroke="#f06a10"/>
<path d="M537.0,379.0L551.9,382.3L562.2,389.8L547.3,386.4Z" fill="#f08512" stroke="#f08512"/>
<path d="M587.3,400.7L602.0,404.1L612.4,411.7L597.7,408.3Z" fill="#f0bc1c" stroke="#f0bc1c"/>
<path d="M637.5,422.7L651.9,426.1L662.5,433.6L648.1,430.2Z" fill="#efe21e" stroke="#efe21e"/>
<path d="M662.5,433.6L676.9,437.1L687.5,444.6L673.2,441.2Z" fill="#e9e81e" stroke="#e9e81e"/>
<path d="M712.5,455.6L726.6,459.0L737.4,466.6L723.3,463.2Z" fill="#a8e120" stroke="#a8e120"/>
<path d="M762.3,477.6L776.2,481.0L787.2,488.5L773.3,485.1Z" fill="#4bd320" stroke="#4bd320"/>
<path d="M436.1,336.8L451.5,339.9L461.4,347.1L446.0,343.9Z" fill="#f52311" stroke="#f52311"/>
<path d="M562.2,389.8L577.0,393.2L587.3,400.7L572.5,397.3Z" fill="#f0a117" stroke="#f0a117"/>
<path d="M687.5,444.6L701.7,448.1L712.5,455.6L698.3,452.2Z" fill="#d0e61e" stroke="#d0e61e"/>
<path d="M471.4,354.3L486.6,357.6L496.7,364.9L481.4,361.6Z" fill="#f23810" stroke="#f23810"/>
<path d="M522.0,375.6L537.0,379.0L547.3,386.4L532.2,383.1Z" fill="#f06b10" stroke="#f06b10"/>
<path d="M597.7,408.3L612.4,411.7L622.9,419.2L608.2,415.8Z" fill="#f0bc1c" stroke="#f0bc1c"/>
<path d="M648.1,430.2L662.5,433.6L673.2,441.2L658.7,437.8Z" fill="#eee21e" stroke="#eee21e"/>
<path d="M723.3,463.2L737.4,466.6L748.3,474.2L734.2,470.8Z" fill="#a7e120" stroke="#a7e120"/>
<path d="M446.0,343.9L461.4,347.1L471.4,354.3L456.0,351.1Z" fill="#f52311" stroke="#f52311"/>
<path d="M496.7,364.9L511.8,368.2L522.0,375.6L506.8,372.3Z" fill="#f05110" stroke="#f05110"/>
<path d="M572.5,397.3L587.3,400.7L597.7,408.3L582.9,404.9Z" fill="#f0a217" stroke="#f0a217"/>
<path d="M622.9,419.2L637.5,422.7L648.1,430.2L633.5,426.8Z" fill="#f0d31e" stroke="#f0d31e"/>
<path d="M698.3,452.2L712.5,455.6L723.3,463.2L709.1,459.8Z" fill="#d0e61e" stroke="#d0e61e"/>
<path d="M748.3,474.2L762.3,477.6L773.3,485.1L759.3,481.7Z" fill="#74da20" stroke="#74da20"/>
<path d="M420.6,333.6L436.1,336.8L446.0,343.9L430.5,340.7Z" fill="#f81d17" stroke="#f81d17"/>
<path d="M547.3,386.4L562.2,389.8L572.5,397.3L557.6,393.9Z" fill="#f08612" stroke="#f08612"/>
<path d="M673.2,441.2L687.5,444.6L698.3,452.2L683.9,448.8Z" fill="#e8e81e" stroke="#e8e81e"/>
<path d="M456.0,351.1L471.4,354.3L481.4,361.6L466.0,358.3Z" fill="#f52311" stroke="#f52311"/>
<path d="M506.8,372.3L522.0,375.6L532.2,383.1L517.1,379.7Z" fill="#f05210" stroke="#f05210"/>
<path d="M582.9,404.9L597.7,408.3L608.2,415.8L593.4,412.4Z" fill="#f0a318" stroke="#f0a318"/>
<path d="M633.5,426.8L648.1,430.2L658.7,437.8L644.2,434.4Z" fill="#f0d31e" stroke="#f0d31e"/>
<path d="M709.1,459.8L723.3,463.2L734.2,470.8L720.0,467.4Z" fill="#d0e61e" stroke="#d0e61e"/>
<path d="M430.5,340.7L446.0,343.9L456.0,351.1L440.5,347.9Z" fill="#f81d17" stroke="#f81d17"/>
<path d="M481.4,361.6L496.7,364.9L506.8,372.3L491.6,368.9Z" fill="#f23810" stroke="#f23810"/>
<path d="M532.2,383.1L547.3,386.4L557.6,393.9L542.6,390.5Z" fill="#f06b10" stroke="#f06b10"/>
<path d="M557.6,393.9L572.5,397.3L582.9,404.9L568.0,401.4Z" fill="#f08613" stroke="#f08613"/>
<path d="M608.2,415.8L622.9,419.2L633.5,426.8L618.8,423.4Z" fill="#f0bd1c" stroke="#f0bd1c"/>
<path d="M658.7,437.8L673.2,441.2L683.9,448.8L669.5,445.4Z" fill="#eee21e" stroke="#eee21e"/>
<path d="M683.9,448.8L698.3,452.2L709.1,459.8L694.8,456.4Z" fill="#e8e81e" stroke="#e8e81e"/>
<path d="M734.2,470.8L748.3,474.2L759.3,481.7L745.2,478.3Z" fill="#a7e120" stroke="#a7e120"/>
<path d="M440.5,347.9L456.0,351.1L466.0,358.3L450.5,355.0Z" fill="#f81d17" stroke="#f81d17"/>
<path d="M491.6,368.9L506.8,372.3L517.1,379.7L501.8,376.3Z" fill="#f23910" stroke="#f23910"/>
<path d="M542.6,390.5L557.6,393.9L568.0,401.4L552.9,398.0Z" fill="#f06c10" stroke="#f06c10"/>
<path d="M568.0,401.4L582.9,404.9L593.4,412.4L578.5,409.0Z" fill="#f08713" stroke="#f08713"/>
<path d="M618.8,423.4L633.5,426.8L644.2,434.4L629.5,431.0Z" fill="#f0be1c" stroke="#f0be1c"/>
<path d="M669.5,445.4L683.9,448.8L694.8,456.4L680.3,453.0Z" fill="#eee31e" stroke="#eee31e"/>
<path d="M694.8,456.4L709.1,459.8L720.0,467.4L705.7,464.0Z" fill="#e8e81e" stroke="#e8e81e"/>
<path d="M466.0,358.3L481.4,361.6L491.6,368.9L476.2,365.6Z" fill="#f52311" stroke="#f52311"/>
<path d="M517.1,379.7L532.2,383.1L542.6,390.5L527.4,387.1Z" fill="#f05210" stroke="#f05210"/>
<path d="M593.4,412.4L608.2,415.8L618.8,423.4L604.0,420.0Z" fill="#f0a318" stroke="#f0a318"/>
<path d="M644.2,434.4L658.7,437.8L669.5,445.4L654.9,442.0Z" fill="#f0d31e" stroke="#f0d31e"/>
<path d="M720.0,467.4L734.2,470.8L745.2,478.3L731.0,475.0Z" fill="#d0e61e" stroke="#d0e61e"/>
<path d="M552.9,398.0L568.0,401.4L578.5,409.0L563.4,405.5Z" fill="#f06d10" stroke="#f06d10"/>
<path d="M680.3,453.0L694.8,456.4L705.7,464.0L691.2,460.6Z" fill="#eee31e" stroke="#eee31e"/>
<path d="M476.2,365.6L491.6,368.9L501.8,376.3L486.4,372.9Z" fill="#f52311" stroke="#f52311"/>
<path d="M527.4,387.1L542.6,390.5L552.9,398.0L537.8,394.6Z" fill="#f05310" stroke="#f05310"/>
<path d="M604.0,420.0L618.8,423.4L629.5,431.0L614.6,427.6Z" fill="#f0a418" stroke="#f0a418"/>
<path d="M654.9,442.0L669.5,445.4L680.3,453.0L665.7,449.6Z" fill="#f0d41e" stroke="#f0d41e"/>
<path d="M450.5,355.0L466.0,358.3L476.2,365.6L460.6,362.3Z" fill="#f81d17" stroke="#f81d17"/>
<path d="M501.8,376.3L517.1,379.7L527.4,387.1L512.1,383.7Z" fill="#f23910" stroke="#f23910"/>
<path d="M578.5,409.0L593.4,412.4L604.0,420.0L589.0,416.5Z" fill="#f08813" stroke="#f08813"/>
<path d="M629.5,431.0L644.2,434.4L654.9,442.0L640.2,438.6Z" fill="#f0be1c" stroke="#f0be1c"/>
<path d="M705.7,464.0L720.0,467.4L731.0,475.0L716.7,471.6Z" fill="#e8e81e" stroke="#e8e81e"/>
<path d="M537.8,394.6L552.9,398.0L563.4,405.5L548.2,402.1Z" fill="#f05310" stroke="#f05310"/>
<path d="M665.7,449.6L680.3,453.0L691.2,460.6L676.6,457.3Z" fill="#f0d41e" stroke="#f0d41e"/>
<path d="M460.6,362.3L476.2,365.6L486.4,372.9L470.8,369.6Z" fill="#f81d17" stroke="#f81d17"/>
<path d="M512.1,383.7L527.4,387.1L537.8,394.6L522.4,391.2Z" fill="#f23910" stroke="#f23910"/>
<path d="M563.4,405.5L578.5,409.0L589.0,416.5L573.9,413.1Z" fill="#f06d10" stroke="#f06d10"/>
<path d="M589.0,416.5L604.0,420.0L614.6,427.6L599.7,424.1Z" fill="#f08813" stroke="#f08813"/>
<path d="M640.2,438.6L654.9,442.0L665.7,449.6L651.0,446.2Z" fill="#f0be1c" stroke="#f0be1c"/>
<path d="M691.2,460.6L705.7,464.0L716.7,471.6L702.2,468.3Z" fill="#eee31e" stroke="#eee31e"/>
<path d="M486.4,372.9L501.8,376.3L512.1,383.7L496.6,380.3Z" fill="#f52311" stroke="#f52311"/>
<path d="M614.6,427.6L629.5,431.0L640.2,438.6L625.3,435.2Z" fill="#f0a418" stroke="#f0a418"/>
<path d="M522.4,391.2L537.8,394.6L548.2,402.1L532.9,398.7Z" fill="#f23a10" stroke="#f23a10"/>
<path d="M573.9,413.1L589.0,416.5L599.7,424.1L584.6,420.7Z" fill="#f06d10" stroke="#f06d10"/>
<path d="M651.0,446.2L665.7,449.6L676.6,457.3L661.9,453.9Z" fill="#f0bf1c" stroke="#f0bf1c"/>
<path d="M496.6,380.3L512.1,383.7L522.4,391.2L507.0,387.7Z" fill="#f52311" stroke="#f52311"/>
<path d="M548.2,402.1L563.4,405.5L573.9,413.1L558.7,409.7Z" fill="#f05310" stroke="#f05310"/>
<path d="M625.3,435.2L640.2,438.6L651.0,446.2L636.1,442.8Z" fill="#f0a418" stroke="#f0a418"/>
<path d="M676.6,457.3L691.2,460.6L702.2,468.3L687.6,464.9Z" fill="#f0d41e" stroke="#f0d41e"/>
<path d="M470.8,369.6L486.4,372.9L496.6,380.3L481.0,376.9Z" fill="#f81d17" stroke="#f81d17"/>
<path d="M599.7,424.1L614.6,427.6L625.3,435.2L610.4,431.8Z" fill="#f08813" stroke="#f08813"/>
<path d="M507.0,387.7L522.4,391.2L532.9,398.7L517.4,395.2Z" fill="#f52311" stroke="#f52311"/>
<path d="M558.7,409.7L573.9,413.1L584.6,420.7L569.3,417.3Z" fill="#f05410" stroke="#f05410"/>
<path d="M636.1,442.8L651.0,446.2L661.9,453.9L647.0,450.5Z" fill="#f0a518" stroke="#f0a518"/>
<path d="M481.0,376.9L496.6,380.3L507.0,387.7L491.4,384.3Z" fill="#f81d17" stroke="#f81d17"/>
<path d="M532.9,398.7L548.2,402.1L558.7,409.7L543.4,406.2Z" fill="#f23a10" stroke="#f23a10"/>
<path d="M584.6,420.7L599.7,424.1L610.4,431.8L595.3,428.3Z" fill="#f06e10" stroke="#f06e10"/>
<path d="M610.4,431.8L625.3,435.2L636.1,442.8L621.2,439.4Z" fill="#f08913" stroke="#f08913"/>
<path d="M661.9,453.9L676.6,457.3L687.6,464.9L672.8,461.6Z" fill="#f0bf1c" stroke="#f0bf1c"/>
<path d="M491.4,384.3L507.0,387.7L517.4,395.2L501.8,391.7Z" fill="#f81d17" stroke="#f81d17"/>
<path d="M543.4,406.2L558.7,409.7L569.3,417.3L554.0,413.8Z" fill="#f23a10" stroke="#f23a10"/>
<path d="M595.3,428.3L610.4,431.8L621.2,439.4L606.0,436.0Z" fill="#f06e10" stroke="#f06e10"/>
<path d="M621.2,439.4L636.1,442.8L647.0,450.5L632.0,447.1Z" fill="#f08913" stroke="#f08913"/>
<path d="M517.4,395.2L532.9,398.7L543.4,406.2L527.9,402.7Z" fill="#f52311" stroke="#f52311"/>
<path d="M569.3,417.3L584.6,420.7L595.3,428.3L580.0,424.9Z" fill="#f05410" stroke="#f05410"/>
<path d="M647.0,450.5L661.9,453.9L672.8,461.6L658.0,458.2Z" fill="#f0a518" stroke="#f0a518"/>
<path d="M606.0,436.0L621.2,439.4L632.0,447.1L616.9,443.7Z" fill="#f06e10" stroke="#f06e10"/>
<path d="M527.9,402.7L543.4,406.2L554.0,413.8L538.5,410.3Z" fill="#f52311" stroke="#f52311"/>
<path d="M580.0,424.9L595.3,428.3L606.0,436.0L590.8,432.6Z" fill="#f05410" stroke="#f05410"/>
<path d="M501.8,391.7L517.4,395.2L527.9,402.7L512.3,399.2Z" fill="#f81d17" stroke="#f81d17"/>
<path d="M554.0,413.8L569.3,417.3L580.0,424.9L564.7,421.4Z" fill="#f23a10" stroke="#f23a10"/>
<path d="M632.0,447.1L647.0,450.5L658.0,458.2L643.0,454.8Z" fill="#f08913" stroke="#f08913"/>
<path d="M590.8,432.6L606.0,436.0L616.9,443.7L601.7,440.3Z" fill="#f05410" stroke="#f05410"/>
<path d="M512.3,399.2L527.9,402.7L538.5,410.3L522.9,406.8Z" fill="#f81d17" stroke="#f81d17"/>
<path d="M564.7,421.4L580.0,424.9L590.8,432.6L575.4,429.1Z" fill="#f23a10" stroke="#f23a10"/>
<path d="M616.9,443.7L632.0,447.1L643.0,454.8L627.9,451.5Z" fill="#f06e10" stroke="#f06e10"/>
<path d="M538.5,410.3L554.0,413.8L564.7,421.4L549.2,417.9Z" fill="#f42311" stroke="#f42311"/>
<path d="M575.4,429.1L590.8,432.6L601.7,440.3L586.3,436.8Z" fill="#f23a10" stroke="#f23a10"/>
<path d="M549.2,417.9L564.7,421.4L575.4,429.1L559.9,425.6Z" fill="#f42311" stroke="#f42311"/>
<path d="M601.7,440.3L616.9,443.7L627.9,451.5L612.6,448.0Z" fill="#f05410" stroke="#f05410"/>
<path d="M522.9,406.8L538.5,410.3L549.2,417.9L533.5,414.4Z" fill="#f81d17" stroke="#f81d17"/>
<path d="M559.9,425.6L575.4,429.1L586.3,436.8L570.7,433.4Z" fill="#f42311" stroke="#f42311"/>
<path d="M533.5,414.4L549.2,417.9L559.9,425.6L544.2,422.1Z" fill="#f81d17" stroke="#f81d17"/>
<path d="M586.3,436.8L601.7,440.3L612.6,448.0L597.2,444.6Z" fill="#f23b10" stroke="#f23b10"/>
<path d="M544.2,422.1L559.9,425.6L570.7,433.4L555.1,429.8Z" fill="#f81d17" stroke="#f81d17"/>
<path d="M570.7,433.4L586.3,436.8L597.2,444.6L581.6,441.1Z" fill="#f42311" stroke="#f42311"/>
<path d="M555.1,429.8L570.7,433.4L581.6,441.1L566.0,437.6Z" fill="#f81d17" stroke="#f81d17"/>
</g>
<g fill="url(#sh)" stroke="none">
<path d="M186.9,166.1L216.3,165.8L233.0,178.4L203.5,178.0Z"/>
<path d="M203.5,178.0L233.0,178.4L249.9,191.1L220.2,190.0Z"/>
<path d="M220.2,190.0L249.9,191.1L267.0,203.9L237.2,202.2Z"/>
<path d="M237.2,202.2L267.0,203.9L284.3,216.9L254.4,214.5Z"/>
<path d="M254.4,214.5L284.3,216.9L301.9,230.0L271.8,227.0Z"/>
<path d="M271.8,227.0L301.9,230.0L319.7,243.2L289.5,239.7Z"/>
<path d="M289.5,239.7L319.7,243.2L337.7,256.6L307.5,252.6Z"/>
<path d="M307.5,252.6L337.7,256.6L356.0,270.1L325.7,265.6Z"/>
<path d="M325.7,265.6L356.0,270.1L374.6,283.7L344.1,278.8Z"/>
<path d="M344.1,278.8L374.6,283.7L393.4,297.6L362.8,292.2Z"/>
<path d="M362.8,292.2L393.4,297.6L412.5,311.5L381.8,305.8Z"/>
<path d="M381.8,305.8L412.5,311.5L431.8,325.6L401.1,319.6Z"/>
<path d="M401.1,319.6L431.8,325.6L451.5,339.9L420.6,333.6Z"/>
<path d="M420.6,333.6L451.5,339.9L471.4,354.3L440.5,347.9Z"/>
<path d="M440.5,347.9L471.4,354.3L491.6,368.9L460.6,362.3Z"/>
<path d="M460.6,362.3L491.6,368.9L512.1,383.7L481.0,376.9Z"/>
<path d="M481.0,376.9L512.1,383.7L532.9,398.7L501.8,391.7Z"/>
<path d="M501.8,391.7L532.9,398.7L554.0,413.8L522.9,406.8Z"/>
<path d="M522.9,406.8L554.0,413.8L575.4,429.1L544.2,422.1Z"/>
<path d="M544.2,422.1L575.4,429.1L597.2,444.6L566.0,437.6Z"/>
<path d="M216.3,165.8L245.4,166.1L262.2,179.4L233.0,178.4Z"/>
<path d="M233.0,178.4L262.2,179.4L279.2,192.8L249.9,191.1Z"/>
<path d="M249.9,191.1L279.2,192.8L296.4,206.2L267.0,203.9Z"/>
<path d="M267.0,203.9L296.4,206.2L313.9,219.7L284.3,216.9Z"/>
<path d="M284.3,216.9L313.9,219.7L331.5,233.4L301.9,230.0Z"/>
<path d="M301.9,230.0L331.5,233.4L349.4,247.1L319.7,243.2Z"/>
<path d="M319.7,243.2L349.4,247.1L367.6,260.9L337.7,256.6Z"/>
<path d="M337.7,256.6L367.6,260.9L386.0,274.9L356.0,270.1Z"/>
<path d="M356.0,270.1L386.0,274.9L404.6,288.9L374.6,283.7Z"/>
<path d="M374.6,283.7L404.6,288.9L423.5,303.1L393.4,297.6Z"/>
<path d="M393.4,297.6L423.5,303.1L442.7,317.3L412.5,311.5Z"/>
<path d="M412.5,311.5L442.7,317.3L462.1,331.7L431.8,325.6Z"/>
<path d="M431.8,325.6L462.1,331.7L481.8,346.2L451.5,339.9Z"/>
<path d="M451.5,339.9L481.8,346.2L501.7,360.9L471.4,354.3Z"/>
<path d="M471.4,354.3L501.7,360.9L522.0,375.6L491.6,368.9Z"/>
<path d="M491.6,368.9L522.0,375.6L542.6,390.5L512.1,383.7Z"/>
<path d="M512.1,383.7L542.6,390.5L563.4,405.5L532.9,398.7Z"/>
<path d="M532.9,398.7L563.4,405.5L584.6,420.7L554.0,413.8Z"/>
<path d="M554.0,413.8L584.6,420.7L606.0,436.0L575.4,429.1Z"/>
<path d="M575.4,429.1L606.0,436.0L627.9,451.5L597.2,444.6Z"/>
<path d="M245.4,166.1L274.1,167.1L291.0,181.0L262.2,179.4Z"/>
<path d="M262.2,179.4L291.0,181.0L308.1,194.9L279.2,192.8Z"/>
<path d="M279.2,192.8L308.1,194.9L325.5,208.9L296.4,206.2Z"/>
<path d="M296.4,206.2L325.5,208.9L343.0,223.0L313.9,219.7Z"/>
<path d="M313.9,219.7L343.0,223.0L360.8,237.1L331.5,233.4Z"/>
<path d="M331.5,233.4L360.8,237.1L378.8,251.3L349.4,247.1Z"/>
<path d="M349.4,247.1L378.8,251.3L397.0,265.6L367.6,260.9Z"/>
<path d="M367.6,260.9L397.0,265.6L415.5,279.9L386.0,274.9Z"/>
<path d="M386.0,274.9L415.5,279.9L434.2,294.3L404.6,288.9Z"/>
<path d="M404.6,288.9L434.2,294.3L453.2,308.8L423.5,303.1Z"/>
<path d="M423.5,303.1L453.2,308.8L472.4,323.3L442.7,317.3Z"/>
<path d="M442.7,317.3L472.4,323.3L491.9,337.9L462.1,331.7Z"/>
<path d="M462.1,331.7L491.9,337.9L511.6,352.7L481.8,346.2Z"/>
<path d="M481.8,346.2L511.6,352.7L531.6,367.5L501.7,360.9Z"/>
<path d="M501.7,360.9L531.6,367.5L551.9,382.3L522.0,375.6Z"/>
<path d="M522.0,375.6L551.9,382.3L572.5,397.3L542.6,390.5Z"/>
<path d="M542.6,390.5L572.5,397.3L593.4,412.4L563.4,405.5Z"/>
<path d="M563.4,405.5L593.4,412.4L614.6,427.6L584.6,420.7Z"/>
<path d="M584.6,420.7L614.6,427.6L636.1,442.8L606.0,436.0Z"/>
<path d="M606.0,436.0L636.1,442.8L658.0,458.2L627.9,451.5Z"/>
<path d="M274.1,167.1L302.5,168.7L319.5,183.1L291.0,181.0Z"/>
<path d="M291.0,181.0L319.5,183.1L336.7,197.6L308.1,194.9Z"/>
<path d="M308.1,194.9L336.7,197.6L354.1,212.1L325.5,208.9Z"/>
<path d="M325.5,208.9L354.1,212.1L371.8,226.6L343.0,223.0Z"/>
<path d="M343.0,223.0L371.8,226.6L389.6,241.2L360.8,237.1Z"/>
<path d="M360.8,237.1L389.6,241.2L407.7,255.8L378.8,251.3Z"/>
<path d="M378.8,251.3L407.7,255.8L426.0,270.5L397.0,265.6Z"/>
<path d="M397.0,265.6L426.0,270.5L444.6,285.1L415.5,279.9Z"/>
<path d="M415.5,279.9L444.6,285.1L463.3,299.8L434.2,294.3Z"/>
<path d="M434.2,294.3L463.3,299.8L482.3,314.6L453.2,308.8Z"/>
<path d="M453.2,308.8L482.3,314.6L501.6,329.4L472.4,323.3Z"/>
<path d="M472.4,323.3L501.6,329.4L521.2,344.3L491.9,337.9Z"/>
<path d="M491.9,337.9L521.2,344.3L540.9,359.1L511.6,352.7Z"/>
<path d="M511.6,352.7L540.9,359.1L561.0,374.1L531.6,367.5Z"/>
<path d="M531.6,367.5L561.0,374.1L581.4,389.1L551.9,382.3Z"/>
<path d="M551.9,382.3L581.4,389.1L602.0,404.1L572.5,397.3Z"/>
<path d="M572.5,397.3L602.0,404.1L622.9,419.2L593.4,412.4Z"/>
<path d="M593.4,412.4L622.9,419.2L644.2,434.4L614.6,427.6Z"/>
<path d="M614.6,427.6L644.2,434.4L665.7,449.6L636.1,442.8Z"/>
<path d="M636.1,442.8L665.7,449.6L687.6,464.9L658.0,458.2Z"/>
<path d="M302.5,168.7L330.5,170.8L347.6,185.7L319.5,183.1Z"/>
<path d="M319.5,183.1L347.6,185.7L364.9,200.7L336.7,197.6Z"/>
<path d="M336.7,197.6L364.9,200.7L382.4,215.7L354.1,212.1Z"/>
<path d="M354.1,212.1L382.4,215.7L400.2,230.6L371.8,226.6Z"/>
<path d="M371.8,226.6L400.2,230.6L418.1,245.6L389.6,241.2Z"/>
<path d="M389.6,241.2L418.1,245.6L436.2,260.6L407.7,255.8Z"/>
<path d="M407.7,255.8L436.2,260.6L454.6,275.6L426.0,270.5Z"/>
<path d="M426.0,270.5L454.6,275.6L473.2,290.6L444.6,285.1Z"/>
<path d="M444.6,285.1L473.2,290.6L492.0,305.6L463.3,299.8Z"/>
<path d="M463.3,299.8L492.0,305.6L511.1,320.6L482.3,314.6Z"/>
<path d="M482.3,314.6L511.1,320.6L530.4,335.6L501.6,329.4Z"/>
<path d="M501.6,329.4L530.4,335.6L550.0,350.6L521.2,344.3Z"/>
<path d="M521.2,344.3L550.0,350.6L569.8,365.7L540.9,359.1Z"/>
<path d="M540.9,359.1L569.8,365.7L589.9,380.7L561.0,374.1Z"/>
<path d="M561.0,374.1L589.9,380.7L610.3,395.8L581.4,389.1Z"/>
<path d="M581.4,389.1L610.3,395.8L631.0,410.9L602.0,404.1Z"/>
<path d="M602.0,404.1L631.0,410.9L651.9,426.1L622.9,419.2Z"/>
<path d="M622.9,419.2L651.9,426.1L673.2,441.2L644.2,434.4Z"/>
<path d="M644.2,434.4L673.2,441.2L694.8,456.4L665.7,449.6Z"/>
<path d="M665.7,449.6L694.8,456.4L716.7,471.6L687.6,464.9Z"/>
<path d="M330.5,170.8L358.2,173.3L375.4,188.8L347.6,185.7Z"/>
<path d="M347.6,185.7L375.4,188.8L392.8,204.2L364.9,200.7Z"/>
<path d="M364.9,200.7L392.8,204.2L410.4,219.6L382.4,215.7Z"/>
<path d="M382.4,215.7L410.4,219.6L428.1,234.9L400.2,230.6Z"/>
<path d="M400.2,230.6L428.1,234.9L446.1,250.3L418.1,245.6Z"/>
<path d="M418.1,245.6L446.1,250.3L464.3,265.6L436.2,260.6Z"/>
<path d="M436.2,260.6L464.3,265.6L482.8,280.9L454.6,275.6Z"/>
<path d="M454.6,275.6L482.8,280.9L501.4,296.1L473.2,290.6Z"/>
<path d="M473.2,290.6L501.4,296.1L520.3,311.4L492.0,305.6Z"/>
<path d="M492.0,305.6L520.3,311.4L539.4,326.6L511.1,320.6Z"/>
<path d="M511.1,320.6L539.4,326.6L558.7,341.8L530.4,335.6Z"/>
<path d="M530.4,335.6L558.7,341.8L578.4,357.0L550.0,350.6Z"/>
<path d="M550.0,350.6L578.4,357.0L598.2,372.2L569.8,365.7Z"/>
<path d="M569.8,365.7L598.2,372.2L618.4,387.4L589.9,380.7Z"/>
<path d="M589.9,380.7L618.4,387.4L638.8,402.6L610.3,395.8Z"/>
<path d="M610.3,395.8L638.8,402.6L659.5,417.7L631.0,410.9Z"/>
<path d="M631.0,410.9L659.5,417.7L680.4,432.9L651.9,426.1Z"/>
<path d="M651.9,426.1L680.4,432.9L701.7,448.1L673.2,441.2Z"/>
<path d="M673.2,441.2L701.7,448.1L723.3,463.2L694.8,456.4Z"/>
<path d="M694.8,456.4L723.3,463.2L745.2,478.3L716.7,471.6Z"/>
<path d="M358.2,173.3L385.6,176.4L402.8,192.2L375.4,188.8Z"/>
<path d="M375.4,188.8L402.8,192.2L420.3,208.0L392.8,204.2Z"/>
<path d="M392.8,204.2L420.3,208.0L437.9,223.8L410.4,219.6Z"/>
<path d="M410.4,219.6L437.9,223.8L455.7,239.5L428.1,234.9Z"/>
<path d="M428.1,234.9L455.7,239.5L473.8,255.1L446.1,250.3Z"/>
<path d="M446.1,250.3L473.8,255.1L492.0,270.7L464.3,265.6Z"/>
<path d="M464.3,265.6L492.0,270.7L510.5,286.3L482.8,280.9Z"/>
<path d="M482.8,280.9L510.5,286.3L529.2,301.8L501.4,296.1Z"/>
<path d="M501.4,296.1L529.2,301.8L548.1,317.3L520.3,311.4Z"/>
<path d="M520.3,311.4L548.1,317.3L567.2,332.7L539.4,326.6Z"/>
<path d="M539.4,326.6L567.2,332.7L586.6,348.1L558.7,341.8Z"/>
<path d="M558.7,341.8L586.6,348.1L606.3,363.5L578.4,357.0Z"/>
<path d="M578.4,357.0L606.3,363.5L626.2,378.8L598.2,372.2Z"/>
<path d="M598.2,372.2L626.2,378.8L646.3,394.1L618.4,387.4Z"/>
<path d="M618.4,387.4L646.3,394.1L666.8,409.4L638.8,402.6Z"/>
<path d="M638.8,402.6L666.8,409.4L687.5,424.6L659.5,417.7Z"/>
<path d="M659.5,417.7L687.5,424.6L708.5,439.8L680.4,432.9Z"/>
<path d="M680.4,432.9L708.5,439.8L729.8,454.9L701.7,448.1Z"/>
<path d="M701.7,448.1L729.8,454.9L751.4,470.0L723.3,463.2Z"/>
<path d="M723.3,463.2L751.4,470.0L773.3,485.1L745.2,478.3Z"/>
<path d="M385.6,176.4L412.6,179.8L429.9,196.0L402.8,192.2Z"/>
<path d="M402.8,192.2L429.9,196.0L447.4,212.2L420.3,208.0Z"/>
<path d="M420.3,208.0L447.4,212.2L465.1,228.2L437.9,223.8Z"/>
<path d="M437.9,223.8L465.1,228.2L483.0,244.2L455.7,239.5Z"/>
<path d="M455.7,239.5L483.0,244.2L501.0,260.2L473.8,255.1Z"/>
<path d="M473.8,255.1L501.0,260.2L519.3,276.0L492.0,270.7Z"/>
<path d="M492.0,270.7L519.3,276.0L537.8,291.8L510.5,286.3Z"/>
<path d="M510.5,286.3L537.8,291.8L556.6,307.6L529.2,301.8Z"/>
<path d="M529.2,301.8L556.6,307.6L575.5,323.3L548.1,317.3Z"/>
<path d="M548.1,317.3L575.5,323.3L594.7,338.9L567.2,332.7Z"/>
<path d="M567.2,332.7L594.7,338.9L614.1,354.5L586.6,348.1Z"/>
<path d="M586.6,348.1L614.1,354.5L633.8,370.0L606.3,363.5Z"/>
<path d="M606.3,363.5L633.8,370.0L653.7,385.4L626.2,378.8Z"/>
<path d="M626.2,378.8L653.7,385.4L673.9,400.8L646.3,394.1Z"/>
<path d="M646.3,394.1L673.9,400.8L694.3,416.1L666.8,409.4Z"/>
<path d="M666.8,409.4L694.3,416.1L715.0,431.4L687.5,424.6Z"/>
<path d="M687.5,424.6L715.0,431.4L736.1,446.6L708.5,439.8Z"/>
<path d="M708.5,439.8L736.1,446.6L757.4,461.8L729.8,454.9Z"/>
<path d="M729.8,454.9L757.4,461.8L779.0,476.9L751.4,470.0Z"/>
<path d="M751.4,470.0L779.0,476.9L800.9,492.0L773.3,485.1Z"/>
<path d="M412.6,179.8L439.3,183.7L456.6,200.2L429.9,196.0Z"/>
<path d="M429.9,196.0L456.6,200.2L474.2,216.6L447.4,212.2Z"/>
<path d="M447.4,212.2L474.2,216.6L491.9,232.9L465.1,228.2Z"/>
<path d="M465.1,228.2L491.9,232.9L509.8,249.2L483.0,244.2Z"/>
<path d="M483.0,244.2L509.8,249.2L527.9,265.4L501.0,260.2Z"/>
<path d="M501.0,260.2L527.9,265.4L546.2,281.4L519.3,276.0Z"/>
<path d="M519.3,276.0L546.2,281.4L564.8,297.5L537.8,291.8Z"/>
<path d="M537.8,291.8L564.8,297.5L583.5,313.4L556.6,307.6Z"/>
<path d="M556.6,307.6L583.5,313.4L602.5,329.3L575.5,323.3Z"/>
<path d="M575.5,323.3L602.5,329.3L621.7,345.1L594.7,338.9Z"/>
<path d="M594.7,338.9L621.7,345.1L641.1,360.8L614.1,354.5Z"/>
<path d="M614.1,354.5L641.1,360.8L660.8,376.4L633.8,370.0Z"/>
<path d="M633.8,370.0L660.8,376.4L680.7,392.0L653.7,385.4Z"/>
<path d="M653.7,385.4L680.7,392.0L700.9,407.5L673.9,400.8Z"/>
<path d="M673.9,400.8L700.9,407.5L721.4,422.9L694.3,416.1Z"/>
<path d="M694.3,416.1L721.4,422.9L742.1,438.2L715.0,431.4Z"/>
<path d="M715.0,431.4L742.1,438.2L763.2,453.5L736.1,446.6Z"/>
<path d="M736.1,446.6L763.2,453.5L784.5,468.7L757.4,461.8Z"/>
<path d="M757.4,461.8L784.5,468.7L806.1,483.9L779.0,476.9Z"/>
<path d="M779.0,476.9L806.1,483.9L828.1,499.0L800.9,492.0Z"/>
<path d="M439.3,183.7L465.6,187.9L483.0,204.6L456.6,200.2Z"/>
<path d="M456.6,200.2L483.0,204.6L500.6,221.2L474.2,216.6Z"/>
<path d="M474.2,216.6L500.6,221.2L518.3,237.8L491.9,232.9Z"/>
<path d="M491.9,232.9L518.3,237.8L536.3,254.3L509.8,249.2Z"/>
<path d="M509.8,249.2L536.3,254.3L554.4,270.6L527.9,265.4Z"/>
<path d="M527.9,265.4L554.4,270.6L572.8,286.9L546.2,281.4Z"/>
<path d="M546.2,281.4L572.8,286.9L591.3,303.1L564.8,297.5Z"/>
<path d="M564.8,297.5L591.3,303.1L610.1,319.2L583.5,313.4Z"/>
<path d="M583.5,313.4L610.1,319.2L629.1,335.3L602.5,329.3Z"/>
<path d="M602.5,329.3L629.1,335.3L648.3,351.2L621.7,345.1Z"/>
<path d="M621.7,345.1L648.3,351.2L667.7,367.1L641.1,360.8Z"/>
<path d="M641.1,360.8L667.7,367.1L687.4,382.8L660.8,376.4Z"/>
<path d="M660.8,376.4L687.4,382.8L707.4,398.5L680.7,392.0Z"/>
<path d="M680.7,392.0L707.4,398.5L727.6,414.1L700.9,407.5Z"/>
<path d="M700.9,407.5L727.6,414.1L748.1,429.7L721.4,422.9Z"/>
<path d="M721.4,422.9L748.1,429.7L768.8,445.1L742.1,438.2Z"/>
<path d="M742.1,438.2L768.8,445.1L789.8,460.5L763.2,453.5Z"/>
<path d="M763.2,453.5L789.8,460.5L811.2,475.8L784.5,468.7Z"/>
<path d="M784.5,468.7L811.2,475.8L832.8,491.0L806.1,483.9Z"/>
<path d="M806.1,483.9L832.8,491.0L854.7,506.1L828.1,499.0Z"/>
<path d="M465.6,187.9L491.6,192.4L509.0,209.3L483.0,204.6Z"/>
<path d="M483.0,204.6L509.0,209.3L526.6,226.1L500.6,221.2Z"/>
<path d="M500.6,221.2L526.6,226.1L544.4,242.8L518.3,237.8Z"/>
<path d="M518.3,237.8L544.4,242.8L562.4,259.5L536.3,254.3Z"/>
<path d="M536.3,254.3L562.4,259.5L580.5,276.0L554.4,270.6Z"/>
<path d="M554.4,270.6L580.5,276.0L598.9,292.5L572.8,286.9Z"/>
<path d="M572.8,286.9L598.9,292.5L617.5,308.8L591.3,303.1Z"/>
<path d="M591.3,303.1L617.5,308.8L636.2,325.1L610.1,319.2Z"/>
<path d="M610.1,319.2L636.2,325.1L655.2,341.2L629.1,335.3Z"/>
<path d="M629.1,335.3L655.2,341.2L674.5,357.3L648.3,351.2Z"/>
<path d="M648.3,351.2L674.5,357.3L693.9,373.3L667.7,367.1Z"/>
<path d="M667.7,367.1L693.9,373.3L713.6,389.2L687.4,382.8Z"/>
<path d="M687.4,382.8L713.6,389.2L733.6,405.1L707.4,398.5Z"/>
<path d="M707.4,398.5L733.6,405.1L753.8,420.8L727.6,414.1Z"/>
<path d="M727.6,414.1L753.8,420.8L774.3,436.4L748.1,429.7Z"/>
<path d="M748.1,429.7L774.3,436.4L795.0,452.0L768.8,445.1Z"/>
<path d="M768.8,445.1L795.0,452.0L816.0,467.5L789.8,460.5Z"/>
<path d="M789.8,460.5L816.0,467.5L837.4,482.9L811.2,475.8Z"/>
<path d="M811.2,475.8L837.4,482.9L859.0,498.2L832.8,491.0Z"/>
<path d="M832.8,491.0L859.0,498.2L880.9,513.4L854.7,506.1Z"/>
<path d="M491.6,192.4L517.3,197.2L534.7,214.2L509.0,209.3Z"/>
<path d="M509.0,209.3L534.7,214.2L552.3,231.1L526.6,226.1Z"/>
<path d="M526.6,226.1L552.3,231.1L570.1,248.0L544.4,242.8Z"/>
<path d="M544.4,242.8L570.1,248.0L588.1,264.8L562.4,259.5Z"/>
<path d="M562.4,259.5L588.1,264.8L606.3,281.4L580.5,276.0Z"/>
<path d="M580.5,276.0L606.3,281.4L624.6,298.0L598.9,292.5Z"/>
<path d="M598.9,292.5L624.6,298.0L643.2,314.5L617.5,308.8Z"/>
<path d="M617.5,308.8L643.2,314.5L662.0,330.9L636.2,325.1Z"/>
<path d="M636.2,325.1L662.0,330.9L681.0,347.2L655.2,341.2Z"/>
<path d="M655.2,341.2L681.0,347.2L700.3,363.4L674.5,357.3Z"/>
<path d="M674.5,357.3L700.3,363.4L719.7,379.5L693.9,373.3Z"/>
<path d="M693.9,373.3L719.7,379.5L739.4,395.6L713.6,389.2Z"/>
<path d="M713.6,389.2L739.4,395.6L759.4,411.5L733.6,405.1Z"/>
<path d="M733.6,405.1L759.4,411.5L779.6,427.4L753.8,420.8Z"/>
<path d="M753.8,420.8L779.6,427.4L800.1,443.2L774.3,436.4Z"/>
<path d="M774.3,436.4L800.1,443.2L820.8,458.9L795.0,452.0Z"/>
<path d="M795.0,452.0L820.8,458.9L841.8,474.5L816.0,467.5Z"/>
<path d="M816.0,467.5L841.8,474.5L863.1,490.1L837.4,482.9Z"/>
<path d="M837.4,482.9L863.1,490.1L884.7,505.6L859.0,498.2Z"/>
<path d="M859.0,498.2L884.7,505.6L906.7,520.9L880.9,513.4Z"/>
<path d="M517.3,197.2L542.6,202.2L560.0,219.3L534.7,214.2Z"/>
<path d="M534.7,214.2L560.0,219.3L577.7,236.3L552.3,231.1Z"/>
<path d="M552.3,231.1L577.7,236.3L595.5,253.2L570.1,248.0Z"/>
<path d="M570.1,248.0L595.5,253.2L613.5,270.1L588.1,264.8Z"/>
<path d="M588.1,264.8L613.5,270.1L631.7,286.8L606.3,281.4Z"/>
<path d="M606.3,281.4L631.7,286.8L650.0,303.5L624.6,298.0Z"/>
<path d="M624.6,298.0L650.0,303.5L668.6,320.1L643.2,314.5Z"/>
<path d="M643.2,314.5L668.6,320.1L687.4,336.6L662.0,330.9Z"/>
<path d="M662.0,330.9L687.4,336.6L706.4,353.0L681.0,347.2Z"/>
<path d="M681.0,347.2L706.4,353.0L725.7,369.4L700.3,363.4Z"/>
<path d="M700.3,363.4L725.7,369.4L745.1,385.7L719.7,379.5Z"/>
<path d="M719.7,379.5L745.1,385.7L764.9,401.8L739.4,395.6Z"/>
<path d="M739.4,395.6L764.9,401.8L784.8,418.0L759.4,411.5Z"/>
<path d="M759.4,411.5L784.8,418.0L805.0,434.0L779.6,427.4Z"/>
<path d="M779.6,427.4L805.0,434.0L825.5,450.0L800.1,443.2Z"/>
<path d="M800.1,443.2L825.5,450.0L846.2,465.9L820.8,458.9Z"/>
<path d="M820.8,458.9L846.2,465.9L867.2,481.7L841.8,474.5Z"/>
<path d="M841.8,474.5L867.2,481.7L888.5,497.4L863.1,490.1Z"/>
<path d="M863.1,490.1L888.5,497.4L910.1,513.1L884.7,505.6Z"/>
<path d="M884.7,505.6L910.1,513.1L931.9,528.7L906.7,520.9Z"/>
<path d="M542.6,202.2L567.6,207.4L585.0,224.5L560.0,219.3Z"/>
<path d="M560.0,219.3L585.0,224.5L602.7,241.6L577.7,236.3Z"/>
<path d="M577.7,236.3L602.7,241.6L620.5,258.5L595.5,253.2Z"/>
<path d="M595.5,253.2L620.5,258.5L638.5,275.4L613.5,270.1Z"/>
<path d="M613.5,270.1L638.5,275.4L656.7,292.2L631.7,286.8Z"/>
<path d="M631.7,286.8L656.7,292.2L675.1,309.0L650.0,303.5Z"/>
<path d="M650.0,303.5L675.1,309.0L693.7,325.6L668.6,320.1Z"/>
<path d="M668.6,320.1L693.7,325.6L712.5,342.2L687.4,336.6Z"/>
<path d="M687.4,336.6L712.5,342.2L731.5,358.8L706.4,353.0Z"/>
<path d="M706.4,353.0L731.5,358.8L750.7,375.3L725.7,369.4Z"/>
<path d="M725.7,369.4L750.7,375.3L770.2,391.7L745.1,385.7Z"/>
<path d="M745.1,385.7L770.2,391.7L789.9,408.0L764.9,401.8Z"/>
<path d="M764.9,401.8L789.9,408.0L809.8,424.3L784.8,418.0Z"/>
<path d="M784.8,418.0L809.8,424.3L830.0,440.5L805.0,434.0Z"/>
<path d="M805.0,434.0L830.0,440.5L850.4,456.7L825.5,450.0Z"/>
<path d="M825.5,450.0L850.4,456.7L871.2,472.8L846.2,465.9Z"/>
<path d="M846.2,465.9L871.2,472.8L892.1,488.9L867.2,481.7Z"/>
<path d="M867.2,481.7L892.1,488.9L913.4,504.9L888.5,497.4Z"/>
<path d="M888.5,497.4L913.4,504.9L934.9,520.8L910.1,513.1Z"/>
<path d="M910.1,513.1L934.9,520.8L956.8,536.7L931.9,528.7Z"/>
<path d="M567.6,207.4L592.2,212.9L609.7,229.9L585.0,224.5Z"/>
<path d="M585.0,224.5L609.7,229.9L627.3,246.9L602.7,241.6Z"/>
<path d="M602.7,241.6L627.3,246.9L645.1,263.8L620.5,258.5Z"/>
<path d="M620.5,258.5L645.1,263.8L663.1,280.7L638.5,275.4Z"/>
<path d="M638.5,275.4L663.1,280.7L681.3,297.6L656.7,292.2Z"/>
<path d="M656.7,292.2L681.3,297.6L699.7,314.3L675.1,309.0Z"/>
<path d="M675.1,309.0L699.7,314.3L718.3,331.1L693.7,325.6Z"/>
<path d="M693.7,325.6L718.3,331.1L737.1,347.8L712.5,342.2Z"/>
<path d="M712.5,342.2L737.1,347.8L756.1,364.4L731.5,358.8Z"/>
<path d="M731.5,358.8L756.1,364.4L775.4,381.0L750.7,375.3Z"/>
<path d="M750.7,375.3L775.4,381.0L794.8,397.6L770.2,391.7Z"/>
<path d="M770.2,391.7L794.8,397.6L814.5,414.1L789.9,408.0Z"/>
<path d="M789.9,408.0L814.5,414.1L834.4,430.6L809.8,424.3Z"/>
<path d="M809.8,424.3L834.4,430.6L854.6,447.0L830.0,440.5Z"/>
<path d="M830.0,440.5L854.6,447.0L875.0,463.4L850.4,456.7Z"/>
<path d="M850.4,456.7L875.0,463.4L895.7,479.8L871.2,472.8Z"/>
<path d="M871.2,472.8L895.7,479.8L916.7,496.2L892.1,488.9Z"/>
<path d="M892.1,488.9L916.7,496.2L937.9,512.5L913.4,504.9Z"/>
<path d="M913.4,504.9L937.9,512.5L959.4,528.7L934.9,520.8Z"/>
<path d="M934.9,520.8L959.4,528.7L981.2,545.0L956.8,536.7Z"/>
<path d="M592.2,212.9L616.5,218.4L634.0,235.4L609.7,229.9Z"/>
<path d="M609.7,229.9L634.0,235.4L651.6,252.3L627.3,246.9Z"/>
<path d="M627.3,246.9L651.6,252.3L669.5,269.1L645.1,263.8Z"/>
<path d="M645.1,263.8L669.5,269.1L687.5,286.0L663.1,280.7Z"/>
<path d="M663.1,280.7L687.5,286.0L705.7,302.8L681.3,297.6Z"/>
<path d="M681.3,297.6L705.7,302.8L724.1,319.6L699.7,314.3Z"/>
<path d="M699.7,314.3L724.1,319.6L742.6,336.4L718.3,331.1Z"/>
<path d="M718.3,331.1L742.6,336.4L761.4,353.2L737.1,347.8Z"/>
<path d="M737.1,347.8L761.4,353.2L780.4,369.9L756.1,364.4Z"/>
<path d="M756.1,364.4L780.4,369.9L799.7,386.7L775.4,381.0Z"/>
<path d="M775.4,381.0L799.7,386.7L819.1,403.4L794.8,397.6Z"/>
<path d="M794.8,397.6L819.1,403.4L838.8,420.1L814.5,414.1Z"/>
<path d="M814.5,414.1L838.8,420.1L858.7,436.8L834.4,430.6Z"/>
<path d="M834.4,430.6L858.7,436.8L878.8,453.5L854.6,447.0Z"/>
<path d="M854.6,447.0L878.8,453.5L899.2,470.2L875.0,463.4Z"/>
<path d="M875.0,463.4L899.2,470.2L919.9,486.9L895.7,479.8Z"/>
<path d="M895.7,479.8L919.9,486.9L940.8,503.5L916.7,496.2Z"/>
<path d="M916.7,496.2L940.8,503.5L962.0,520.2L937.9,512.5Z"/>
<path d="M937.9,512.5L962.0,520.2L983.4,536.9L959.4,528.7Z"/>
<path d="M959.4,528.7L983.4,536.9L1005.1,553.6L981.2,545.0Z"/>
<path d="M616.5,218.4L640.5,224.1L658.0,240.9L634.0,235.4Z"/>
<path d="M634.0,235.4L658.0,240.9L675.6,257.6L651.6,252.3Z"/>
<path d="M651.6,252.3L675.6,257.6L693.4,274.4L669.5,269.1Z"/>
<path d="M669.5,269.1L693.4,274.4L711.5,291.2L687.5,286.0Z"/>
<path d="M687.5,286.0L711.5,291.2L729.6,308.0L705.7,302.8Z"/>
<path d="M705.7,302.8L729.6,308.0L748.0,324.8L724.1,319.6Z"/>
<path d="M724.1,319.6L748.0,324.8L766.6,341.6L742.6,336.4Z"/>
<path d="M742.6,336.4L766.6,341.6L785.4,358.4L761.4,353.2Z"/>
<path d="M761.4,353.2L785.4,358.4L804.4,375.3L780.4,369.9Z"/>
<path d="M780.4,369.9L804.4,375.3L823.6,392.1L799.7,386.7Z"/>
<path d="M799.7,386.7L823.6,392.1L843.0,409.0L819.1,403.4Z"/>
<path d="M819.1,403.4L843.0,409.0L862.7,425.9L838.8,420.1Z"/>
<path d="M838.8,420.1L862.7,425.9L882.6,442.9L858.7,436.8Z"/>
<path d="M858.7,436.8L882.6,442.9L902.7,459.9L878.8,453.5Z"/>
<path d="M878.8,453.5L902.7,459.9L923.1,476.9L899.2,470.2Z"/>
<path d="M899.2,470.2L923.1,476.9L943.7,493.9L919.9,486.9Z"/>
<path d="M919.9,486.9L943.7,493.9L964.5,511.0L940.8,503.5Z"/>
<path d="M940.8,503.5L964.5,511.0L985.6,528.1L962.0,520.2Z"/>
<path d="M962.0,520.2L985.6,528.1L1007.0,545.3L983.4,536.9Z"/>
<path d="M983.4,536.9L1007.0,545.3L1028.7,562.5L1005.1,553.6Z"/>
<path d="M640.5,224.1L664.2,229.9L681.6,246.4L658.0,240.9Z"/>
<path d="M658.0,240.9L681.6,246.4L699.3,263.0L675.6,257.6Z"/>
<path d="M675.6,257.6L699.3,263.0L717.1,279.6L693.4,274.4Z"/>
<path d="M693.4,274.4L717.1,279.6L735.1,296.2L711.5,291.2Z"/>
<path d="M711.5,291.2L735.1,296.2L753.3,313.0L729.6,308.0Z"/>
<path d="M729.6,308.0L753.3,313.0L771.7,329.7L748.0,324.8Z"/>
<path d="M748.0,324.8L771.7,329.7L790.3,346.6L766.6,341.6Z"/>
<path d="M766.6,341.6L790.3,346.6L809.1,363.4L785.4,358.4Z"/>
<path d="M785.4,358.4L809.1,363.4L828.0,380.4L804.4,375.3Z"/>
<path d="M804.4,375.3L828.0,380.4L847.2,397.4L823.6,392.1Z"/>
<path d="M823.6,392.1L847.2,397.4L866.6,414.5L843.0,409.0Z"/>
<path d="M843.0,409.0L866.6,414.5L886.3,431.7L862.7,425.9Z"/>
<path d="M862.7,425.9L886.3,431.7L906.1,448.9L882.6,442.9Z"/>
<path d="M882.6,442.9L906.1,448.9L926.2,466.2L902.7,459.9Z"/>
<path d="M902.7,459.9L926.2,466.2L946.5,483.6L923.1,476.9Z"/>
<path d="M923.1,476.9L946.5,483.6L967.0,501.0L943.7,493.9Z"/>
<path d="M943.7,493.9L967.0,501.0L987.8,518.6L964.5,511.0Z"/>
<path d="M964.5,511.0L987.8,518.6L1008.9,536.2L985.6,528.1Z"/>
<path d="M985.6,528.1L1008.9,536.2L1030.2,553.9L1007.0,545.3Z"/>
<path d="M1007.0,545.3L1030.2,553.9L1051.7,571.7L1028.7,562.5Z"/>
<path d="M664.2,229.9L687.5,235.8L705.0,252.0L681.6,246.4Z"/>
<path d="M681.6,246.4L705.0,252.0L722.6,268.3L699.3,263.0Z"/>
<path d="M699.3,263.0L722.6,268.3L740.5,284.7L717.1,279.6Z"/>
<path d="M717.1,279.6L740.5,284.7L758.5,301.2L735.1,296.2Z"/>
<path d="M735.1,296.2L758.5,301.2L776.6,317.8L753.3,313.0Z"/>
<path d="M753.3,313.0L776.6,317.8L795.0,334.5L771.7,329.7Z"/>
<path d="M771.7,329.7L795.0,334.5L813.6,351.3L790.3,346.6Z"/>
<path d="M790.3,346.6L813.6,351.3L832.4,368.3L809.1,363.4Z"/>
<path d="M809.1,363.4L832.4,368.3L851.3,385.3L828.0,380.4Z"/>
<path d="M828.0,380.4L851.3,385.3L870.5,402.5L847.2,397.4Z"/>
<path d="M847.2,397.4L870.5,402.5L889.9,419.8L866.6,414.5Z"/>
<path d="M866.6,414.5L889.9,419.8L909.5,437.2L886.3,431.7Z"/>
<path d="M886.3,431.7L909.5,437.2L929.3,454.8L906.1,448.9Z"/>
<path d="M906.1,448.9L929.3,454.8L949.3,472.4L926.2,466.2Z"/>
<path d="M926.2,466.2L949.3,472.4L969.6,490.2L946.5,483.6Z"/>
<path d="M946.5,483.6L969.6,490.2L990.1,508.2L967.0,501.0Z"/>
<path d="M967.0,501.0L990.1,508.2L1010.8,526.3L987.8,518.6Z"/>
<path d="M987.8,518.6L1010.8,526.3L1031.8,544.5L1008.9,536.2Z"/>
<path d="M1008.9,536.2L1031.8,544.5L1053.0,562.8L1030.2,553.9Z"/>
<path d="M1030.2,553.9L1053.0,562.8L1074.4,581.3L1051.7,571.7Z"/>
<path d="M687.5,235.8L710.6,241.7L728.0,257.5L705.0,252.0Z"/>
<path d="M705.0,252.0L728.0,257.5L745.7,273.5L722.6,268.3Z"/>
<path d="M722.6,268.3L745.7,273.5L763.5,289.7L740.5,284.7Z"/>
<path d="M740.5,284.7L763.5,289.7L781.5,306.0L758.5,301.2Z"/>
<path d="M758.5,301.2L781.5,306.0L799.7,322.4L776.6,317.8Z"/>
<path d="M776.6,317.8L799.7,322.4L818.0,339.1L795.0,334.5Z"/>
<path d="M795.0,334.5L818.0,339.1L836.6,355.9L813.6,351.3Z"/>
<path d="M813.6,351.3L836.6,355.9L855.4,372.9L832.4,368.3Z"/>
<path d="M832.4,368.3L855.4,372.9L874.3,390.0L851.3,385.3Z"/>
<path d="M851.3,385.3L874.3,390.0L893.5,407.4L870.5,402.5Z"/>
<path d="M870.5,402.5L893.5,407.4L912.8,424.9L889.9,419.8Z"/>
<path d="M889.9,419.8L912.8,424.9L932.4,442.6L909.5,437.2Z"/>
<path d="M909.5,437.2L932.4,442.6L952.1,460.5L929.3,454.8Z"/>
<path d="M929.3,454.8L952.1,460.5L972.1,478.6L949.3,472.4Z"/>
<path d="M949.3,472.4L972.1,478.6L992.3,496.9L969.6,490.2Z"/>
<path d="M969.6,490.2L992.3,496.9L1012.7,515.4L990.1,508.2Z"/>
<path d="M990.1,508.2L1012.7,515.4L1033.4,534.1L1010.8,526.3Z"/>
<path d="M1010.8,526.3L1033.4,534.1L1054.2,552.9L1031.8,544.5Z"/>
<path d="M1031.8,544.5L1054.2,552.9L1075.3,572.0L1053.0,562.8Z"/>
<path d="M1053.0,562.8L1075.3,572.0L1096.6,591.3L1074.4,581.3Z"/>
</g>
<g fill="none" stroke="#000" stroke-opacity="0.5" stroke-width="1.9" stroke-linejoin="round">
<path d="M186.9,166.1L195.2,172.0L203.5,178.0L211.8,183.9L220.2,190.0L228.7,196.0L237.2,202.2L245.8,208.3L254.4,214.5L263.1,220.7L271.8,227.0L280.7,233.3L289.5,239.7L298.5,246.1L307.5,252.6L316.5,259.1L325.7,265.6L334.9,272.2L344.1,278.8L353.4,285.5L362.8,292.2L372.3,299.0L381.8,305.8L391.4,312.7L401.1,319.6L410.8,326.6L420.6,333.6L430.5,340.7L440.5,347.9L450.5,355.0L460.6,362.3L470.8,369.6L481.0,376.9L491.4,384.3L501.8,391.7L512.3,399.2L522.9,406.8L533.5,414.4L544.2,422.1L555.1,429.8L566.0,437.6"/>
<path d="M216.3,165.8L224.6,172.1L233.0,178.4L241.4,184.7L249.9,191.1L258.4,197.5L267.0,203.9L275.6,210.4L284.3,216.9L293.1,223.4L301.9,230.0L310.8,236.6L319.7,243.2L328.7,249.9L337.7,256.6L346.9,263.3L356.0,270.1L365.3,276.9L374.6,283.7L384.0,290.6L393.4,297.6L402.9,304.5L412.5,311.5L422.1,318.5L431.8,325.6L441.6,332.7L451.5,339.9L461.4,347.1L471.4,354.3L481.4,361.6L491.6,368.9L501.8,376.3L512.1,383.7L522.4,391.2L532.9,398.7L543.4,406.2L554.0,413.8L564.7,421.4L575.4,429.1L586.3,436.8L597.2,444.6"/>
<path d="M245.4,166.1L253.7,172.8L262.2,179.4L270.6,186.1L279.2,192.8L287.8,199.5L296.4,206.2L305.1,212.9L313.9,219.7L322.7,226.5L331.5,233.4L340.5,240.2L349.4,247.1L358.5,254.0L367.6,260.9L376.8,267.9L386.0,274.9L395.3,281.9L404.6,288.9L414.0,296.0L423.5,303.1L433.1,310.2L442.7,317.3L452.3,324.5L462.1,331.7L471.9,339.0L481.8,346.2L491.7,353.5L501.7,360.9L511.8,368.2L522.0,375.6L532.2,383.1L542.6,390.5L552.9,398.0L563.4,405.5L573.9,413.1L584.6,420.7L595.3,428.3L606.0,436.0L616.9,443.7L627.9,451.5"/>
<path d="M274.1,167.1L282.5,174.1L291.0,181.0L299.5,188.0L308.1,194.9L316.8,201.9L325.5,208.9L334.2,216.0L343.0,223.0L351.9,230.0L360.8,237.1L369.8,244.2L378.8,251.3L387.9,258.4L397.0,265.6L406.2,272.7L415.5,279.9L424.8,287.1L434.2,294.3L443.6,301.5L453.2,308.8L462.7,316.0L472.4,323.3L482.1,330.6L491.9,337.9L501.7,345.3L511.6,352.7L521.6,360.1L531.6,367.5L541.7,374.9L551.9,382.3L562.2,389.8L572.5,397.3L582.9,404.9L593.4,412.4L604.0,420.0L614.6,427.6L625.3,435.2L636.1,442.8L647.0,450.5L658.0,458.2"/>
<path d="M302.5,168.7L310.9,175.9L319.5,183.1L328.1,190.4L336.7,197.6L345.4,204.9L354.1,212.1L362.9,219.4L371.8,226.6L380.7,233.9L389.6,241.2L398.6,248.5L407.7,255.8L416.8,263.1L426.0,270.5L435.3,277.8L444.6,285.1L453.9,292.5L463.3,299.8L472.8,307.2L482.3,314.6L492.0,322.0L501.6,329.4L511.4,336.8L521.2,344.3L531.0,351.7L540.9,359.1L550.9,366.6L561.0,374.1L571.2,381.6L581.4,389.1L591.6,396.6L602.0,404.1L612.4,411.7L622.9,419.2L633.5,426.8L644.2,434.4L654.9,442.0L665.7,449.6L676.6,457.3L687.6,464.9"/>
<path d="M330.5,170.8L339.0,178.2L347.6,185.7L356.2,193.2L364.9,200.7L373.7,208.2L382.4,215.7L391.3,223.1L400.2,230.6L409.1,238.1L418.1,245.6L427.1,253.1L436.2,260.6L445.4,268.1L454.6,275.6L463.9,283.1L473.2,290.6L482.6,298.1L492.0,305.6L501.5,313.1L511.1,320.6L520.7,328.1L530.4,335.6L540.2,343.1L550.0,350.6L559.9,358.1L569.8,365.7L579.8,373.2L589.9,380.7L600.1,388.3L610.3,395.8L620.6,403.4L631.0,410.9L641.4,418.5L651.9,426.1L662.5,433.6L673.2,441.2L683.9,448.8L694.8,456.4L705.7,464.0L716.7,471.6"/>
<path d="M358.2,173.3L366.8,181.1L375.4,188.8L384.1,196.5L392.8,204.2L401.6,211.9L410.4,219.6L419.2,227.2L428.1,234.9L437.1,242.6L446.1,250.3L455.2,257.9L464.3,265.6L473.5,273.2L482.8,280.9L492.0,288.5L501.4,296.1L510.8,303.8L520.3,311.4L529.8,319.0L539.4,326.6L549.0,334.2L558.7,341.8L568.5,349.4L578.4,357.0L588.3,364.6L598.2,372.2L608.3,379.8L618.4,387.4L628.5,395.0L638.8,402.6L649.1,410.2L659.5,417.7L669.9,425.3L680.4,432.9L691.1,440.5L701.7,448.1L712.5,455.6L723.3,463.2L734.2,470.8L745.2,478.3"/>
<path d="M385.6,176.4L394.2,184.3L402.8,192.2L411.5,200.1L420.3,208.0L429.1,215.9L437.9,223.8L446.8,231.6L455.7,239.5L464.7,247.3L473.8,255.1L482.9,262.9L492.0,270.7L501.2,278.5L510.5,286.3L519.8,294.1L529.2,301.8L538.6,309.6L548.1,317.3L557.6,325.0L567.2,332.7L576.9,340.4L586.6,348.1L596.4,355.8L606.3,363.5L616.2,371.2L626.2,378.8L636.2,386.5L646.3,394.1L656.5,401.7L666.8,409.4L677.1,417.0L687.5,424.6L697.9,432.2L708.5,439.8L719.1,447.3L729.8,454.9L740.6,462.5L751.4,470.0L762.3,477.6L773.3,485.1"/>
<path d="M412.6,179.8L421.2,187.9L429.9,196.0L438.6,204.1L447.4,212.2L456.2,220.2L465.1,228.2L474.0,236.2L483.0,244.2L492.0,252.2L501.0,260.2L510.2,268.1L519.3,276.0L528.6,283.9L537.8,291.8L547.2,299.7L556.6,307.6L566.0,315.4L575.5,323.3L585.1,331.1L594.7,338.9L604.4,346.7L614.1,354.5L623.9,362.2L633.8,370.0L643.7,377.7L653.7,385.4L663.7,393.1L673.9,400.8L684.0,408.5L694.3,416.1L704.6,423.8L715.0,431.4L725.5,439.0L736.1,446.6L746.7,454.2L757.4,461.8L768.1,469.4L779.0,476.9L789.9,484.5L800.9,492.0"/>
<path d="M439.3,183.7L447.9,191.9L456.6,200.2L465.4,208.4L474.2,216.6L483.0,224.8L491.9,232.9L500.8,241.1L509.8,249.2L518.8,257.3L527.9,265.4L537.1,273.4L546.2,281.4L555.5,289.5L564.8,297.5L574.1,305.4L583.5,313.4L593.0,321.3L602.5,329.3L612.1,337.2L621.7,345.1L631.4,352.9L641.1,360.8L650.9,368.6L660.8,376.4L670.7,384.2L680.7,392.0L690.8,399.7L700.9,407.5L711.1,415.2L721.4,422.9L731.7,430.6L742.1,438.2L752.6,445.9L763.2,453.5L773.8,461.1L784.5,468.7L795.3,476.3L806.1,483.9L817.0,491.4L828.1,499.0"/>
<path d="M465.6,187.9L474.3,196.2L483.0,204.6L491.8,212.9L500.6,221.2L509.4,229.5L518.3,237.8L527.3,246.0L536.3,254.3L545.3,262.5L554.4,270.6L563.6,278.8L572.8,286.9L582.0,295.0L591.3,303.1L600.7,311.2L610.1,319.2L619.5,327.3L629.1,335.3L638.6,343.3L648.3,351.2L658.0,359.1L667.7,367.1L677.5,375.0L687.4,382.8L697.4,390.7L707.4,398.5L717.4,406.3L727.6,414.1L737.8,421.9L748.1,429.7L758.4,437.4L768.8,445.1L779.3,452.8L789.8,460.5L800.5,468.1L811.2,475.8L821.9,483.4L832.8,491.0L843.7,498.6L854.7,506.1"/>
<path d="M491.6,192.4L500.3,200.8L509.0,209.3L517.8,217.7L526.6,226.1L535.5,234.5L544.4,242.8L553.4,251.2L562.4,259.5L571.4,267.8L580.5,276.0L589.7,284.2L598.9,292.5L608.1,300.6L617.5,308.8L626.8,317.0L636.2,325.1L645.7,333.2L655.2,341.2L664.8,349.3L674.5,357.3L684.2,365.3L693.9,373.3L703.8,381.3L713.6,389.2L723.6,397.2L733.6,405.1L743.7,412.9L753.8,420.8L764.0,428.6L774.3,436.4L784.6,444.2L795.0,452.0L805.5,459.8L816.0,467.5L826.7,475.2L837.4,482.9L848.1,490.5L859.0,498.2L869.9,505.8L880.9,513.4"/>
<path d="M517.3,197.2L526.0,205.7L534.7,214.2L543.5,222.7L552.3,231.1L561.2,239.6L570.1,248.0L579.1,256.4L588.1,264.8L597.2,273.1L606.3,281.4L615.4,289.7L624.6,298.0L633.9,306.2L643.2,314.5L652.6,322.7L662.0,330.9L671.5,339.0L681.0,347.2L690.6,355.3L700.3,363.4L710.0,371.5L719.7,379.5L729.6,387.6L739.4,395.6L749.4,403.6L759.4,411.5L769.5,419.5L779.6,427.4L789.8,435.3L800.1,443.2L810.4,451.1L820.8,458.9L831.3,466.7L841.8,474.5L852.4,482.3L863.1,490.1L873.9,497.8L884.7,505.6L895.7,513.3L906.7,520.9"/>
<path d="M542.6,202.2L551.3,210.7L560.0,219.3L568.8,227.8L577.7,236.3L586.5,244.8L595.5,253.2L604.4,261.7L613.5,270.1L622.5,278.5L631.7,286.8L640.8,295.2L650.0,303.5L659.3,311.8L668.6,320.1L678.0,328.4L687.4,336.6L696.9,344.8L706.4,353.0L716.0,361.2L725.7,369.4L735.4,377.5L745.1,385.7L755.0,393.8L764.9,401.8L774.8,409.9L784.8,418.0L794.9,426.0L805.0,434.0L815.2,442.0L825.5,450.0L835.8,457.9L846.2,465.9L856.7,473.8L867.2,481.7L877.8,489.5L888.5,497.4L899.2,505.3L910.1,513.1L921.0,520.9L931.9,528.7"/>
<path d="M567.6,207.4L576.3,216.0L585.0,224.5L593.8,233.1L602.7,241.6L611.5,250.1L620.5,258.5L629.5,267.0L638.5,275.4L647.6,283.8L656.7,292.2L665.8,300.6L675.1,309.0L684.3,317.3L693.7,325.6L703.0,334.0L712.5,342.2L721.9,350.5L731.5,358.8L741.1,367.0L750.7,375.3L760.4,383.5L770.2,391.7L780.0,399.9L789.9,408.0L799.8,416.2L809.8,424.3L819.9,432.4L830.0,440.5L840.2,448.6L850.4,456.7L860.8,464.8L871.2,472.8L881.6,480.9L892.1,488.9L902.7,496.9L913.4,504.9L924.1,512.8L934.9,520.8L945.8,528.8L956.8,536.7"/>
<path d="M592.2,212.9L600.9,221.4L609.7,229.9L618.5,238.4L627.3,246.9L636.2,255.4L645.1,263.8L654.1,272.3L663.1,280.7L672.2,289.1L681.3,297.6L690.5,306.0L699.7,314.3L709.0,322.7L718.3,331.1L727.7,339.4L737.1,347.8L746.6,356.1L756.1,364.4L765.7,372.7L775.4,381.0L785.1,389.3L794.8,397.6L804.6,405.9L814.5,414.1L824.4,422.4L834.4,430.6L844.5,438.8L854.6,447.0L864.8,455.2L875.0,463.4L885.3,471.6L895.7,479.8L906.2,488.0L916.7,496.2L927.2,504.3L937.9,512.5L948.6,520.6L959.4,528.7L970.2,536.9L981.2,545.0"/>
<path d="M616.5,218.4L625.2,226.9L634.0,235.4L642.8,243.8L651.6,252.3L660.5,260.7L669.5,269.1L678.4,277.6L687.5,286.0L696.5,294.4L705.7,302.8L714.8,311.2L724.1,319.6L733.3,328.0L742.6,336.4L752.0,344.8L761.4,353.2L770.9,361.5L780.4,369.9L790.0,378.3L799.7,386.7L809.4,395.0L819.1,403.4L828.9,411.7L838.8,420.1L848.7,428.4L858.7,436.8L868.7,445.1L878.8,453.5L889.0,461.8L899.2,470.2L909.5,478.5L919.9,486.9L930.3,495.2L940.8,503.5L951.3,511.9L962.0,520.2L972.6,528.5L983.4,536.9L994.2,545.2L1005.1,553.6"/>
<path d="M640.5,224.1L649.2,232.5L658.0,240.9L666.8,249.3L675.6,257.6L684.5,266.0L693.4,274.4L702.4,282.8L711.5,291.2L720.5,299.6L729.6,308.0L738.8,316.3L748.0,324.8L757.3,333.2L766.6,341.6L776.0,350.0L785.4,358.4L794.9,366.8L804.4,375.3L814.0,383.7L823.6,392.1L833.3,400.6L843.0,409.0L852.8,417.5L862.7,425.9L872.6,434.4L882.6,442.9L892.6,451.4L902.7,459.9L912.8,468.4L923.1,476.9L933.3,485.4L943.7,493.9L954.0,502.5L964.5,511.0L975.0,519.6L985.6,528.1L996.3,536.7L1007.0,545.3L1017.8,553.9L1028.7,562.5"/>
<path d="M664.2,229.9L672.9,238.2L681.6,246.4L690.4,254.7L699.3,263.0L708.2,271.3L717.1,279.6L726.1,287.9L735.1,296.2L744.2,304.6L753.3,313.0L762.5,321.3L771.7,329.7L781.0,338.1L790.3,346.6L799.6,355.0L809.1,363.4L818.5,371.9L828.0,380.4L837.6,388.9L847.2,397.4L856.9,405.9L866.6,414.5L876.4,423.1L886.3,431.7L896.2,440.3L906.1,448.9L916.1,457.5L926.2,466.2L936.3,474.9L946.5,483.6L956.7,492.3L967.0,501.0L977.4,509.8L987.8,518.6L998.3,527.4L1008.9,536.2L1019.5,545.0L1030.2,553.9L1040.9,562.8L1051.7,571.7"/>
<path d="M687.5,235.8L696.2,243.9L705.0,252.0L713.8,260.1L722.6,268.3L731.5,276.5L740.5,284.7L749.4,292.9L758.5,301.2L767.5,309.5L776.6,317.8L785.8,326.1L795.0,334.5L804.3,342.9L813.6,351.3L823.0,359.8L832.4,368.3L841.8,376.8L851.3,385.3L860.9,393.9L870.5,402.5L880.2,411.1L889.9,419.8L899.7,428.5L909.5,437.2L919.4,446.0L929.3,454.8L939.3,463.6L949.3,472.4L959.4,481.3L969.6,490.2L979.8,499.2L990.1,508.2L1000.4,517.2L1010.8,526.3L1021.2,535.3L1031.8,544.5L1042.3,553.6L1053.0,562.8L1063.6,572.1L1074.4,581.3"/>
<path d="M710.6,241.7L719.3,249.6L728.0,257.5L736.8,265.5L745.7,273.5L754.6,281.6L763.5,289.7L772.5,297.8L781.5,306.0L790.6,314.2L799.7,322.4L808.8,330.7L818.0,339.1L827.3,347.5L836.6,355.9L846.0,364.4L855.4,372.9L864.8,381.4L874.3,390.0L883.9,398.7L893.5,407.4L903.1,416.1L912.8,424.9L922.6,433.7L932.4,442.6L942.2,451.6L952.1,460.5L962.1,469.5L972.1,478.6L982.2,487.7L992.3,496.9L1002.5,506.1L1012.7,515.4L1023.0,524.7L1033.4,534.1L1043.8,543.5L1054.2,552.9L1064.7,562.5L1075.3,572.0L1085.9,581.7L1096.6,591.3"/>
</g>
<g fill="none" stroke="#000" stroke-opacity="0.45" stroke-width="2.1" stroke-linejoin="round">
<path d="M186.9,166.1L201.7,165.9L216.3,165.8L230.9,165.9L245.4,166.1L259.8,166.6L274.1,167.1L288.3,167.8L302.5,168.7L316.5,169.6L330.5,170.8L344.4,172.0L358.2,173.3L371.9,174.8L385.6,176.4L399.1,178.0L412.6,179.8L426.0,181.7L439.3,183.7L452.5,185.7L465.6,187.9L478.7,190.1L491.6,192.4L504.5,194.7L517.3,197.2L530.0,199.6L542.6,202.2L555.1,204.8L567.6,207.4L579.9,210.1L592.2,212.9L604.4,215.6L616.5,218.4L628.6,221.3L640.5,224.1L652.4,227.0L664.2,229.9L675.9,232.9L687.5,235.8L699.1,238.7L710.6,241.7"/>
<path d="M203.5,178.0L218.3,178.1L233.0,178.4L247.6,178.8L262.2,179.4L276.6,180.1L291.0,181.0L305.3,182.0L319.5,183.1L333.6,184.4L347.6,185.7L361.6,187.2L375.4,188.8L389.2,190.4L402.8,192.2L416.4,194.1L429.9,196.0L443.3,198.1L456.6,200.2L469.9,202.4L483.0,204.6L496.1,206.9L509.0,209.3L521.9,211.7L534.7,214.2L547.4,216.7L560.0,219.3L572.6,221.9L585.0,224.5L597.4,227.2L609.7,229.9L621.9,232.6L634.0,235.4L646.0,238.1L658.0,240.9L669.9,243.7L681.6,246.4L693.4,249.2L705.0,252.0L716.5,254.8L728.0,257.5"/>
<path d="M220.2,190.0L235.1,190.5L249.9,191.1L264.6,191.9L279.2,192.8L293.7,193.8L308.1,194.9L322.5,196.2L336.7,197.6L350.9,199.1L364.9,200.7L378.9,202.4L392.8,204.2L406.6,206.1L420.3,208.0L433.9,210.1L447.4,212.2L460.8,214.3L474.2,216.6L487.4,218.9L500.6,221.2L513.7,223.7L526.6,226.1L539.5,228.6L552.3,231.1L565.0,233.7L577.7,236.3L590.2,238.9L602.7,241.6L615.0,244.2L627.3,246.9L639.5,249.6L651.6,252.3L663.7,254.9L675.6,257.6L687.5,260.3L699.3,263.0L711.0,265.6L722.6,268.3L734.2,270.9L745.7,273.5"/>
<path d="M237.2,202.2L252.1,203.0L267.0,203.9L281.7,205.0L296.4,206.2L311.0,207.5L325.5,208.9L339.8,210.5L354.1,212.1L368.3,213.8L382.4,215.7L396.4,217.6L410.4,219.6L424.2,221.6L437.9,223.8L451.5,226.0L465.1,228.2L478.5,230.6L491.9,232.9L505.2,235.3L518.3,237.8L531.4,240.3L544.4,242.8L557.3,245.4L570.1,248.0L582.8,250.6L595.5,253.2L608.0,255.9L620.5,258.5L632.9,261.2L645.1,263.8L657.3,266.5L669.5,269.1L681.5,271.8L693.4,274.4L705.3,277.0L717.1,279.6L728.8,282.1L740.5,284.7L752.0,287.2L763.5,289.7"/>
<path d="M254.4,214.5L269.4,215.6L284.3,216.9L299.1,218.2L313.9,219.7L328.5,221.3L343.0,223.0L357.4,224.8L371.8,226.6L386.0,228.6L400.2,230.6L414.2,232.7L428.1,234.9L442.0,237.2L455.7,239.5L469.4,241.8L483.0,244.2L496.4,246.7L509.8,249.2L523.1,251.7L536.3,254.3L549.4,256.9L562.4,259.5L575.3,262.1L588.1,264.8L600.8,267.4L613.5,270.1L626.0,272.7L638.5,275.4L650.9,278.1L663.1,280.7L675.3,283.4L687.5,286.0L699.5,288.6L711.5,291.2L723.3,293.7L735.1,296.2L746.8,298.7L758.5,301.2L770.0,303.6L781.5,306.0"/>
<path d="M271.8,227.0L286.9,228.4L301.9,230.0L316.8,231.6L331.5,233.4L346.2,235.2L360.8,237.1L375.3,239.1L389.6,241.2L403.9,243.4L418.1,245.6L432.2,247.9L446.1,250.3L460.0,252.7L473.8,255.1L487.5,257.6L501.0,260.2L514.5,262.7L527.9,265.4L541.2,268.0L554.4,270.6L567.5,273.3L580.5,276.0L593.4,278.7L606.3,281.4L619.0,284.1L631.7,286.8L644.2,289.5L656.7,292.2L669.0,294.9L681.3,297.6L693.5,300.2L705.7,302.8L717.7,305.4L729.6,308.0L741.5,310.5L753.3,313.0L765.0,315.4L776.6,317.8L788.2,320.1L799.7,322.4"/>
<path d="M289.5,239.7L304.7,241.4L319.7,243.2L334.6,245.1L349.4,247.1L364.2,249.2L378.8,251.3L393.3,253.5L407.7,255.8L422.0,258.2L436.2,260.6L450.3,263.1L464.3,265.6L478.2,268.1L492.0,270.7L505.7,273.4L519.3,276.0L532.8,278.7L546.2,281.4L559.5,284.2L572.8,286.9L585.9,289.7L598.9,292.5L611.8,295.2L624.6,298.0L637.4,300.8L650.0,303.5L662.6,306.2L675.1,309.0L687.4,311.7L699.7,314.3L711.9,317.0L724.1,319.6L736.1,322.2L748.0,324.8L759.9,327.3L771.7,329.7L783.4,332.1L795.0,334.5L806.6,336.8L818.0,339.1"/>
<path d="M307.5,252.6L322.7,254.5L337.7,256.6L352.7,258.7L367.6,260.9L382.4,263.2L397.0,265.6L411.6,268.0L426.0,270.5L440.4,273.0L454.6,275.6L468.7,278.2L482.8,280.9L496.7,283.6L510.5,286.3L524.2,289.1L537.8,291.8L551.4,294.6L564.8,297.5L578.1,300.3L591.3,303.1L604.4,306.0L617.5,308.8L630.4,311.6L643.2,314.5L656.0,317.3L668.6,320.1L681.2,322.9L693.7,325.6L706.0,328.4L718.3,331.1L730.5,333.8L742.6,336.4L754.7,339.0L766.6,341.6L778.5,344.1L790.3,346.6L802.0,349.0L813.6,351.3L825.1,353.6L836.6,355.9"/>
<path d="M325.7,265.6L340.9,267.8L356.0,270.1L371.1,272.4L386.0,274.9L400.8,277.3L415.5,279.9L430.1,282.5L444.6,285.1L458.9,287.8L473.2,290.6L487.3,293.3L501.4,296.1L515.3,299.0L529.2,301.8L542.9,304.7L556.6,307.6L570.1,310.5L583.5,313.4L596.8,316.3L610.1,319.2L623.2,322.2L636.2,325.1L649.2,328.0L662.0,330.9L674.8,333.7L687.4,336.6L700.0,339.4L712.5,342.2L724.8,345.0L737.1,347.8L749.3,350.5L761.4,353.2L773.5,355.8L785.4,358.4L797.3,360.9L809.1,363.4L820.7,365.9L832.4,368.3L843.9,370.6L855.4,372.9"/>
<path d="M344.1,278.8L359.4,281.3L374.6,283.7L389.7,286.3L404.6,288.9L419.5,291.6L434.2,294.3L448.8,297.0L463.3,299.8L477.7,302.7L492.0,305.6L506.2,308.5L520.3,311.4L534.2,314.3L548.1,317.3L561.8,320.3L575.5,323.3L589.0,326.3L602.5,329.3L615.8,332.3L629.1,335.3L642.2,338.3L655.2,341.2L668.2,344.2L681.0,347.2L693.8,350.1L706.4,353.0L719.0,355.9L731.5,358.8L743.8,361.6L756.1,364.4L768.3,367.2L780.4,369.9L792.5,372.6L804.4,375.3L816.3,377.8L828.0,380.4L839.7,382.9L851.3,385.3L862.9,387.7L874.3,390.0"/>
<path d="M362.8,292.2L378.2,294.9L393.4,297.6L408.5,300.3L423.5,303.1L438.4,305.9L453.2,308.8L467.8,311.7L482.3,314.6L496.8,317.6L511.1,320.6L525.3,323.6L539.4,326.6L553.4,329.7L567.2,332.7L581.0,335.8L594.7,338.9L608.2,342.0L621.7,345.1L635.0,348.1L648.3,351.2L661.4,354.3L674.5,357.3L687.4,360.4L700.3,363.4L713.0,366.4L725.7,369.4L738.2,372.3L750.7,375.3L763.1,378.2L775.4,381.0L787.6,383.9L799.7,386.7L811.7,389.4L823.6,392.1L835.5,394.8L847.2,397.4L858.9,400.0L870.5,402.5L882.0,405.0L893.5,407.4"/>
<path d="M381.8,305.8L397.2,308.7L412.5,311.5L427.6,314.4L442.7,317.3L457.6,320.3L472.4,323.3L487.1,326.3L501.6,329.4L516.1,332.5L530.4,335.6L544.6,338.7L558.7,341.8L572.7,345.0L586.6,348.1L600.4,351.3L614.1,354.5L627.7,357.6L641.1,360.8L654.5,363.9L667.7,367.1L680.9,370.2L693.9,373.3L706.9,376.4L719.7,379.5L732.5,382.6L745.1,385.7L757.7,388.7L770.2,391.7L782.5,394.7L794.8,397.6L807.0,400.5L819.1,403.4L831.1,406.2L843.0,409.0L854.9,411.8L866.6,414.5L878.3,417.2L889.9,419.8L901.4,422.4L912.8,424.9"/>
<path d="M401.1,319.6L416.5,322.6L431.8,325.6L447.0,328.7L462.1,331.7L477.0,334.8L491.9,337.9L506.6,341.1L521.2,344.3L535.6,347.4L550.0,350.6L564.2,353.8L578.4,357.0L592.4,360.3L606.3,363.5L620.1,366.7L633.8,370.0L647.3,373.2L660.8,376.4L674.2,379.6L687.4,382.8L700.6,386.0L713.6,389.2L726.6,392.4L739.4,395.6L752.2,398.7L764.9,401.8L777.4,404.9L789.9,408.0L802.2,411.1L814.5,414.1L826.7,417.1L838.8,420.1L850.8,423.0L862.7,425.9L874.5,428.8L886.3,431.7L897.9,434.5L909.5,437.2L921.0,439.9L932.4,442.6"/>
<path d="M420.6,333.6L436.1,336.8L451.5,339.9L466.7,343.1L481.8,346.2L496.7,349.4L511.6,352.7L526.3,355.9L540.9,359.1L555.4,362.4L569.8,365.7L584.1,369.0L598.2,372.2L612.3,375.5L626.2,378.8L640.0,382.1L653.7,385.4L667.3,388.7L680.7,392.0L694.1,395.3L707.4,398.5L720.5,401.8L733.6,405.1L746.5,408.3L759.4,411.5L772.1,414.8L784.8,418.0L797.4,421.1L809.8,424.3L822.2,427.5L834.4,430.6L846.6,433.7L858.7,436.8L870.7,439.9L882.6,442.9L894.4,445.9L906.1,448.9L917.7,451.8L929.3,454.8L940.8,457.7L952.1,460.5"/>
<path d="M440.5,347.9L456.0,351.1L471.4,354.3L486.6,357.6L501.7,360.9L516.7,364.2L531.6,367.5L546.4,370.8L561.0,374.1L575.5,377.4L589.9,380.7L604.2,384.1L618.4,387.4L632.4,390.8L646.3,394.1L660.1,397.4L673.9,400.8L687.4,404.1L700.9,407.5L714.3,410.8L727.6,414.1L740.7,417.5L753.8,420.8L766.8,424.1L779.6,427.4L792.4,430.7L805.0,434.0L817.5,437.3L830.0,440.5L842.4,443.8L854.6,447.0L866.8,450.3L878.8,453.5L890.8,456.7L902.7,459.9L914.5,463.0L926.2,466.2L937.8,469.3L949.3,472.4L960.8,475.5L972.1,478.6"/>
<path d="M460.6,362.3L476.2,365.6L491.6,368.9L506.8,372.3L522.0,375.6L537.0,379.0L551.9,382.3L566.7,385.7L581.4,389.1L595.9,392.5L610.3,395.8L624.6,399.2L638.8,402.6L652.8,406.0L666.8,409.4L680.6,412.7L694.3,416.1L707.9,419.5L721.4,422.9L734.8,426.3L748.1,429.7L761.2,433.1L774.3,436.4L787.2,439.8L800.1,443.2L812.8,446.6L825.5,450.0L838.0,453.3L850.4,456.7L862.8,460.1L875.0,463.4L887.2,466.8L899.2,470.2L911.2,473.5L923.1,476.9L934.8,480.2L946.5,483.6L958.1,486.9L969.6,490.2L981.0,493.6L992.3,496.9"/>
<path d="M481.0,376.9L496.6,380.3L512.1,383.7L527.4,387.1L542.6,390.5L557.6,393.9L572.5,397.3L587.3,400.7L602.0,404.1L616.5,407.5L631.0,410.9L645.3,414.3L659.5,417.7L673.5,421.2L687.5,424.6L701.3,428.0L715.0,431.4L728.6,434.8L742.1,438.2L755.5,441.7L768.8,445.1L782.0,448.6L795.0,452.0L808.0,455.5L820.8,458.9L833.6,462.4L846.2,465.9L858.7,469.3L871.2,472.8L883.5,476.3L895.7,479.8L907.8,483.3L919.9,486.9L931.8,490.4L943.7,493.9L955.4,497.5L967.0,501.0L978.6,504.6L990.1,508.2L1001.4,511.8L1012.7,515.4"/>
<path d="M501.8,391.7L517.4,395.2L532.9,398.7L548.2,402.1L563.4,405.5L578.5,409.0L593.4,412.4L608.2,415.8L622.9,419.2L637.5,422.7L651.9,426.1L666.3,429.5L680.4,432.9L694.5,436.3L708.5,439.8L722.3,443.2L736.1,446.6L749.7,450.1L763.2,453.5L776.6,457.0L789.8,460.5L803.0,464.0L816.0,467.5L829.0,471.0L841.8,474.5L854.6,478.1L867.2,481.7L879.7,485.3L892.1,488.9L904.4,492.5L916.7,496.2L928.8,499.8L940.8,503.5L952.7,507.3L964.5,511.0L976.2,514.8L987.8,518.6L999.4,522.4L1010.8,526.3L1022.1,530.1L1033.4,534.1"/>
<path d="M522.9,406.8L538.5,410.3L554.0,413.8L569.3,417.3L584.6,420.7L599.7,424.1L614.6,427.6L629.5,431.0L644.2,434.4L658.7,437.8L673.2,441.2L687.5,444.6L701.7,448.1L715.8,451.5L729.8,454.9L743.6,458.3L757.4,461.8L771.0,465.3L784.5,468.7L797.9,472.3L811.2,475.8L824.3,479.3L837.4,482.9L850.3,486.5L863.1,490.1L875.9,493.7L888.5,497.4L901.0,501.1L913.4,504.9L925.7,508.6L937.9,512.5L950.0,516.3L962.0,520.2L973.8,524.1L985.6,528.1L997.3,532.1L1008.9,536.2L1020.4,540.3L1031.8,544.5L1043.0,548.7L1054.2,552.9"/>
<path d="M544.2,422.1L559.9,425.6L575.4,429.1L590.8,432.6L606.0,436.0L621.2,439.4L636.1,442.8L651.0,446.2L665.7,449.6L680.3,453.0L694.8,456.4L709.1,459.8L723.3,463.2L737.4,466.6L751.4,470.0L765.3,473.5L779.0,476.9L792.6,480.4L806.1,483.9L819.5,487.4L832.8,491.0L845.9,494.6L859.0,498.2L871.9,501.9L884.7,505.6L897.5,509.3L910.1,513.1L922.5,516.9L934.9,520.8L947.2,524.7L959.4,528.7L971.4,532.8L983.4,536.9L995.3,541.0L1007.0,545.3L1018.6,549.6L1030.2,553.9L1041.6,558.3L1053.0,562.8L1064.2,567.4L1075.3,572.0"/>
<path d="M566.0,437.6L581.6,441.1L597.2,444.6L612.6,448.0L627.9,451.5L643.0,454.8L658.0,458.2L672.8,461.6L687.6,464.9L702.2,468.3L716.7,471.6L731.0,475.0L745.2,478.3L759.3,481.7L773.3,485.1L787.2,488.5L800.9,492.0L814.6,495.5L828.1,499.0L841.4,502.5L854.7,506.1L867.9,509.7L880.9,513.4L893.8,517.2L906.7,520.9L919.3,524.8L931.9,528.7L944.4,532.7L956.8,536.7L969.0,540.8L981.2,545.0L993.2,549.2L1005.1,553.6L1017.0,558.0L1028.7,562.5L1040.3,567.0L1051.7,571.7L1063.1,576.5L1074.4,581.3L1085.6,586.3L1096.6,591.3"/>
</g>
<circle cx="466.8" cy="186.7" r="10" fill="#c80d0d" stroke="#6a1010" stroke-width="1.4"/>
<circle cx="649" cy="330.5" r="10" fill="#c80d0d" stroke="#6a1010" stroke-width="1.4"/>
<circle cx="893.5" cy="410.4" r="10" fill="#c80d0d" stroke="#6a1010" stroke-width="1.4"/>
<g fill="#000">
<circle cx="186.9" cy="166.3" r="4.6"/>
<circle cx="195.3" cy="269.9" r="4.6"/>
<circle cx="203.7" cy="373.4" r="4.6"/>
<circle cx="212.1" cy="477.0" r="4.6"/>
<circle cx="220.4" cy="580.5" r="4.6"/>
<circle cx="230.5" cy="704.8" r="4.6"/>
<circle cx="316.8" cy="784.1" r="4.6"/>
<circle cx="702.0" cy="962.1" r="4.6"/>
<circle cx="403.1" cy="863.5" r="4.6"/>
<circle cx="828.2" cy="902.0" r="4.6"/>
<circle cx="489.5" cy="942.9" r="4.6"/>
<circle cx="954.5" cy="842.0" r="4.6"/>
<circle cx="575.8" cy="1022.2" r="4.6"/>
<circle cx="1080.7" cy="781.9" r="4.6"/>
</g>
<g font-family="'Liberation Serif', 'Times New Roman', serif" fill="#111" font-size="43">
<text x="157.5" y="183.3" text-anchor="end">100</text>
<text x="164.0" y="285.9" text-anchor="end">75</text>
<text x="175.9" y="389.5" text-anchor="end">50</text>
<text x="188.2" y="497.9" text-anchor="end">25</text>
<text x="198.1" y="598.1" text-anchor="end">0</text>
<text x="186.6" y="747.8" text-anchor="middle">55</text>
<text x="269.6" y="825.0" text-anchor="middle">45</text>
<text x="353.3" y="908.3" text-anchor="middle">35</text>
<text x="441.0" y="984.8" text-anchor="middle">25</text>
<text x="527.7" y="1067.1" text-anchor="middle">15</text>
<text x="616.9" y="1067.5" text-anchor="middle">0.2</text>
<text x="743.0" y="1010.2" text-anchor="middle">0.4</text>
<text x="875.5" y="946.4" text-anchor="middle">0.6</text>
<text x="1002.2" y="885.0" text-anchor="middle">0.8</text>
<text x="1128.8" y="828.6" text-anchor="middle">1.0</text>
</g>
<g font-family="'Liberation Serif', 'Times New Roman', serif" fill="#111">
<text transform="translate(50,408.5) rotate(-90)" text-anchor="middle" font-size="52.9">Ce(III) Exchange (%)</text>
<text transform="translate(286.3,981.9) rotate(45.6)" text-anchor="middle" font-size="51.7">Temperature (°C)</text>
<text transform="translate(924,1009.2) rotate(-26.85)" text-anchor="middle" font-size="52.6">Acid Concentration (M)</text>
</g>
</svg>
</body></html>
